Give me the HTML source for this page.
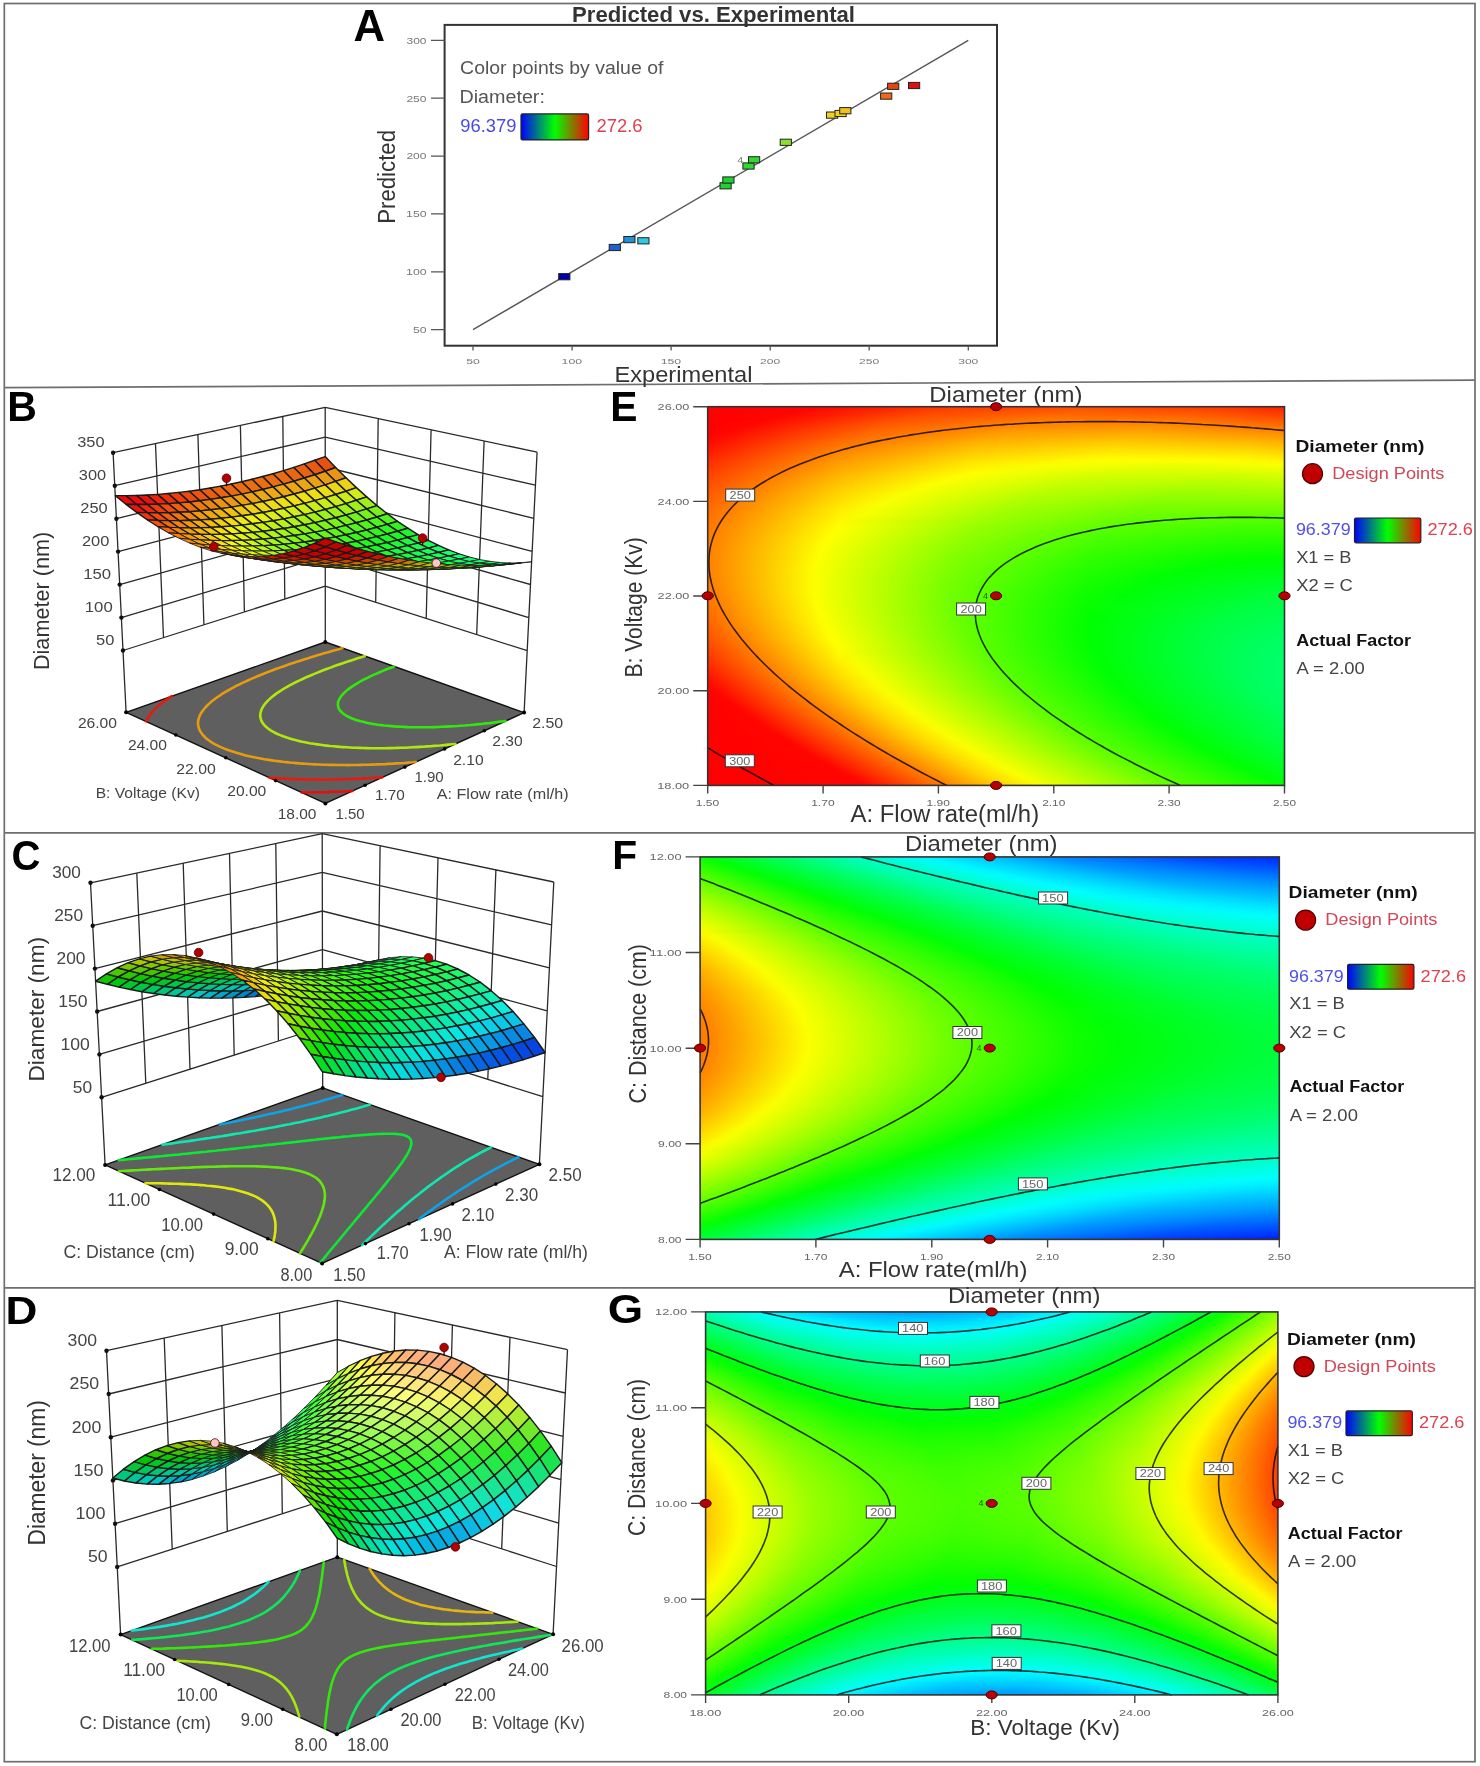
<!DOCTYPE html>
<html><head><meta charset="utf-8"><style>
html,body{margin:0;padding:0;background:#fff}
#c{position:relative;width:1480px;height:1766px;overflow:hidden;background:#fff;font-family:"Liberation Sans", sans-serif;filter:blur(0.45px)}
#c i{position:absolute;left:0;width:100%;height:4px;display:block}
svg{position:absolute;left:0;top:0}
text{font-family:"Liberation Sans", sans-serif}
</style></head><body><div id="c">
<div style="position:absolute;left:707.7px;top:406.7px;width:576.8px;height:378.7px;overflow:hidden">
<div style="position:absolute;left:-4px;top:-4px;width:584.8px;height:386.7px;filter:blur(1.6px)">
<i style="top:0px;background:linear-gradient(90deg,#f00 0.0%,#ff0500 22.1%,#ff3800 45.3%,#f40 68.6%,#ff2700 91.8%,#ff1400 99.9%)"></i>
<i style="top:4px;background:linear-gradient(90deg,#f00 0.0%,#ff0500 18.5%,#ff4000 41.7%,#ff5400 65.0%,#ff3f00 88.2%,#ff2600 99.9%)"></i>
<i style="top:8px;background:linear-gradient(90deg,#f00 0.0%,#ff0500 15.2%,#ff4700 38.5%,#ff6200 61.7%,#f50 85.0%,#ff3700 99.9%)"></i>
<i style="top:12px;background:linear-gradient(90deg,#f00 0.0%,#ff0500 12.5%,#ff4e00 35.7%,#ff6f00 59.0%,#ff6800 82.3%,#ff4800 99.9%)"></i>
<i style="top:16px;background:linear-gradient(90deg,#f00 0.0%,#ff0500 9.9%,#ff5400 33.2%,#ff7b00 56.4%,#ff7a00 79.7%,#ff5900 99.9%)"></i>
<i style="top:20px;background:linear-gradient(90deg,#f00 0.0%,#ff0500 7.7%,#ff5a00 31.0%,#ff8600 54.2%,#ff8b00 77.5%,#ff6a00 99.9%)"></i>
<i style="top:24px;background:linear-gradient(90deg,#f00 0.0%,#ff0600 5.8%,#ff6000 29.1%,#ff9100 52.3%,#ff9b00 75.6%,#ff7d00 98.8%,#ff7a00 99.9%)"></i>
<i style="top:28px;background:linear-gradient(90deg,#f00 0.0%,#ff0800 4.3%,#f60 27.5%,#ff9c00 50.8%,#fa0 74.0%,#ff9000 97.3%,#ff8b00 99.9%)"></i>
<i style="top:32px;background:linear-gradient(90deg,#f00 0.0%,#ff7200 28.2%,#ffa900 51.5%,#ffb700 74.7%,#ff9e00 98.0%,#ff9a00 99.9%)"></i>
<i style="top:36px;background:linear-gradient(90deg,#ff0300 0.0%,#ff6c00 23.3%,#ffac00 46.5%,#ffc500 69.8%,#ffb600 93.0%,#fa0 99.9%)"></i>
<i style="top:40px;background:linear-gradient(90deg,#ff0b00 0.0%,#ff7500 23.3%,#ffb800 46.5%,#ffd200 69.8%,#ffc500 93.0%,#ffb900 99.9%)"></i>
<i style="top:44px;background:linear-gradient(90deg,#ff1200 0.0%,#ff7f00 23.3%,#ffc300 46.5%,#ffdf00 69.8%,#ffd300 93.0%,#ffc800 99.9%)"></i>
<i style="top:48px;background:linear-gradient(90deg,#ff1a00 0.0%,#f80 23.3%,#ffce00 46.5%,#ffec00 69.8%,#ffe200 93.0%,#ffd700 99.9%)"></i>
<i style="top:52px;background:linear-gradient(90deg,#ff2100 0.0%,#ff9100 23.3%,#ffd800 46.5%,#fff800 69.8%,#fff000 93.0%,#ffe600 99.9%)"></i>
<i style="top:56px;background:linear-gradient(90deg,#ff2800 0.0%,#f90 23.3%,#ffe300 46.5%,#fdff00 66.2%,#fdff00 89.4%,#fff400 99.9%)"></i>
<i style="top:60px;background:linear-gradient(90deg,#ff2e00 0.0%,#ffa100 23.3%,#ffed00 46.5%,#faff00 58.8%,#ecff00 82.1%,#fcff00 99.9%)"></i>
<i style="top:64px;background:linear-gradient(90deg,#ff3500 0.0%,#ffa900 23.3%,#fff600 46.5%,#f5ff00 55.4%,#dfff00 78.7%,#ef0 99.9%)"></i>
<i style="top:68px;background:linear-gradient(90deg,#ff3b00 0.0%,#ffb100 23.3%,#ff0 46.2%,#d8ff00 69.4%,#d8ff00 92.7%,#e1ff00 99.9%)"></i>
<i style="top:72px;background:linear-gradient(90deg,#ff4000 0.0%,#ffb900 23.3%,#fdff00 43.4%,#d0ff00 66.7%,#caff00 89.9%,#d3ff00 99.9%)"></i>
<i style="top:76px;background:linear-gradient(90deg,#ff4600 0.0%,#ffc000 23.3%,#fcff00 41.0%,#c8ff00 64.3%,#bcff00 87.6%,#c6ff00 99.9%)"></i>
<i style="top:80px;background:linear-gradient(90deg,#ff4b00 0.0%,#ffc700 23.3%,#fbff00 38.6%,#c2ff00 61.9%,#b0ff00 85.2%,#baff00 99.9%)"></i>
<i style="top:84px;background:linear-gradient(90deg,#ff5000 0.0%,#ffce00 23.3%,#faff00 36.6%,#bcff00 59.8%,#a5ff00 83.1%,#adff00 99.9%)"></i>
<i style="top:88px;background:linear-gradient(90deg,#f50 0.0%,#ffd400 23.3%,#fbff00 34.5%,#b7ff00 57.8%,#9bff00 81.1%,#a1ff00 99.9%)"></i>
<i style="top:92px;background:linear-gradient(90deg,#ff5900 0.0%,#ffda00 23.3%,#faff00 32.8%,#b2ff00 56.1%,#91ff00 79.3%,#95ff00 99.9%)"></i>
<i style="top:96px;background:linear-gradient(90deg,#ff5e00 0.0%,#ffe000 23.3%,#faff00 31.3%,#adff00 54.5%,#8f0 77.8%,#8aff00 99.9%)"></i>
<i style="top:100px;background:linear-gradient(90deg,#ff6100 0.0%,#ffe600 23.3%,#faff00 29.9%,#a8ff00 53.2%,#7fff00 76.4%,#7eff00 99.7%,#7eff00 99.9%)"></i>
<i style="top:104px;background:linear-gradient(90deg,#ff6500 0.0%,#ffeb00 23.3%,#f9ff00 28.7%,#a4ff00 52.0%,#7f0 75.2%,#72ff00 98.5%,#73ff00 99.9%)"></i>
<i style="top:108px;background:linear-gradient(90deg,#ff6800 0.0%,#fff000 23.3%,#f7ff00 27.9%,#9fff00 51.1%,#6fff00 74.4%,#67ff00 97.6%,#68ff00 99.9%)"></i>
<i style="top:112px;background:linear-gradient(90deg,#ff6c00 0.0%,#fff500 23.3%,#f5ff00 27.4%,#9aff00 50.6%,#67ff00 73.9%,#5cff00 97.1%,#5eff00 99.9%)"></i>
<i style="top:116px;background:linear-gradient(90deg,#ff6e00 0.0%,#fffa00 23.3%,#a0ff00 46.7%,#65ff00 69.9%,#52ff00 93.2%,#54ff00 99.9%)"></i>
<i style="top:120px;background:linear-gradient(90deg,#ff7100 0.0%,#fffe00 23.3%,#97ff00 47.5%,#5cff00 70.8%,#48ff00 94.0%,#49ff00 99.9%)"></i>
<i style="top:124px;background:linear-gradient(90deg,#ff7300 0.0%,#ff0 22.7%,#97ff00 46.0%,#57ff00 69.3%,#3fff00 92.5%,#40ff00 99.9%)"></i>
<i style="top:128px;background:linear-gradient(90deg,#ff7500 0.0%,#ff0 22.1%,#94ff00 45.3%,#51ff00 68.6%,#36ff00 91.8%,#36ff00 99.9%)"></i>
<i style="top:132px;background:linear-gradient(90deg,#f70 0.0%,#feff00 21.5%,#91ff00 44.8%,#4bff00 68.1%,#2eff00 91.3%,#2dff00 99.9%)"></i>
<i style="top:136px;background:linear-gradient(90deg,#ff7900 0.0%,#feff00 21.0%,#8eff00 44.3%,#46ff00 67.5%,#26ff00 90.8%,#24ff00 99.9%)"></i>
<i style="top:140px;background:linear-gradient(90deg,#ff7a00 0.0%,#feff00 20.5%,#8bff00 43.8%,#41ff00 67.0%,#1eff00 90.3%,#1bff00 99.9%)"></i>
<i style="top:144px;background:linear-gradient(90deg,#ff7b00 0.0%,#fdff00 20.2%,#89ff00 43.4%,#3cff00 66.7%,#17ff00 89.9%,#13ff00 99.9%)"></i>
<i style="top:148px;background:linear-gradient(90deg,#ff7c00 0.0%,#fdff00 19.8%,#86ff00 43.1%,#37ff00 66.3%,#0fff00 89.6%,#0bff00 99.9%)"></i>
<i style="top:152px;background:linear-gradient(90deg,#ff7c00 0.0%,#fcff00 19.7%,#83ff00 42.9%,#32ff00 66.2%,#09ff00 89.4%,#03ff00 99.9%)"></i>
<i style="top:156px;background:linear-gradient(90deg,#ff7c00 0.0%,#fdff00 19.3%,#81ff00 42.6%,#2eff00 65.8%,#02ff00 89.1%,#00ff05 99.9%)"></i>
<i style="top:160px;background:linear-gradient(90deg,#ff7c00 0.0%,#fdff00 19.2%,#7fff00 42.4%,#29ff00 65.7%,#00ff02 86.7%,#00ff0c 99.9%)"></i>
<i style="top:164px;background:linear-gradient(90deg,#ff7c00 0.0%,#fdff00 19.0%,#7dff00 42.2%,#25ff00 65.5%,#00ff03 83.6%,#00ff13 99.9%)"></i>
<i style="top:168px;background:linear-gradient(90deg,#ff7b00 0.0%,#fdff00 18.8%,#7bff00 42.1%,#2f0 65.3%,#00ff04 80.9%,#00ff1a 99.9%)"></i>
<i style="top:172px;background:linear-gradient(90deg,#ff7a00 0.0%,#fcff00 18.8%,#79ff00 42.1%,#1eff00 65.3%,#00ff05 78.7%,#00ff20 99.9%)"></i>
<i style="top:176px;background:linear-gradient(90deg,#ff7900 0.0%,#fcff00 18.8%,#7f0 42.1%,#1aff00 65.3%,#00ff05 76.6%,#00ff27 99.9%)"></i>
<i style="top:180px;background:linear-gradient(90deg,#ff7800 0.0%,#fcff00 18.8%,#75ff00 42.1%,#17ff00 65.3%,#00ff05 75.1%,#00ff2c 98.3%,#00ff2d 99.9%)"></i>
<i style="top:184px;background:linear-gradient(90deg,#ff7600 0.0%,#fcff00 18.8%,#74ff00 42.1%,#13ff00 65.3%,#00ff06 73.7%,#00ff30 97.0%,#0f3 99.9%)"></i>
<i style="top:188px;background:linear-gradient(90deg,#ff7400 0.0%,#fdff00 18.8%,#73ff00 42.1%,#10ff00 65.3%,#00ff06 72.7%,#00ff34 95.9%,#00ff38 99.9%)"></i>
<i style="top:192px;background:linear-gradient(90deg,#ff7200 0.0%,#fdff00 19.0%,#71ff00 42.2%,#0dff00 65.5%,#00ff08 72.0%,#00ff38 95.2%,#00ff3d 99.9%)"></i>
<i style="top:196px;background:linear-gradient(90deg,#ff6f00 0.0%,#fdff00 19.2%,#6fff00 42.4%,#0aff00 65.7%,#00ff09 71.6%,#00ff3c 94.9%,#00ff42 99.9%)"></i>
<i style="top:200px;background:linear-gradient(90deg,#ff6c00 0.0%,#fdff00 19.3%,#6eff00 42.6%,#07ff00 65.8%,#00ff0f 72.5%,#00ff42 95.8%,#00ff47 99.9%)"></i>
<i style="top:204px;background:linear-gradient(90deg,#ff6900 0.0%,#fdff00 19.5%,#6dff00 42.7%,#05ff00 66.0%,#00ff43 94.0%,#00ff4b 99.9%)"></i>
<i style="top:208px;background:linear-gradient(90deg,#f60 0.0%,#fdff00 19.8%,#6bff00 43.1%,#02ff00 66.3%,#00ff43 91.8%,#00ff4f 99.9%)"></i>
<i style="top:212px;background:linear-gradient(90deg,#ff6300 0.0%,#fdff00 20.0%,#6bff00 43.3%,#0f0 66.5%,#00ff43 89.8%,#00ff53 99.9%)"></i>
<i style="top:216px;background:linear-gradient(90deg,#ff5f00 0.0%,#fdff00 20.3%,#6aff00 43.6%,#0f0 66.3%,#00ff45 89.6%,#00ff57 99.9%)"></i>
<i style="top:220px;background:linear-gradient(90deg,#ff5b00 0.0%,#fdff00 20.7%,#68ff00 43.9%,#00ff01 66.2%,#00ff47 89.4%,#00ff5a 99.9%)"></i>
<i style="top:224px;background:linear-gradient(90deg,#ff5600 0.0%,#feff00 21.0%,#68ff00 44.3%,#0f0 66.0%,#00ff49 89.3%,#00ff5d 99.9%)"></i>
<i style="top:228px;background:linear-gradient(90deg,#ff5200 0.0%,#feff00 21.4%,#67ff00 44.6%,#00ff01 66.0%,#00ff4b 89.3%,#00ff60 99.9%)"></i>
<i style="top:232px;background:linear-gradient(90deg,#ff4d00 0.0%,#ff0 21.7%,#67ff00 45.0%,#00ff01 66.2%,#00ff4e 89.4%,#00ff63 99.9%)"></i>
<i style="top:236px;background:linear-gradient(90deg,#ff4800 0.0%,#ff0 22.2%,#6f0 45.5%,#00ff01 66.2%,#00ff4f 89.4%,#00ff65 99.9%)"></i>
<i style="top:240px;background:linear-gradient(90deg,#ff4200 0.0%,#ff0 22.7%,#65ff00 46.0%,#00ff01 66.3%,#00ff51 89.6%,#00ff67 99.9%)"></i>
<i style="top:244px;background:linear-gradient(90deg,#ff3c00 0.0%,#fffe00 23.1%,#5eff00 47.5%,#00ff02 66.7%,#00ff53 89.9%,#00ff69 99.9%)"></i>
<i style="top:248px;background:linear-gradient(90deg,#ff3600 0.0%,#fffb00 23.3%,#50ff00 50.4%,#00ff03 67.2%,#0f5 90.5%,#00ff6a 99.9%)"></i>
<i style="top:252px;background:linear-gradient(90deg,#ff3000 0.0%,#fff600 23.3%,#f3ff00 26.0%,#59ff00 49.2%,#00ff03 67.4%,#00ff56 90.6%,#00ff6b 99.9%)"></i>
<i style="top:256px;background:linear-gradient(90deg,#ff2a00 0.0%,#fff200 23.3%,#f7ff00 26.0%,#5cff00 49.2%,#00ff03 67.7%,#00ff57 91.0%,#00ff6c 99.9%)"></i>
<i style="top:260px;background:linear-gradient(90deg,#ff2300 0.0%,#ffed00 23.3%,#f8ff00 26.5%,#5cff00 49.8%,#00ff03 68.1%,#00ff58 91.3%,#00ff6d 99.9%)"></i>
<i style="top:264px;background:linear-gradient(90deg,#ff1c00 0.0%,#ffe700 23.3%,#f9ff00 27.0%,#5cff00 50.3%,#00ff03 68.6%,#00ff59 91.8%,#00ff6d 99.9%)"></i>
<i style="top:268px;background:linear-gradient(90deg,#ff1500 0.0%,#ffe200 23.3%,#faff00 27.7%,#5cff00 51.0%,#00ff03 69.1%,#00ff5a 92.3%,#00ff6e 99.9%)"></i>
<i style="top:272px;background:linear-gradient(90deg,#ff0d00 0.0%,#ffdc00 23.3%,#faff00 28.4%,#5cff00 51.6%,#00ff03 69.6%,#00ff5b 92.9%,#00ff6d 99.9%)"></i>
<i style="top:276px;background:linear-gradient(90deg,#ff0500 0.0%,#ffd600 23.3%,#faff00 29.1%,#5bff00 52.3%,#00ff03 70.1%,#00ff5b 93.4%,#00ff6d 99.9%)"></i>
<i style="top:280px;background:linear-gradient(90deg,#f00 0.0%,#ffe800 26.3%,#faff00 29.9%,#5aff00 53.2%,#00ff03 70.8%,#00ff5c 94.0%,#00ff6c 99.9%)"></i>
<i style="top:284px;background:linear-gradient(90deg,#f00 0.0%,#ff0900 2.1%,#ffda00 25.3%,#faff00 30.6%,#5bff00 53.9%,#00ff04 71.5%,#00ff5d 94.7%,#00ff6b 99.9%)"></i>
<i style="top:288px;background:linear-gradient(90deg,#f00 0.0%,#ff0700 2.7%,#ffd800 26.0%,#faff00 31.5%,#5aff00 54.7%,#00ff04 72.2%,#00ff5e 95.4%,#00ff6a 99.9%)"></i>
<i style="top:292px;background:linear-gradient(90deg,#f00 0.0%,#ff0500 3.4%,#ffd700 26.7%,#faff00 32.3%,#5aff00 55.6%,#00ff03 72.8%,#00ff5e 96.1%,#00ff69 99.9%)"></i>
<i style="top:296px;background:linear-gradient(90deg,#f00 0.0%,#ff0500 4.3%,#ffd700 27.5%,#faff00 33.2%,#5aff00 56.4%,#00ff04 73.7%,#00ff5f 97.0%,#00ff67 99.9%)"></i>
<i style="top:300px;background:linear-gradient(90deg,#f00 0.0%,#ff0400 5.1%,#ffd700 28.4%,#faff00 34.0%,#5aff00 57.3%,#00ff04 74.6%,#00ff5f 97.8%,#00ff65 99.9%)"></i>
<i style="top:304px;background:linear-gradient(90deg,#f00 0.0%,#ff0500 6.2%,#ffd700 29.4%,#faff00 35.1%,#59ff00 58.3%,#00ff04 75.4%,#00ff5f 98.7%,#00ff63 99.9%)"></i>
<i style="top:308px;background:linear-gradient(90deg,#f00 0.0%,#ff0400 7.0%,#ffd700 30.3%,#faff00 35.9%,#59ff00 59.2%,#00ff04 76.3%,#00ff5f 99.5%,#00ff60 99.9%)"></i>
<i style="top:312px;background:linear-gradient(90deg,#f00 0.0%,#ff0500 8.0%,#ffd700 31.3%,#faff00 36.9%,#59ff00 60.2%,#00ff03 77.1%,#00ff5d 99.9%)"></i>
<i style="top:316px;background:linear-gradient(90deg,#f00 0.0%,#ff0500 9.1%,#ffd700 32.3%,#faff00 38.0%,#59ff00 61.2%,#00ff03 78.1%,#00ff5a 99.9%)"></i>
<i style="top:320px;background:linear-gradient(90deg,#f00 0.0%,#ff0500 10.1%,#ffd700 33.3%,#f9ff00 39.0%,#59ff00 62.2%,#00ff03 79.2%,#00ff57 99.9%)"></i>
<i style="top:324px;background:linear-gradient(90deg,#f00 0.0%,#ff0500 11.1%,#ffd700 34.4%,#faff00 40.0%,#59ff00 63.3%,#00ff03 80.2%,#00ff54 99.9%)"></i>
<i style="top:328px;background:linear-gradient(90deg,#f00 0.0%,#ff0500 12.1%,#ffd700 35.4%,#faff00 41.0%,#59ff00 64.3%,#00ff04 81.4%,#00ff50 99.9%)"></i>
<i style="top:332px;background:linear-gradient(90deg,#f00 0.0%,#ff0400 13.2%,#ffd700 36.4%,#faff00 42.1%,#5aff00 65.3%,#00ff03 82.4%,#00ff4c 99.9%)"></i>
<i style="top:336px;background:linear-gradient(90deg,#f00 0.0%,#ff0500 14.4%,#ffd700 37.6%,#faff00 43.3%,#59ff00 66.5%,#00ff03 83.6%,#00ff47 99.9%)"></i>
<i style="top:340px;background:linear-gradient(90deg,#f00 0.0%,#ff0400 15.4%,#ffd600 38.6%,#f9ff00 44.5%,#59ff00 67.7%,#00ff03 84.8%,#00ff42 99.9%)"></i>
<i style="top:344px;background:linear-gradient(90deg,#f00 0.0%,#ff0500 16.6%,#ffd700 39.8%,#faff00 45.5%,#5aff00 68.7%,#00ff04 86.2%,#00ff3e 99.9%)"></i>
<i style="top:348px;background:linear-gradient(90deg,#f00 0.0%,#ff0400 17.6%,#ffd500 40.9%,#faff00 46.7%,#5bff00 69.9%,#00ff03 87.4%,#00ff38 99.9%)"></i>
<i style="top:352px;background:linear-gradient(90deg,#f00 0.0%,#ff0400 18.8%,#ffd500 42.1%,#fbff00 47.9%,#5bff00 71.1%,#00ff03 88.7%,#0f3 99.9%)"></i>
<i style="top:356px;background:linear-gradient(90deg,#f00 0.0%,#ff0400 20.0%,#ffd500 43.3%,#faff00 49.2%,#5bff00 72.5%,#00ff03 90.1%,#00ff2d 99.9%)"></i>
<i style="top:360px;background:linear-gradient(90deg,#f00 0.0%,#ff0400 21.2%,#ffd500 44.5%,#faff00 50.4%,#5cff00 73.7%,#00ff03 91.5%,#00ff27 99.9%)"></i>
<i style="top:364px;background:linear-gradient(90deg,#f00 0.0%,#ff0400 22.4%,#ffd400 45.7%,#faff00 51.8%,#5cff00 75.1%,#00ff03 93.0%,#00ff21 99.9%)"></i>
<i style="top:368px;background:linear-gradient(90deg,#f00 0.0%,#ff0500 23.8%,#ffd500 47.0%,#faff00 53.0%,#5dff00 76.3%,#00ff03 94.6%,#00ff1a 99.9%)"></i>
<i style="top:372px;background:linear-gradient(90deg,#f00 0.0%,#ff0400 25.0%,#ffd400 48.2%,#faff00 54.4%,#5dff00 77.6%,#00ff03 96.1%,#00ff14 99.9%)"></i>
<i style="top:376px;background:linear-gradient(90deg,#f00 0.0%,#ff0500 26.3%,#ffd400 49.6%,#faff00 55.7%,#5eff00 79.0%,#00ff03 97.6%,#00ff0c 99.9%)"></i>
<i style="top:380px;background:linear-gradient(90deg,#f00 0.0%,#ff0400 27.5%,#ffd200 50.8%,#faff00 57.1%,#5fff00 80.4%,#00ff03 99.4%,#00ff05 99.9%)"></i>
<i style="top:384px;background:linear-gradient(90deg,#f00 0.0%,#ff0400 28.9%,#ffd200 52.2%,#faff00 58.7%,#5fff00 81.9%,#02ff00 99.9%)"></i>
</div></div>
<div style="position:absolute;left:700.1px;top:856.9px;width:579.2px;height:382.5px;overflow:hidden">
<div style="position:absolute;left:-4px;top:-4px;width:587.2px;height:390.5px;filter:blur(1.6px)">
<i style="top:0px;background:linear-gradient(90deg,#02ff00 0.0%,#00ffc1 25.7%,#00faff 36.4%,#0087ff 59.6%,#003bff 82.8%,#001cff 100.0%)"></i>
<i style="top:4px;background:linear-gradient(90deg,#13ff00 0.0%,#00ff07 3.1%,#00ffb3 26.2%,#00fbff 39.3%,#008cff 62.5%,#0045ff 85.7%,#002dff 100.0%)"></i>
<i style="top:8px;background:linear-gradient(90deg,#24ff00 0.0%,#00ff06 4.9%,#00ffaf 28.1%,#00faff 42.4%,#0091ff 65.6%,#0050ff 88.7%,#003eff 100.0%)"></i>
<i style="top:12px;background:linear-gradient(90deg,#34ff00 0.0%,#00ff05 6.8%,#00ffab 30.0%,#00fbff 45.5%,#0097ff 68.6%,#005bff 91.8%,#004fff 100.0%)"></i>
<i style="top:16px;background:linear-gradient(90deg,#43ff00 0.0%,#00ff05 8.9%,#00ffa7 32.0%,#00fbff 48.5%,#009dff 71.7%,#06f 94.9%,#005fff 100.0%)"></i>
<i style="top:20px;background:linear-gradient(90deg,#53ff00 0.0%,#00ff04 10.7%,#00ffa3 33.9%,#00fcff 51.6%,#00a3ff 74.8%,#0071ff 97.9%,#006fff 100.0%)"></i>
<i style="top:24px;background:linear-gradient(90deg,#62ff00 0.0%,#00ff04 12.6%,#00ff9f 35.8%,#00fcff 54.8%,#00a9ff 78.0%,#007eff 100.0%)"></i>
<i style="top:28px;background:linear-gradient(90deg,#70ff00 0.0%,#00ff04 14.6%,#00ff9c 37.8%,#00fdff 58.1%,#00b0ff 81.2%,#008eff 100.0%)"></i>
<i style="top:32px;background:linear-gradient(90deg,#7eff00 0.0%,#00ff04 16.5%,#00ff98 39.7%,#00feff 61.5%,#00b6ff 84.6%,#009cff 100.0%)"></i>
<i style="top:36px;background:linear-gradient(90deg,#8cff00 0.0%,#00ff03 18.4%,#00ff95 41.6%,#00fffe 64.7%,#00bcff 88.7%,#00abff 100.0%)"></i>
<i style="top:40px;background:linear-gradient(90deg,#9aff00 0.0%,#00ff02 20.1%,#00ff90 43.3%,#00fff7 66.4%,#00f3ff 72.4%,#00bfff 95.5%,#00b9ff 100.0%)"></i>
<i style="top:44px;background:linear-gradient(90deg,#a7ff00 0.0%,#0f0 21.8%,#00ff8b 45.0%,#00ffef 68.1%,#00f8ff 75.3%,#00c8ff 98.4%,#00c7ff 100.0%)"></i>
<i style="top:48px;background:linear-gradient(90deg,#b4ff00 0.0%,#03ff00 23.2%,#00ff96 49.7%,#00fff1 72.9%,#00f8ff 80.2%,#00d4ff 100.0%)"></i>
<i style="top:52px;background:linear-gradient(90deg,#c0ff00 0.0%,#10ff00 23.2%,#00ff07 26.6%,#00ff89 49.7%,#00ffe5 72.9%,#00faff 84.8%,#00e1ff 100.0%)"></i>
<i style="top:56px;background:linear-gradient(90deg,#cf0 0.0%,#1cff00 23.2%,#00ff05 28.3%,#00ff85 51.4%,#0fd 74.6%,#00fbff 90.6%,#0ef 100.0%)"></i>
<i style="top:60px;background:linear-gradient(90deg,#d8ff00 0.0%,#28ff00 23.2%,#00ff05 30.1%,#00ff82 53.3%,#00ffd7 76.5%,#00fdff 97.1%,#00faff 100.0%)"></i>
<i style="top:64px;background:linear-gradient(90deg,#e3ff00 0.0%,#3f0 23.2%,#00ff04 31.8%,#00ff7e 55.0%,#00ffcf 78.2%,#00fff8 100.0%)"></i>
<i style="top:68px;background:linear-gradient(90deg,#ef0 0.0%,#3eff00 23.2%,#00ff05 33.7%,#00ff7b 56.9%,#00ffc9 80.0%,#00ffed 100.0%)"></i>
<i style="top:72px;background:linear-gradient(90deg,#f9ff00 0.0%,#49ff00 23.2%,#00ff05 35.6%,#0f7 58.8%,#00ffc2 81.9%,#00ffe2 100.0%)"></i>
<i style="top:76px;background:linear-gradient(90deg,#fffb00 0.0%,#3bff00 26.9%,#00ff05 37.5%,#00ff74 60.6%,#00ffbc 83.8%,#00ffd7 100.0%)"></i>
<i style="top:80px;background:linear-gradient(90deg,#fff100 0.0%,#f7ff00 2.6%,#4cff00 25.7%,#00ff05 39.2%,#00ff71 62.3%,#00ffb6 85.5%,#0fc 100.0%)"></i>
<i style="top:84px;background:linear-gradient(90deg,#ffe800 0.0%,#faff00 3.4%,#51ff00 26.6%,#00ff04 40.9%,#00ff6d 64.0%,#00ffaf 87.2%,#00ffc2 100.0%)"></i>
<i style="top:88px;background:linear-gradient(90deg,#ffdf00 0.0%,#f9ff00 4.6%,#52ff00 27.8%,#00ff04 42.6%,#00ff6a 65.7%,#00ffa9 88.9%,#00ffb9 100.0%)"></i>
<i style="top:92px;background:linear-gradient(90deg,#ffd600 0.0%,#faff00 5.6%,#5f0 28.8%,#00ff04 44.3%,#00ff67 67.4%,#00ffa2 90.6%,#00ffaf 100.0%)"></i>
<i style="top:96px;background:linear-gradient(90deg,#ffce00 0.0%,#faff00 6.6%,#57ff00 29.8%,#00ff04 46.0%,#00ff64 69.1%,#00ff9c 92.3%,#00ffa6 100.0%)"></i>
<i style="top:100px;background:linear-gradient(90deg,#ffc600 0.0%,#faff00 7.7%,#59ff00 30.8%,#00ff04 47.7%,#00ff61 70.8%,#00ff96 94.0%,#00ff9e 100.0%)"></i>
<i style="top:104px;background:linear-gradient(90deg,#ffbe00 0.0%,#faff00 8.7%,#5aff00 31.8%,#00ff03 49.2%,#00ff5e 72.4%,#00ff90 95.5%,#00ff95 100.0%)"></i>
<i style="top:108px;background:linear-gradient(90deg,#ffb700 0.0%,#fbff00 9.5%,#5dff00 32.7%,#00ff03 50.7%,#00ff5a 73.9%,#00ff8a 97.1%,#00ff8e 100.0%)"></i>
<i style="top:112px;background:linear-gradient(90deg,#ffb000 0.0%,#fbff00 10.4%,#5fff00 33.5%,#00ff03 52.3%,#00ff57 75.4%,#00ff85 98.6%,#00ff86 100.0%)"></i>
<i style="top:116px;background:linear-gradient(90deg,#ffa900 0.0%,#faff00 11.4%,#60ff00 34.6%,#00ff03 53.8%,#0f5 77.0%,#00ff7f 100.0%)"></i>
<i style="top:120px;background:linear-gradient(90deg,#ffa300 0.0%,#fbff00 12.1%,#62ff00 35.3%,#00ff02 55.2%,#00ff52 78.3%,#00ff78 100.0%)"></i>
<i style="top:124px;background:linear-gradient(90deg,#ff9d00 0.0%,#fbff00 12.9%,#63ff00 36.1%,#00ff02 56.5%,#00ff4f 79.7%,#00ff72 100.0%)"></i>
<i style="top:128px;background:linear-gradient(90deg,#ff9800 0.0%,#fbff00 13.6%,#65ff00 36.8%,#00ff01 57.9%,#00ff4c 81.1%,#00ff6c 100.0%)"></i>
<i style="top:132px;background:linear-gradient(90deg,#ff9300 0.0%,#faff00 14.5%,#6f0 37.6%,#00ff01 59.1%,#00ff49 82.3%,#0f6 100.0%)"></i>
<i style="top:136px;background:linear-gradient(90deg,#ff8e00 0.0%,#fbff00 15.0%,#68ff00 38.1%,#0f0 60.3%,#00ff47 83.4%,#00ff61 100.0%)"></i>
<i style="top:140px;background:linear-gradient(90deg,#ff8a00 0.0%,#fbff00 15.7%,#69ff00 38.8%,#0f0 61.5%,#0f4 84.6%,#00ff5c 100.0%)"></i>
<i style="top:144px;background:linear-gradient(90deg,#ff8600 0.0%,#fbff00 16.2%,#6aff00 39.3%,#0f0 62.5%,#00ff43 86.0%,#00ff57 100.0%)"></i>
<i style="top:148px;background:linear-gradient(90deg,#ff8200 0.0%,#fcff00 16.7%,#6bff00 39.9%,#02ff00 63.0%,#0f4 88.7%,#00ff53 100.0%)"></i>
<i style="top:152px;background:linear-gradient(90deg,#ff7f00 0.0%,#fbff00 17.2%,#6cff00 40.4%,#04ff00 63.5%,#00ff43 90.8%,#00ff4f 100.0%)"></i>
<i style="top:156px;background:linear-gradient(90deg,#ff7c00 0.0%,#fcff00 17.5%,#6dff00 40.7%,#06ff00 63.9%,#00ff19 73.4%,#00ff48 96.6%,#00ff4c 100.0%)"></i>
<i style="top:160px;background:linear-gradient(90deg,#ff7900 0.0%,#fcff00 17.9%,#6eff00 41.0%,#08ff00 64.2%,#00ff0d 70.5%,#00ff41 93.7%,#00ff48 100.0%)"></i>
<i style="top:164px;background:linear-gradient(90deg,#f70 0.0%,#fcff00 18.2%,#6fff00 41.4%,#09ff00 64.5%,#00ff0a 70.3%,#00ff3e 93.5%,#00ff46 100.0%)"></i>
<i style="top:168px;background:linear-gradient(90deg,#ff7500 0.0%,#fdff00 18.4%,#70ff00 41.6%,#0bff00 64.7%,#00ff09 70.7%,#00ff3c 93.8%,#00ff43 100.0%)"></i>
<i style="top:172px;background:linear-gradient(90deg,#ff7400 0.0%,#fcff00 18.7%,#70ff00 41.9%,#0cff00 65.1%,#00ff08 71.0%,#00ff3b 94.2%,#00ff41 100.0%)"></i>
<i style="top:176px;background:linear-gradient(90deg,#ff7300 0.0%,#fcff00 18.9%,#70ff00 42.1%,#0cff00 65.2%,#00ff07 71.4%,#00ff39 94.5%,#00ff40 100.0%)"></i>
<i style="top:180px;background:linear-gradient(90deg,#ff7200 0.0%,#fdff00 18.9%,#71ff00 42.1%,#0dff00 65.2%,#00ff07 71.7%,#00ff39 94.9%,#00ff3e 100.0%)"></i>
<i style="top:184px;background:linear-gradient(90deg,#ff7200 0.0%,#fcff00 19.1%,#71ff00 42.2%,#0eff00 65.4%,#00ff07 71.9%,#00ff38 95.0%,#00ff3d 100.0%)"></i>
<i style="top:188px;background:linear-gradient(90deg,#ff7200 0.0%,#fcff00 19.1%,#71ff00 42.2%,#0eff00 65.4%,#00ff07 72.0%,#00ff38 95.2%,#00ff3d 100.0%)"></i>
<i style="top:192px;background:linear-gradient(90deg,#ff7200 0.0%,#fcff00 19.1%,#71ff00 42.2%,#0eff00 65.4%,#00ff07 72.0%,#00ff37 95.2%,#00ff3c 100.0%)"></i>
<i style="top:196px;background:linear-gradient(90deg,#ff7300 0.0%,#fdff00 18.9%,#72ff00 42.1%,#0eff00 65.2%,#00ff07 71.9%,#00ff37 95.0%,#00ff3d 100.0%)"></i>
<i style="top:200px;background:linear-gradient(90deg,#ff7400 0.0%,#fdff00 18.7%,#72ff00 41.9%,#0eff00 65.1%,#00ff07 71.7%,#00ff38 94.9%,#00ff3d 100.0%)"></i>
<i style="top:204px;background:linear-gradient(90deg,#ff7500 0.0%,#fdff00 18.6%,#71ff00 41.7%,#0eff00 64.9%,#00ff07 71.4%,#00ff38 94.5%,#00ff3e 100.0%)"></i>
<i style="top:208px;background:linear-gradient(90deg,#f70 0.0%,#fcff00 18.4%,#71ff00 41.6%,#0dff00 64.7%,#00ff08 71.0%,#00ff39 94.2%,#00ff3f 100.0%)"></i>
<i style="top:212px;background:linear-gradient(90deg,#ff7900 0.0%,#fcff00 18.1%,#70ff00 41.2%,#0cff00 64.4%,#00ff08 70.5%,#00ff3a 93.7%,#00ff41 100.0%)"></i>
<i style="top:216px;background:linear-gradient(90deg,#ff7c00 0.0%,#fcff00 17.7%,#70ff00 40.9%,#0bff00 64.0%,#00ff08 70.0%,#00ff3b 93.2%,#00ff43 100.0%)"></i>
<i style="top:220px;background:linear-gradient(90deg,#ff7f00 0.0%,#fcff00 17.4%,#6fff00 40.5%,#0aff00 63.7%,#00ff09 69.5%,#00ff3d 92.6%,#00ff45 100.0%)"></i>
<i style="top:224px;background:linear-gradient(90deg,#ff8200 0.0%,#fcff00 16.9%,#6fff00 40.0%,#09ff00 63.2%,#00ff0b 69.1%,#00ff3f 92.3%,#00ff48 100.0%)"></i>
<i style="top:228px;background:linear-gradient(90deg,#ff8600 0.0%,#fbff00 16.5%,#6dff00 39.7%,#07ff00 62.8%,#00ff13 70.7%,#00ff45 93.8%,#00ff4b 100.0%)"></i>
<i style="top:232px;background:linear-gradient(90deg,#ff8a00 0.0%,#fcff00 15.8%,#6dff00 39.0%,#05ff00 62.2%,#00ff38 84.3%,#00ff4e 100.0%)"></i>
<i style="top:236px;background:linear-gradient(90deg,#ff8e00 0.0%,#fbff00 15.3%,#6bff00 38.5%,#03ff00 61.6%,#00ff43 88.0%,#00ff52 100.0%)"></i>
<i style="top:240px;background:linear-gradient(90deg,#ff9300 0.0%,#fbff00 14.6%,#6aff00 37.8%,#01ff00 61.0%,#00ff43 85.7%,#00ff56 100.0%)"></i>
<i style="top:244px;background:linear-gradient(90deg,#ff9800 0.0%,#fbff00 14.0%,#69ff00 37.1%,#0f0 59.9%,#0f4 83.6%,#00ff5b 100.0%)"></i>
<i style="top:248px;background:linear-gradient(90deg,#ff9d00 0.0%,#fbff00 13.3%,#68ff00 36.4%,#0f0 58.8%,#00ff45 81.9%,#00ff60 100.0%)"></i>
<i style="top:252px;background:linear-gradient(90deg,#ffa300 0.0%,#fbff00 12.4%,#67ff00 35.6%,#0f0 57.4%,#00ff48 80.6%,#00ff65 100.0%)"></i>
<i style="top:256px;background:linear-gradient(90deg,#ffa900 0.0%,#fbff00 11.6%,#6f0 34.7%,#00ff01 56.0%,#00ff4a 79.2%,#00ff6b 100.0%)"></i>
<i style="top:260px;background:linear-gradient(90deg,#ffb000 0.0%,#fbff00 10.7%,#64ff00 33.9%,#00ff02 54.7%,#00ff4d 77.8%,#00ff71 100.0%)"></i>
<i style="top:264px;background:linear-gradient(90deg,#ffb700 0.0%,#faff00 9.9%,#62ff00 33.0%,#00ff02 53.1%,#00ff50 76.3%,#0f7 99.5%,#0f7 100.0%)"></i>
<i style="top:268px;background:linear-gradient(90deg,#ffbe00 0.0%,#fbff00 8.9%,#61ff00 32.0%,#00ff02 51.6%,#00ff53 74.8%,#00ff7c 97.9%,#00ff7e 100.0%)"></i>
<i style="top:272px;background:linear-gradient(90deg,#ffc600 0.0%,#fbff00 7.8%,#5fff00 31.0%,#00ff03 50.1%,#00ff56 73.2%,#00ff82 96.4%,#00ff85 100.0%)"></i>
<i style="top:276px;background:linear-gradient(90deg,#ffce00 0.0%,#faff00 6.8%,#5dff00 30.0%,#00ff03 48.4%,#00ff59 71.5%,#00ff87 94.7%,#00ff8c 100.0%)"></i>
<i style="top:280px;background:linear-gradient(90deg,#ffd600 0.0%,#faff00 5.8%,#5bff00 29.0%,#00ff03 46.7%,#00ff5c 69.8%,#00ff8d 93.0%,#00ff94 100.0%)"></i>
<i style="top:284px;background:linear-gradient(90deg,#ffdf00 0.0%,#faff00 4.6%,#5aff00 27.8%,#00ff04 45.0%,#00ff5f 68.1%,#00ff93 91.3%,#00ff9c 100.0%)"></i>
<i style="top:288px;background:linear-gradient(90deg,#ffe800 0.0%,#f9ff00 3.6%,#57ff00 26.7%,#00ff03 43.1%,#00ff62 66.2%,#0f9 89.4%,#00ffa5 100.0%)"></i>
<i style="top:292px;background:linear-gradient(90deg,#fff200 0.0%,#f6ff00 2.7%,#53ff00 25.9%,#00ff04 41.4%,#00ff65 64.5%,#00ff9f 87.7%,#00ffae 100.0%)"></i>
<i style="top:296px;background:linear-gradient(90deg,#fffc00 0.0%,#4f0 26.7%,#00ff04 39.5%,#00ff69 62.7%,#00ffa5 85.8%,#00ffb7 100.0%)"></i>
<i style="top:300px;background:linear-gradient(90deg,#f8ff00 0.0%,#50ff00 23.2%,#00ff04 37.6%,#00ff6c 60.8%,#00ffac 84.0%,#00ffc1 100.0%)"></i>
<i style="top:304px;background:linear-gradient(90deg,#ef0 0.0%,#46ff00 23.2%,#00ff05 35.8%,#00ff6f 58.9%,#00ffb2 82.1%,#00ffcb 100.0%)"></i>
<i style="top:308px;background:linear-gradient(90deg,#e3ff00 0.0%,#3bff00 23.2%,#00ff05 33.9%,#00ff73 57.1%,#00ffb9 80.2%,#00ffd5 100.0%)"></i>
<i style="top:312px;background:linear-gradient(90deg,#d7ff00 0.0%,#30ff00 23.2%,#00ff05 31.8%,#00ff75 55.0%,#00ffbf 78.2%,#00ffe0 100.0%)"></i>
<i style="top:316px;background:linear-gradient(90deg,#cf0 0.0%,#24ff00 23.2%,#00ff05 30.0%,#00ff79 53.1%,#00ffc6 76.3%,#00ffea 99.5%,#00ffeb 100.0%)"></i>
<i style="top:320px;background:linear-gradient(90deg,#c0ff00 0.0%,#19ff00 23.2%,#00ff06 28.1%,#00ff7d 51.3%,#0fc 74.4%,#00fff4 97.6%,#00fff6 100.0%)"></i>
<i style="top:324px;background:linear-gradient(90deg,#b3ff00 0.0%,#0cff00 23.2%,#00ff08 26.4%,#00ff82 49.6%,#00ffd4 72.7%,#0ff 95.9%,#00fcff 100.0%)"></i>
<i style="top:328px;background:linear-gradient(90deg,#a6ff00 0.0%,#01ff00 23.0%,#00ff83 47.0%,#00ffd9 70.2%,#00fcff 88.7%,#00f0ff 100.0%)"></i>
<i style="top:332px;background:linear-gradient(90deg,#9f0 0.0%,#00ff01 21.3%,#00ff84 44.4%,#00ffde 67.6%,#00fbff 82.3%,#00e3ff 100.0%)"></i>
<i style="top:336px;background:linear-gradient(90deg,#8cff00 0.0%,#00ff02 19.4%,#0f8 42.6%,#00ffe6 65.7%,#00faff 76.6%,#00d6ff 99.8%,#00d6ff 100.0%)"></i>
<i style="top:340px;background:linear-gradient(90deg,#7eff00 0.0%,#00ff04 17.5%,#00ff8c 40.7%,#00ffed 63.9%,#00f9ff 71.9%,#00cdff 95.0%,#00c9ff 100.0%)"></i>
<i style="top:344px;background:linear-gradient(90deg,#70ff00 0.0%,#00ff04 15.5%,#00ff90 38.7%,#00fff4 61.8%,#00f6ff 67.9%,#00c4ff 91.1%,#0bf 100.0%)"></i>
<i style="top:348px;background:linear-gradient(90deg,#61ff00 0.0%,#00ff04 13.5%,#00ff93 36.6%,#00fffb 59.8%,#00bcff 87.0%,#00adff 100.0%)"></i>
<i style="top:352px;background:linear-gradient(90deg,#52ff00 0.0%,#00ff05 11.4%,#00ff97 34.6%,#0ff 57.1%,#00baff 80.2%,#009fff 100.0%)"></i>
<i style="top:356px;background:linear-gradient(90deg,#43ff00 0.0%,#00ff05 9.4%,#00ff9b 32.5%,#00feff 53.5%,#00b3ff 76.6%,#0090ff 99.8%,#0090ff 100.0%)"></i>
<i style="top:360px;background:linear-gradient(90deg,#3f0 0.0%,#00ff04 7.2%,#00ff9e 30.3%,#00fdff 50.1%,#00acff 73.2%,#0084ff 96.4%,#0081ff 100.0%)"></i>
<i style="top:364px;background:linear-gradient(90deg,#23ff00 0.0%,#00ff05 5.1%,#00ffa2 28.3%,#00fcff 46.7%,#00a6ff 69.8%,#0078ff 93.0%,#0072ff 100.0%)"></i>
<i style="top:368px;background:linear-gradient(90deg,#13ff00 0.0%,#00ff07 3.2%,#00ffa7 26.4%,#00fcff 43.3%,#00a0ff 66.4%,#006cff 89.6%,#0062ff 100.0%)"></i>
<i style="top:372px;background:linear-gradient(90deg,#02ff00 0.0%,#00ffb0 25.2%,#00fbff 40.0%,#009aff 63.2%,#0061ff 86.3%,#0052ff 100.0%)"></i>
<i style="top:376px;background:linear-gradient(90deg,#00ff0f 0.0%,#00ffb4 23.2%,#00fbff 36.8%,#0095ff 59.9%,#0056ff 83.1%,#0041ff 100.0%)"></i>
<i style="top:380px;background:linear-gradient(90deg,#00ff21 0.0%,#00ffc6 23.2%,#00faff 33.7%,#008fff 56.9%,#004bff 80.0%,#0030ff 100.0%)"></i>
<i style="top:384px;background:linear-gradient(90deg,#0f3 0.0%,#00ffd8 23.2%,#00faff 30.7%,#0089ff 53.8%,#0040ff 77.0%,#001fff 100.0%)"></i>
<i style="top:388px;background:linear-gradient(90deg,#00ff45 0.0%,#00ffea 23.2%,#00f9ff 27.6%,#0084ff 50.7%,#0036ff 73.9%,#000fff 97.1%,#000dff 100.0%)"></i>
</div></div>
<div style="position:absolute;left:705.6px;top:1311.9px;width:572.3px;height:383px;overflow:hidden">
<div style="position:absolute;left:-4px;top:-4px;width:580.3px;height:391px;filter:blur(1.6px)">
<i style="top:0px;background:linear-gradient(90deg,#0fb 0.0%,#00fcff 9.0%,#00b9ff 21.5%,#009dff 34.1%,#00a9ff 46.7%,#00dbff 59.3%,#00fffa 65.8%,#00ff8d 78.4%,#05ff00 90.8%,#89ff00 99.9%)"></i>
<i style="top:4px;background:linear-gradient(90deg,#00ffa8 0.0%,#00feff 11.5%,#00c2ff 24.1%,#00aeff 36.7%,#00c1ff 49.3%,#00faff 61.9%,#00ffcd 69.6%,#00ff54 82.2%,#05ff00 89.6%,#98ff00 99.9%)"></i>
<i style="top:8px;background:linear-gradient(90deg,#00ff95 0.0%,#00fff5 12.6%,#00f6ff 16.0%,#00c8ff 28.6%,#00c1ff 41.2%,#00e1ff 53.8%,#00fffa 60.8%,#00ff9d 73.4%,#00ff19 86.0%,#05ff00 88.4%,#a7ff00 99.9%)"></i>
<i style="top:12px;background:linear-gradient(90deg,#00ff83 0.0%,#00ffe3 12.6%,#00faff 18.8%,#00d4ff 31.4%,#00d5ff 43.9%,#00feff 56.5%,#00ffb8 68.2%,#00ff45 80.8%,#04ff00 87.2%,#b2ff00 99.8%,#b5ff00 99.9%)"></i>
<i style="top:16px;background:linear-gradient(90deg,#00ff71 0.0%,#00ffd1 12.6%,#00fcff 22.6%,#00e1ff 35.2%,#0ef 47.7%,#00fff8 54.8%,#00ffaf 67.4%,#00ff3f 80.0%,#04ff00 86.0%,#aeff00 98.6%,#c3ff00 99.9%)"></i>
<i style="top:20px;background:linear-gradient(90deg,#00ff5f 0.0%,#00ffc0 12.6%,#00fffa 25.2%,#00f1ff 40.3%,#00fff9 50.5%,#00ffbe 63.1%,#00ff5b 75.7%,#04ff00 84.8%,#af0 97.4%,#d1ff00 99.9%)"></i>
<i style="top:24px;background:linear-gradient(90deg,#00ff4e 0.0%,#00ffb0 12.6%,#00ffea 25.2%,#00fffe 37.7%,#00ffea 50.3%,#00ffb0 62.9%,#00ff4f 75.5%,#04ff00 83.6%,#a6ff00 96.2%,#deff00 99.9%)"></i>
<i style="top:28px;background:linear-gradient(90deg,#00ff3d 0.0%,#00ff9f 12.6%,#00ffda 25.2%,#0fe 37.7%,#00ffdc 50.3%,#00ffa2 62.9%,#00ff41 75.5%,#05ff00 82.4%,#a2ff00 95.0%,#ebff00 99.9%)"></i>
<i style="top:32px;background:linear-gradient(90deg,#00ff2d 0.0%,#00ff8f 12.6%,#00ffcb 25.2%,#00ffdf 37.7%,#00ffcd 50.3%,#00ff94 62.9%,#0f3 75.5%,#05ff00 81.2%,#9eff00 93.7%,#f7ff00 99.9%)"></i>
<i style="top:36px;background:linear-gradient(90deg,#00ff1d 0.0%,#00ff80 12.6%,#00ffbc 25.2%,#00ffd1 37.7%,#00ffbf 50.3%,#00ff86 62.9%,#00ff26 75.5%,#05ff00 80.0%,#9aff00 92.5%,#fffa00 99.9%)"></i>
<i style="top:40px;background:linear-gradient(90deg,#00ff0d 0.0%,#00ff71 12.6%,#00ffad 25.2%,#00ffc3 37.7%,#00ffb1 50.3%,#00ff79 62.9%,#00ff1a 75.5%,#06ff00 78.8%,#96ff00 91.3%,#fffc00 99.1%,#ffef00 99.9%)"></i>
<i style="top:44px;background:linear-gradient(90deg,#02ff00 0.0%,#00ff6a 14.0%,#00ffa3 26.5%,#00ffb5 39.1%,#00ffa0 51.7%,#00ff63 64.3%,#05ff00 77.4%,#90ff00 90.0%,#fffa00 98.4%,#ffe300 99.9%)"></i>
<i style="top:48px;background:linear-gradient(90deg,#1f0 0.0%,#00ff07 2.6%,#00ff63 15.2%,#00ff98 27.7%,#00ffa7 40.3%,#00ff8f 52.9%,#00ff4f 65.5%,#05ff00 76.2%,#8dff00 88.7%,#fffc00 97.5%,#ffd800 99.9%)"></i>
<i style="top:52px;background:linear-gradient(90deg,#20ff00 0.0%,#00ff06 4.1%,#00ff5e 16.7%,#00ff8f 29.3%,#0f9 41.9%,#00ff7c 54.5%,#00ff39 67.0%,#04ff00 74.8%,#87ff00 87.4%,#fffb00 96.8%,#ffcd00 99.9%)"></i>
<i style="top:56px;background:linear-gradient(90deg,#2eff00 0.0%,#00ff04 5.7%,#00ff58 18.3%,#00ff85 30.8%,#00ff8b 43.4%,#00ff6a 56.0%,#0f2 68.6%,#05ff00 73.6%,#84ff00 86.2%,#fffa00 96.2%,#ffc300 99.9%)"></i>
<i style="top:60px;background:linear-gradient(90deg,#3cff00 0.0%,#00ff05 7.4%,#00ff54 20.0%,#00ff7c 32.6%,#00ff7d 45.1%,#00ff57 57.7%,#00ff0a 70.3%,#0bff00 72.9%,#86ff00 85.5%,#fffc00 95.3%,#ffb900 99.9%)"></i>
<i style="top:64px;background:linear-gradient(90deg,#4aff00 0.0%,#00ff03 9.0%,#00ff4e 21.5%,#00ff72 34.1%,#00ff6e 46.7%,#0f4 59.3%,#05ff00 70.8%,#7aff00 83.4%,#fffc00 94.6%,#ffaf00 99.9%)"></i>
<i style="top:68px;background:linear-gradient(90deg,#57ff00 0.0%,#00ff02 10.5%,#00ff48 23.1%,#00ff68 35.7%,#00ff60 48.3%,#00ff32 60.8%,#05ff00 69.4%,#75ff00 82.0%,#fffb00 93.9%,#ffa600 99.9%)"></i>
<i style="top:72px;background:linear-gradient(90deg,#64ff00 0.0%,#0f0 12.1%,#00ff42 24.6%,#00ff5d 37.2%,#00ff51 49.8%,#00ff1f 62.4%,#05ff00 68.1%,#70ff00 80.6%,#fffb00 93.2%,#ff9d00 99.9%)"></i>
<i style="top:76px;background:linear-gradient(90deg,#70ff00 0.0%,#08ff00 12.6%,#00ff0c 15.9%,#00ff43 28.4%,#00ff53 41.0%,#00ff3c 53.6%,#04ff00 66.5%,#6aff00 79.1%,#f7ff00 91.7%,#fe0 93.6%,#ff9500 99.9%)"></i>
<i style="top:80px;background:linear-gradient(90deg,#7cff00 0.0%,#14ff00 12.6%,#00ff06 16.7%,#00ff3b 29.3%,#00ff48 41.9%,#00ff2f 54.5%,#05ff00 65.1%,#6f0 77.7%,#efff00 90.3%,#fff800 92.2%,#ff8d00 99.9%)"></i>
<i style="top:84px;background:linear-gradient(90deg,#8f0 0.0%,#1fff00 12.6%,#00ff04 18.4%,#00ff34 31.0%,#00ff3d 43.6%,#00ff1f 56.2%,#05ff00 63.6%,#61ff00 76.2%,#e4ff00 88.7%,#fffa00 91.3%,#ff8500 99.9%)"></i>
<i style="top:88px;background:linear-gradient(90deg,#93ff00 0.0%,#2aff00 12.6%,#00ff04 20.5%,#00ff2e 33.1%,#00ff31 45.7%,#00ff0d 58.2%,#07ff00 62.4%,#5fff00 75.0%,#deff00 87.5%,#fffb00 90.6%,#ff7d00 99.9%)"></i>
<i style="top:92px;background:linear-gradient(90deg,#9eff00 0.0%,#34ff00 12.6%,#00ff03 22.4%,#00ff28 35.0%,#00ff25 47.6%,#05ff00 60.3%,#56ff00 72.9%,#ceff00 85.5%,#fffa00 90.1%,#ff7600 99.9%)"></i>
<i style="top:96px;background:linear-gradient(90deg,#a9ff00 0.0%,#3fff00 12.6%,#00ff01 24.3%,#00ff21 36.9%,#00ff19 49.5%,#05ff00 58.6%,#50ff00 71.2%,#c2ff00 83.7%,#fffb00 89.4%,#ff6f00 99.9%)"></i>
<i style="top:100px;background:linear-gradient(90deg,#b3ff00 0.0%,#48ff00 12.6%,#04ff00 25.2%,#00ff1a 40.2%,#00ff08 52.7%,#0aff00 57.9%,#53ff00 70.5%,#c2ff00 83.1%,#fffb00 88.9%,#ff6900 99.9%)"></i>
<i style="top:104px;background:linear-gradient(90deg,#bdff00 0.0%,#52ff00 12.6%,#0dff00 25.2%,#00ff06 31.4%,#00ff10 43.9%,#06ff00 54.6%,#4f0 67.2%,#a8ff00 79.8%,#fffa00 88.4%,#ff6300 99.9%)"></i>
<i style="top:108px;background:linear-gradient(90deg,#c7ff00 0.0%,#5bff00 12.6%,#16ff00 25.2%,#00ff04 34.5%,#00ff05 47.0%,#0eff00 55.0%,#4dff00 67.6%,#b2ff00 80.1%,#fffa00 87.9%,#ff5d00 99.9%)"></i>
<i style="top:112px;background:linear-gradient(90deg,#d0ff00 0.0%,#63ff00 12.6%,#1eff00 25.2%,#0f0 37.7%,#09ff00 50.5%,#39ff00 63.1%,#90ff00 75.7%,#fffa00 87.4%,#ff5800 99.9%)"></i>
<i style="top:116px;background:linear-gradient(90deg,#d9ff00 0.0%,#6cff00 12.6%,#26ff00 25.2%,#07ff00 37.7%,#0fff00 50.3%,#3eff00 62.9%,#94ff00 75.5%,#fffb00 86.9%,#ff5b00 99.4%,#ff5300 99.9%)"></i>
<i style="top:120px;background:linear-gradient(90deg,#e1ff00 0.0%,#74ff00 12.6%,#2dff00 25.2%,#0eff00 37.7%,#16ff00 50.3%,#4f0 62.9%,#9aff00 75.5%,#fffb00 86.3%,#ff5d00 98.9%,#ff4f00 99.9%)"></i>
<i style="top:124px;background:linear-gradient(90deg,#e9ff00 0.0%,#7bff00 12.6%,#35ff00 25.2%,#15ff00 37.7%,#1cff00 50.3%,#4aff00 62.9%,#9fff00 75.5%,#fffb00 86.0%,#ff5e00 98.6%,#ff4b00 99.9%)"></i>
<i style="top:128px;background:linear-gradient(90deg,#f1ff00 0.0%,#83ff00 12.6%,#3bff00 25.2%,#1bff00 37.7%,#21ff00 50.3%,#4fff00 62.9%,#a3ff00 75.5%,#fffa00 85.6%,#ff5f00 98.2%,#ff4700 99.9%)"></i>
<i style="top:132px;background:linear-gradient(90deg,#f8ff00 0.0%,#89ff00 12.6%,#42ff00 25.2%,#21ff00 37.7%,#27ff00 50.3%,#54ff00 62.9%,#a8ff00 75.5%,#fffb00 85.1%,#ff6300 97.7%,#ff4300 99.9%)"></i>
<i style="top:136px;background:linear-gradient(90deg,#ff0 0.0%,#8fff00 12.8%,#47ff00 25.3%,#26ff00 37.9%,#2cff00 50.5%,#59ff00 63.1%,#adff00 75.7%,#fffb00 84.8%,#ff6400 97.4%,#ff4000 99.9%)"></i>
<i style="top:140px;background:linear-gradient(90deg,#fff800 0.0%,#edff00 2.4%,#85ff00 15.0%,#4f0 27.6%,#29ff00 40.2%,#36ff00 52.7%,#69ff00 65.3%,#c4ff00 77.9%,#fffa00 84.6%,#ff6400 97.2%,#ff3e00 99.9%)"></i>
<i style="top:144px;background:linear-gradient(90deg,#fff200 0.0%,#f7ff00 2.1%,#8dff00 14.6%,#4aff00 27.2%,#2eff00 39.8%,#39ff00 52.4%,#6bff00 65.0%,#c4ff00 77.5%,#fffa00 84.3%,#f60 96.8%,#ff3b00 99.9%)"></i>
<i style="top:148px;background:linear-gradient(90deg,#ffec00 0.0%,#f9ff00 2.4%,#90ff00 15.0%,#4eff00 27.6%,#32ff00 40.2%,#3eff00 52.7%,#71ff00 65.3%,#caff00 77.9%,#fffa00 84.1%,#f60 96.7%,#ff3900 99.9%)"></i>
<i style="top:152px;background:linear-gradient(90deg,#ffe600 0.0%,#faff00 2.9%,#92ff00 15.5%,#50ff00 28.1%,#36ff00 40.7%,#43ff00 53.2%,#76ff00 65.8%,#d1ff00 78.4%,#fffb00 83.7%,#ff6900 96.3%,#ff3800 99.9%)"></i>
<i style="top:156px;background:linear-gradient(90deg,#ffe100 0.0%,#faff00 3.4%,#93ff00 16.0%,#53ff00 28.6%,#39ff00 41.2%,#47ff00 53.8%,#7cff00 66.3%,#d8ff00 78.9%,#fffb00 83.6%,#ff6a00 96.2%,#ff3600 99.9%)"></i>
<i style="top:160px;background:linear-gradient(90deg,#ffdc00 0.0%,#f9ff00 4.0%,#93ff00 16.5%,#54ff00 29.1%,#3cff00 41.7%,#4bff00 54.3%,#81ff00 66.9%,#deff00 79.4%,#fff900 83.6%,#ff6900 96.2%,#ff3500 99.9%)"></i>
<i style="top:164px;background:linear-gradient(90deg,#ffd800 0.0%,#faff00 4.3%,#95ff00 16.9%,#57ff00 29.5%,#3fff00 42.0%,#4fff00 54.6%,#85ff00 67.2%,#e2ff00 79.8%,#fffa00 83.4%,#ff6a00 96.0%,#ff3500 99.9%)"></i>
<i style="top:168px;background:linear-gradient(90deg,#ffd400 0.0%,#fbff00 4.7%,#96ff00 17.2%,#58ff00 29.8%,#41ff00 42.4%,#51ff00 55.0%,#8f0 67.6%,#e6ff00 80.1%,#fff900 83.4%,#ff6a00 96.0%,#ff3500 99.9%)"></i>
<i style="top:172px;background:linear-gradient(90deg,#ffd000 0.0%,#fbff00 5.0%,#97ff00 17.6%,#5aff00 30.2%,#43ff00 42.7%,#54ff00 55.3%,#8cff00 67.9%,#eaff00 80.5%,#fffa00 83.2%,#ff6c00 95.8%,#ff3500 99.9%)"></i>
<i style="top:176px;background:linear-gradient(90deg,#ffcd00 0.0%,#fbff00 5.3%,#97ff00 17.9%,#5bff00 30.5%,#45ff00 43.1%,#56ff00 55.7%,#8eff00 68.2%,#edff00 80.8%,#fff800 83.4%,#ff6a00 96.0%,#ff3500 99.9%)"></i>
<i style="top:180px;background:linear-gradient(90deg,#ffca00 0.0%,#fbff00 5.7%,#98ff00 18.3%,#5bff00 30.8%,#46ff00 43.4%,#58ff00 56.0%,#91ff00 68.6%,#f0ff00 81.2%,#fff900 83.4%,#ff6b00 96.0%,#ff3600 99.9%)"></i>
<i style="top:184px;background:linear-gradient(90deg,#ffc700 0.0%,#fbff00 5.9%,#98ff00 18.4%,#5cff00 31.0%,#47ff00 43.6%,#59ff00 56.2%,#92ff00 68.8%,#f1ff00 81.3%,#fff800 83.6%,#ff6a00 96.2%,#ff3800 99.9%)"></i>
<i style="top:188px;background:linear-gradient(90deg,#ffc500 0.0%,#faff00 6.2%,#98ff00 18.8%,#5cff00 31.4%,#48ff00 43.9%,#5aff00 56.5%,#93ff00 69.1%,#f4ff00 81.7%,#fff700 83.7%,#ff6900 96.3%,#ff3900 99.9%)"></i>
<i style="top:192px;background:linear-gradient(90deg,#ffc300 0.0%,#faff00 6.4%,#98ff00 19.0%,#5cff00 31.5%,#48ff00 44.1%,#5aff00 56.7%,#94ff00 69.3%,#f4ff00 81.9%,#fff700 83.9%,#ff6900 96.5%,#ff3b00 99.9%)"></i>
<i style="top:196px;background:linear-gradient(90deg,#ffc200 0.0%,#fbff00 6.4%,#9f0 19.0%,#5dff00 31.5%,#48ff00 44.1%,#5aff00 56.7%,#92ff00 69.3%,#f2ff00 81.9%,#fff800 83.9%,#ff6b00 96.5%,#ff3e00 99.9%)"></i>
<i style="top:200px;background:linear-gradient(90deg,#ffc000 0.0%,#fbff00 6.5%,#98ff00 19.1%,#5cff00 31.7%,#47ff00 44.3%,#59ff00 56.9%,#92ff00 69.4%,#f2ff00 82.0%,#fff700 84.3%,#ff6900 96.8%,#ff4000 99.9%)"></i>
<i style="top:204px;background:linear-gradient(90deg,#ffc000 0.0%,#fbff00 6.5%,#98ff00 19.1%,#5cff00 31.7%,#46ff00 44.3%,#58ff00 56.9%,#90ff00 69.4%,#efff00 82.0%,#fff800 84.4%,#ff6a00 97.0%,#f40 99.9%)"></i>
<i style="top:208px;background:linear-gradient(90deg,#ffbf00 0.0%,#fcff00 6.5%,#98ff00 19.1%,#5bff00 31.7%,#45ff00 44.3%,#56ff00 56.9%,#8eff00 69.4%,#edff00 82.0%,#fff900 84.6%,#ff6b00 97.2%,#ff4700 99.9%)"></i>
<i style="top:212px;background:linear-gradient(90deg,#ffbf00 0.0%,#fbff00 6.5%,#97ff00 19.1%,#5aff00 31.7%,#43ff00 44.3%,#54ff00 56.9%,#8bff00 69.4%,#e9ff00 82.0%,#fff900 85.0%,#ff6b00 97.5%,#ff4b00 99.9%)"></i>
<i style="top:216px;background:linear-gradient(90deg,#ffbf00 0.0%,#fbff00 6.5%,#96ff00 19.1%,#58ff00 31.7%,#41ff00 44.3%,#51ff00 56.9%,#8f0 69.4%,#e6ff00 82.0%,#fff900 85.3%,#ff6a00 97.9%,#ff4f00 99.9%)"></i>
<i style="top:220px;background:linear-gradient(90deg,#ffc000 0.0%,#fcff00 6.4%,#96ff00 19.0%,#57ff00 31.5%,#3fff00 44.1%,#4eff00 56.7%,#84ff00 69.3%,#e1ff00 81.9%,#fffa00 85.6%,#ff6a00 98.2%,#ff5400 99.9%)"></i>
<i style="top:224px;background:linear-gradient(90deg,#ffc100 0.0%,#faff00 6.4%,#94ff00 19.0%,#5f0 31.5%,#3cff00 44.1%,#4bff00 56.7%,#80ff00 69.3%,#dcff00 81.9%,#fff900 86.2%,#ff6800 98.7%,#ff5900 99.9%)"></i>
<i style="top:228px;background:linear-gradient(90deg,#ffc200 0.0%,#faff00 6.2%,#93ff00 18.8%,#53ff00 31.4%,#39ff00 43.9%,#47ff00 56.5%,#7bff00 69.1%,#d6ff00 81.7%,#fffa00 86.5%,#ff6900 99.1%,#ff5e00 99.9%)"></i>
<i style="top:232px;background:linear-gradient(90deg,#ffc400 0.0%,#faff00 6.0%,#92ff00 18.6%,#50ff00 31.2%,#36ff00 43.8%,#42ff00 56.4%,#76ff00 68.9%,#d0ff00 81.5%,#fffa00 87.0%,#ff6800 99.6%,#ff6300 99.9%)"></i>
<i style="top:236px;background:linear-gradient(90deg,#ffc600 0.0%,#fbff00 5.7%,#91ff00 18.3%,#4eff00 30.8%,#32ff00 43.4%,#3dff00 56.0%,#6fff00 68.6%,#c8ff00 81.2%,#fffb00 87.5%,#ff6900 99.9%)"></i>
<i style="top:240px;background:linear-gradient(90deg,#ffc900 0.0%,#faff00 5.5%,#8fff00 18.1%,#4bff00 30.7%,#2eff00 43.3%,#38ff00 55.8%,#69ff00 68.4%,#c0ff00 81.0%,#fffb00 88.1%,#ff7000 99.9%)"></i>
<i style="top:244px;background:linear-gradient(90deg,#ffcb00 0.0%,#fbff00 5.2%,#8eff00 17.7%,#49ff00 30.3%,#2aff00 42.9%,#32ff00 55.5%,#61ff00 68.1%,#b8ff00 80.6%,#fffa00 88.7%,#f70 99.9%)"></i>
<i style="top:248px;background:linear-gradient(90deg,#ffcf00 0.0%,#fbff00 4.8%,#8dff00 17.4%,#46ff00 30.0%,#25ff00 42.6%,#2cff00 55.1%,#5aff00 67.7%,#aeff00 80.3%,#fffa00 89.4%,#ff7e00 99.9%)"></i>
<i style="top:252px;background:linear-gradient(90deg,#ffd200 0.0%,#fbff00 4.5%,#8bff00 17.1%,#42ff00 29.6%,#20ff00 42.2%,#26ff00 54.8%,#52ff00 67.4%,#a5ff00 80.0%,#fffb00 90.0%,#ff8500 99.9%)"></i>
<i style="top:256px;background:linear-gradient(90deg,#ffd600 0.0%,#faff00 4.1%,#89ff00 16.7%,#3fff00 29.3%,#1bff00 41.9%,#1fff00 54.5%,#49ff00 67.0%,#9bff00 79.6%,#fffc00 90.6%,#ff8d00 99.9%)"></i>
<i style="top:260px;background:linear-gradient(90deg,#ffda00 0.0%,#f9ff00 3.8%,#87ff00 16.4%,#3bff00 29.0%,#16ff00 41.5%,#18ff00 54.1%,#41ff00 66.7%,#91ff00 79.3%,#fffa00 91.5%,#ff9500 99.9%)"></i>
<i style="top:264px;background:linear-gradient(90deg,#ffdf00 0.0%,#faff00 3.3%,#85ff00 15.9%,#37ff00 28.4%,#10ff00 41.0%,#10ff00 53.6%,#37ff00 66.2%,#85ff00 78.8%,#faff00 91.3%,#ffc700 96.7%,#ff9e00 99.9%)"></i>
<i style="top:268px;background:linear-gradient(90deg,#ffe400 0.0%,#f9ff00 2.9%,#82ff00 15.5%,#3f0 28.1%,#0aff00 40.7%,#09ff00 53.2%,#2eff00 65.8%,#7aff00 78.4%,#ef0 91.0%,#fff800 93.2%,#ffa700 99.9%)"></i>
<i style="top:272px;background:linear-gradient(90deg,#ffe900 0.0%,#f9ff00 2.4%,#80ff00 15.0%,#2fff00 27.6%,#04ff00 40.2%,#05ff00 55.5%,#31ff00 68.1%,#83ff00 80.6%,#fffb00 93.7%,#ffb000 99.9%)"></i>
<i style="top:276px;background:linear-gradient(90deg,#ffef00 0.0%,#f9ff00 1.9%,#7eff00 14.5%,#2bff00 27.1%,#00ff01 39.1%,#00ff08 51.7%,#07ff00 59.8%,#40ff00 72.4%,#a0ff00 85.0%,#fffb00 94.6%,#ffba00 99.9%)"></i>
<i style="top:280px;background:linear-gradient(90deg,#fff500 0.0%,#f5ff00 1.7%,#79ff00 14.3%,#24ff00 26.9%,#00ff03 36.9%,#00ff12 49.5%,#06ff00 61.9%,#4f0 74.4%,#af0 87.0%,#fffa00 95.5%,#ffc400 99.9%)"></i>
<i style="top:284px;background:linear-gradient(90deg,#fffc00 0.0%,#71ff00 14.5%,#1cff00 27.1%,#00ff04 34.6%,#00ff1a 47.2%,#00ff0a 59.8%,#09ff00 65.1%,#51ff00 77.7%,#c0ff00 90.3%,#fffb00 96.3%,#ffce00 99.9%)"></i>
<i style="top:288px;background:linear-gradient(90deg,#fbff00 0.0%,#79ff00 12.6%,#1eff00 25.2%,#00ff04 32.4%,#0f2 45.0%,#00ff19 57.6%,#06ff00 66.5%,#52ff00 79.1%,#c4ff00 91.7%,#fffb00 97.2%,#ffd900 99.9%)"></i>
<i style="top:292px;background:linear-gradient(90deg,#f4ff00 0.0%,#72ff00 12.6%,#16ff00 25.2%,#00ff06 30.7%,#00ff29 43.3%,#00ff26 55.8%,#05ff00 68.4%,#56ff00 81.0%,#ceff00 93.6%,#fffb00 98.1%,#ffe400 99.9%)"></i>
<i style="top:296px;background:linear-gradient(90deg,#edff00 0.0%,#6aff00 12.6%,#0eff00 25.2%,#00ff07 29.1%,#00ff30 41.7%,#00ff32 54.3%,#00ff0d 66.9%,#08ff00 71.0%,#61ff00 83.6%,#e1ff00 96.2%,#fffa00 99.1%,#ffef00 99.9%)"></i>
<i style="top:300px;background:linear-gradient(90deg,#e5ff00 0.0%,#61ff00 12.6%,#05ff00 25.2%,#00ff37 40.3%,#00ff3e 52.9%,#00ff1d 65.5%,#05ff00 72.4%,#62ff00 85.0%,#e5ff00 97.5%,#fffb00 99.9%)"></i>
<i style="top:304px;background:linear-gradient(90deg,#dcff00 0.0%,#59ff00 12.6%,#0f0 24.5%,#00ff39 37.0%,#00ff4a 49.6%,#00ff34 62.2%,#05ff00 74.3%,#67ff00 86.9%,#f0ff00 99.4%,#f7ff00 99.9%)"></i>
<i style="top:308px;background:linear-gradient(90deg,#d4ff00 0.0%,#4fff00 12.6%,#00ff02 23.3%,#00ff3f 35.8%,#00ff54 48.4%,#00ff43 61.0%,#00ff0a 73.6%,#09ff00 76.7%,#72ff00 89.3%,#eaff00 99.9%)"></i>
<i style="top:312px;background:linear-gradient(90deg,#cbff00 0.0%,#46ff00 12.6%,#00ff03 21.9%,#00ff45 34.5%,#00ff5f 47.0%,#00ff52 59.6%,#00ff1e 72.2%,#06ff00 77.9%,#72ff00 90.5%,#df0 99.9%)"></i>
<i style="top:316px;background:linear-gradient(90deg,#c1ff00 0.0%,#3cff00 12.6%,#00ff04 20.5%,#00ff4a 33.1%,#00ff69 45.7%,#00ff61 58.2%,#00ff32 70.8%,#04ff00 79.4%,#75ff00 92.0%,#d0ff00 99.9%)"></i>
<i style="top:320px;background:linear-gradient(90deg,#b8ff00 0.0%,#32ff00 12.6%,#00ff05 19.1%,#00ff4f 31.7%,#00ff73 44.3%,#00ff70 56.9%,#00ff46 69.4%,#05ff00 81.2%,#7aff00 93.7%,#c2ff00 99.9%)"></i>
<i style="top:324px;background:linear-gradient(90deg,#aeff00 0.0%,#27ff00 12.6%,#00ff05 17.7%,#00ff54 30.3%,#00ff7d 42.9%,#00ff7e 55.5%,#00ff59 68.1%,#00ff0d 80.6%,#08ff00 83.2%,#83ff00 95.8%,#b4ff00 99.9%)"></i>
<i style="top:328px;background:linear-gradient(90deg,#a3ff00 0.0%,#1cff00 12.6%,#00ff05 16.4%,#00ff59 29.0%,#00ff86 41.5%,#00ff8d 54.1%,#00ff6c 66.7%,#00ff24 79.3%,#06ff00 84.6%,#85ff00 97.2%,#a6ff00 99.9%)"></i>
<i style="top:332px;background:linear-gradient(90deg,#98ff00 0.0%,#1f0 12.6%,#00ff06 15.2%,#00ff5f 27.7%,#00ff90 40.3%,#00ff9b 52.9%,#00ff7e 65.5%,#00ff3b 78.1%,#05ff00 86.2%,#8f0 98.7%,#97ff00 99.9%)"></i>
<i style="top:336px;background:linear-gradient(90deg,#8dff00 0.0%,#05ff00 12.6%,#00ff6c 27.9%,#00ff9d 40.5%,#00ffa8 53.1%,#00ff8b 65.7%,#00ff48 78.2%,#05ff00 87.7%,#8f0 99.9%)"></i>
<i style="top:340px;background:linear-gradient(90deg,#82ff00 0.0%,#0f0 11.9%,#00ff64 24.5%,#00ffa1 37.0%,#00ffb6 49.6%,#00ffa5 62.2%,#00ff6d 74.8%,#00ff0e 87.4%,#07ff00 89.6%,#78ff00 99.9%)"></i>
<i style="top:344px;background:linear-gradient(90deg,#76ff00 0.0%,#00ff01 10.7%,#00ff69 23.3%,#0fa 35.8%,#00ffc4 48.4%,#00ffb7 61.0%,#00ff83 73.6%,#00ff28 86.2%,#05ff00 91.0%,#69ff00 99.9%)"></i>
<i style="top:348px;background:linear-gradient(90deg,#69ff00 0.0%,#00ff04 9.7%,#00ff6f 22.2%,#00ffb4 34.8%,#00ffd1 47.4%,#00ffc8 60.0%,#00ff97 72.5%,#00ff40 85.1%,#05ff00 92.5%,#58ff00 99.9%)"></i>
<i style="top:352px;background:linear-gradient(90deg,#5dff00 0.0%,#00ff04 8.4%,#00ff74 21.0%,#00ffbd 33.6%,#00ffde 46.2%,#00ffd9 58.8%,#00ffad 71.3%,#00ff5a 83.9%,#03ff00 93.9%,#48ff00 99.9%)"></i>
<i style="top:356px;background:linear-gradient(90deg,#50ff00 0.0%,#00ff05 7.2%,#00ff79 19.8%,#00ffc6 32.4%,#00ffec 45.0%,#00ffeb 57.6%,#00ffc3 70.1%,#00ff74 82.7%,#03ff00 95.5%,#37ff00 99.9%)"></i>
<i style="top:360px;background:linear-gradient(90deg,#42ff00 0.0%,#00ff03 5.9%,#00ff7c 18.4%,#00ffce 31.0%,#00fff8 43.6%,#00fffc 56.4%,#00ffd9 68.9%,#00ff8e 81.5%,#00ff1c 94.1%,#05ff00 97.2%,#26ff00 99.9%)"></i>
<i style="top:364px;background:linear-gradient(90deg,#35ff00 0.0%,#00ff04 4.7%,#00ff80 17.2%,#00ffd6 29.8%,#00fdff 40.7%,#00efff 53.2%,#00fff9 64.6%,#00ffbd 77.2%,#00ff59 89.8%,#04ff00 98.6%,#14ff00 99.9%)"></i>
<i style="top:368px;background:linear-gradient(90deg,#26ff00 0.0%,#00ff04 3.4%,#00ff85 16.0%,#00ffdf 28.6%,#00fbff 36.4%,#00dfff 48.9%,#00ebff 61.5%,#00fff9 69.1%,#00ffaf 81.7%,#00ff3e 94.3%,#02ff00 99.9%)"></i>
<i style="top:372px;background:linear-gradient(90deg,#18ff00 0.0%,#00ff06 2.4%,#00ff8b 15.0%,#00ffe9 27.6%,#00faff 32.7%,#00d3ff 45.3%,#00d3ff 57.9%,#00faff 70.5%,#00ffde 77.4%,#00ff7b 90.0%,#00ff10 99.9%)"></i>
<i style="top:376px;background:linear-gradient(90deg,#09ff00 0.0%,#00ff0a 1.6%,#00ff92 14.1%,#00fff3 26.7%,#00f7ff 30.2%,#00c7ff 42.7%,#00bfff 55.3%,#0df 67.9%,#00fffa 75.8%,#00ff9c 88.4%,#00ff23 99.9%)"></i>
<i style="top:380px;background:linear-gradient(90deg,#00ff06 0.0%,#00ff93 12.6%,#00fffa 25.2%,#00bcff 40.7%,#00acff 53.2%,#00c4ff 65.8%,#00fffb 78.6%,#00ff95 91.2%,#00ff36 99.9%)"></i>
<i style="top:384px;background:linear-gradient(90deg,#00ff16 0.0%,#00ffa3 12.6%,#00fdff 23.8%,#00b9ff 36.4%,#009cff 48.9%,#00a5ff 61.5%,#00d6ff 74.1%,#00fffa 81.3%,#00ff8c 93.9%,#00ff4a 99.9%)"></i>
<i style="top:388px;background:linear-gradient(90deg,#00ff26 0.0%,#00ffb4 12.6%,#00fbff 21.7%,#00b0ff 34.3%,#008cff 46.9%,#008fff 59.5%,#00b9ff 72.0%,#00fffa 83.9%,#00ff85 96.5%,#00ff5e 99.9%)"></i>
</div></div>
<svg width="1480" height="1766" viewBox="0 0 1480 1766">
<rect x="4.3" y="3.5" width="1470.7" height="1758.2" fill="none" stroke="#6e6e6e" stroke-width="1.7"/>
<line x1="4.3" y1="387.63" x2="1475" y2="380.17" stroke="#6e6e6e" stroke-width="1.7"/>
<line x1="4.3" y1="832.9" x2="1475" y2="832.9" stroke="#6e6e6e" stroke-width="1.7"/>
<line x1="4.3" y1="1287.9" x2="1475" y2="1287.9" stroke="#6e6e6e" stroke-width="1.7"/>
<rect x="444.6" y="24.9" width="552.4" height="320.8" fill="none" stroke="#333" stroke-width="2"/>
<path d="M431 329.6H444.6M473 345.7V350.5M431 271.8H444.6M572.1 345.7V350.5M431 213.9H444.6M671.1 345.7V350.5M431 156.1H444.6M770.2 345.7V350.5M431 98.2H444.6M869.2 345.7V350.5M431 40.4H444.6M968.3 345.7V350.5" stroke="#555" stroke-width="1.3"/>
<text x="412.9" y="332.9" font-size="9.43" fill="#777" textLength="13.6" lengthAdjust="spacingAndGlyphs">50</text>
<text x="466.2" y="363.5" font-size="7.14" fill="#777" textLength="13.6" lengthAdjust="spacingAndGlyphs">50</text>
<text x="406.1" y="275.1" font-size="9.43" fill="#777" textLength="20.5" lengthAdjust="spacingAndGlyphs">100</text>
<text x="561.6" y="363.5" font-size="7.14" fill="#777" textLength="20.5" lengthAdjust="spacingAndGlyphs">100</text>
<text x="406.1" y="217.2" font-size="9.43" fill="#777" textLength="20.5" lengthAdjust="spacingAndGlyphs">150</text>
<text x="660.7" y="363.5" font-size="7.14" fill="#777" textLength="20.5" lengthAdjust="spacingAndGlyphs">150</text>
<text x="406.4" y="159.4" font-size="9.43" fill="#777" textLength="20.1" lengthAdjust="spacingAndGlyphs">200</text>
<text x="760.1" y="363.5" font-size="7.14" fill="#777" textLength="20.1" lengthAdjust="spacingAndGlyphs">200</text>
<text x="406.4" y="101.5" font-size="9.43" fill="#777" textLength="20.1" lengthAdjust="spacingAndGlyphs">250</text>
<text x="859.1" y="363.5" font-size="7.14" fill="#777" textLength="20.1" lengthAdjust="spacingAndGlyphs">250</text>
<text x="406.5" y="43.7" font-size="9.43" fill="#777" textLength="20" lengthAdjust="spacingAndGlyphs">300</text>
<text x="958.3" y="363.5" font-size="7.14" fill="#777" textLength="20" lengthAdjust="spacingAndGlyphs">300</text>
<line x1="473" y1="329.6" x2="968.3" y2="40.4" stroke="#555" stroke-width="1.4"/>
<rect x="558.7" y="273.6" width="11.2" height="6.2" fill="#0000b0" stroke="#222" stroke-width="1"/>
<rect x="609.2" y="244.4" width="11.2" height="6.2" fill="#1f5fd0" stroke="#222" stroke-width="1"/>
<rect x="623.8" y="236.5" width="11.2" height="6.2" fill="#2090d8" stroke="#222" stroke-width="1"/>
<rect x="637.8" y="237.7" width="11.2" height="6.2" fill="#30c8e8" stroke="#222" stroke-width="1"/>
<rect x="720" y="182.7" width="11.2" height="6.2" fill="#20d030" stroke="#222" stroke-width="1"/>
<rect x="722.8" y="176.9" width="11.2" height="6.2" fill="#20d030" stroke="#222" stroke-width="1"/>
<rect x="742.9" y="162.9" width="11.2" height="6.2" fill="#30d830" stroke="#222" stroke-width="1"/>
<rect x="748.5" y="156.7" width="11.2" height="6.2" fill="#30d830" stroke="#222" stroke-width="1"/>
<rect x="780.2" y="139.2" width="11.2" height="6.2" fill="#88e030" stroke="#222" stroke-width="1"/>
<rect x="826.5" y="112" width="11.2" height="6.2" fill="#f0d020" stroke="#222" stroke-width="1"/>
<rect x="835" y="110.4" width="11.2" height="6.2" fill="#f0d020" stroke="#222" stroke-width="1"/>
<rect x="839.7" y="107.6" width="11.2" height="6.2" fill="#f0c020" stroke="#222" stroke-width="1"/>
<rect x="880.6" y="93" width="11.2" height="6.2" fill="#f06818" stroke="#222" stroke-width="1"/>
<rect x="887.6" y="83.2" width="11.2" height="6.2" fill="#e04810" stroke="#222" stroke-width="1"/>
<rect x="908.5" y="82.4" width="11.2" height="6.2" fill="#e01010" stroke="#222" stroke-width="1"/>
<text x="737.4" y="162.6" font-size="8.57" fill="#777" textLength="5.6" lengthAdjust="spacingAndGlyphs">4</text>
<text x="572.1" y="21.9" font-size="21.45" font-weight="bold" fill="#333" textLength="282.9" lengthAdjust="spacingAndGlyphs">Predicted vs. Experimental</text>
<text x="395.3" y="223.8" font-size="24.06" fill="#333" textLength="93.8" lengthAdjust="spacingAndGlyphs" transform="rotate(-90 395.3 223.8)">Predicted</text>
<text x="614.5" y="381.9" font-size="21.59" fill="#333" textLength="137.9" lengthAdjust="spacingAndGlyphs">Experimental</text>
<text x="460.1" y="74.2" font-size="17.68" fill="#555" textLength="203.3" lengthAdjust="spacingAndGlyphs">Color points by value of</text>
<text x="459.5" y="102.7" font-size="17.68" fill="#555" textLength="85.4" lengthAdjust="spacingAndGlyphs">Diameter:</text>
<text x="460.3" y="131.8" font-size="17.71" fill="#4a4ae0" textLength="56.1" lengthAdjust="spacingAndGlyphs">96.379</text>
<text x="596.5" y="131.8" font-size="17.71" fill="#e04050" textLength="46" lengthAdjust="spacingAndGlyphs">272.6</text>
<defs><linearGradient id="cb"><stop offset="0" stop-color="#0000ff"/><stop offset=".5" stop-color="#00ff00"/><stop offset="1" stop-color="#ff0000"/></linearGradient></defs>
<rect x="521" y="113.9" width="67.6" height="26" rx="1.5" fill="url(#cb)" stroke="#222" stroke-width="1.2"/>
<path d="M1284.5 518.1 1279.9 518 1275.3 517.8 1270.6 517.7 1266 517.6 1261.4 517.5 1256.8 517.5 1252.1 517.4 1247.5 517.4 1242.9 517.4 1238.3 517.4 1233.6 517.4 1229 517.4 1224.4 517.5 1219.8 517.6 1215.1 517.7 1210.5 517.8 1205.9 518 1201.3 518.1 1196.7 518.3 1192 518.5 1187.4 518.8 1182.8 519 1178.2 519.3 1173.5 519.6 1168.9 520 1164.3 520.3 1159.7 520.7 1155 521.1 1150.4 521.6 1145.8 522.1 1141.2 522.6 1136.5 523.1 1132.2 523.7 1127.3 524.3 1122.7 525 1118 525.7 1113.4 526.4 1108.9 527.1 1104.2 528 1099.6 528.8 1094.9 529.7 1090.6 530.6 1085.7 531.7 1081.1 532.8 1076.4 533.9 1071.8 535.1 1067.2 536.3 1062.7 537.6 1058.9 538.7 1054.5 540.1 1049.8 541.7 1045.2 543.3 1040.6 545 1036.1 546.8 1031.4 548.9 1026.7 551 1022.1 553.3 1017.5 555.7 1012.9 558.4 1009.4 560.6 1005.9 562.9 1002.5 565.4 999 568.2 995.6 571.2 992.1 574.6 988.8 578.1 986.3 581.3 984 584.6 981.7 588.5 979.4 593.2 977.6 597.8 976.4 602.4 975.6 607.1 975.3 611.7 975.4 616.3 975.8 620.9 976.7 625.6 977.9 630.2 979.3 634.6 981.3 639.5 983.5 644.1 986 648.7 988.1 652.2 990.4 655.7 992.8 659.2 995.4 662.6 998.1 666.1 1001 669.6 1004.1 673.1 1007.1 676.3 1010.5 679.9 1014 683.4 1017.5 686.7 1021 689.9 1024.2 692.8 1027.9 695.9 1031 698.5 1034.8 701.7 1038.2 704.3 1041.8 707.1 1045.2 709.7 1048.7 712.3 1052.1 714.8 1055.4 717.1 1058.7 719.4 1062.1 721.7 1065.6 724 1069.1 726.3 1072.7 728.7 1076.3 731 1079.9 733.2 1083.4 735.4 1086.8 737.5 1090.3 739.5 1093.8 741.6 1097.2 743.6 1101.5 746 1105.3 748.2 1109.8 750.7 1113.4 752.7 1118 755.2 1122.7 757.6 1127.1 759.9 1130.8 761.8 1135.4 764.2 1140 766.5 1144.6 768.8 1149.3 771 1153.9 773.3 1157.5 775 1162 777.1 1166.6 779.2 1171.2 781.3 1175.1 783.1 1179.3 785 1180.2 785.4M1284.5 430.5 1279.9 430.1 1275.3 429.7 1270.6 429.3 1266 428.9 1261.4 428.5 1256.8 428.1 1252.1 427.8 1247.5 427.4 1242.9 427.1 1238.3 426.7 1233.6 426.4 1229 426.1 1224.4 425.8 1219.8 425.5 1215.7 425.2 1211.7 425 1207.1 424.7 1202.4 424.5 1197.8 424.2 1193.2 424 1188.6 423.8 1183.9 423.5 1179.3 423.3 1174.7 423.1 1170.1 422.9 1165.4 422.8 1160.8 422.6 1156.2 422.5 1151.6 422.3 1146.9 422.2 1142.3 422.1 1137.7 422 1133.1 421.9 1128.5 421.8 1123.8 421.7 1119.2 421.7 1114.6 421.6 1110 421.6 1105.3 421.6 1100.7 421.6 1096.1 421.6 1091.5 421.6 1086.8 421.6 1082.2 421.7 1077.6 421.7 1073 421.8 1068.3 421.9 1063.7 422 1059.1 422.1 1054.5 422.2 1049.8 422.4 1045.2 422.5 1040.6 422.7 1036 422.9 1031.4 423.1 1026.7 423.3 1022.1 423.5 1017.5 423.8 1012.9 424.1 1008.2 424.3 1003.6 424.6 999 425 994.4 425.3 989.7 425.7 985.1 426 980.9 426.4 975.9 426.8 971.2 427.3 966.6 427.7 962 428.2 957.4 428.7 952.8 429.2 948.1 429.7 943.5 430.3 938.9 430.9 934.3 431.5 929.6 432.1 925 432.8 920.4 433.5 915.8 434.2 911.1 434.9 906.8 435.7 901.9 436.5 897.3 437.3 892.6 438.2 888 439.1 883.4 440 878.8 440.9 874.2 441.9 869.5 442.9 864.9 444 860.3 445.1 856.4 446.1 852.2 447.1 847.6 448.4 843.2 449.5 839.1 450.7 835.2 451.9 831.4 453 826.8 454.5 822.1 456 817.5 457.5 812.9 459.2 808.3 460.9 803.6 462.7 799 464.5 794.4 466.4 790.7 468.1 786.3 470.1 781.7 472.3 777.1 474.6 772.4 477 767.8 479.6 764.3 481.7 760.9 483.8 757.4 486 753.9 488.4 750.5 490.9 747 493.5 743.5 496.3 740.1 499.3 736.6 502.5 733.1 506 729.7 509.8 726.8 513.2 724.1 516.7 721.7 520.2 719.5 523.7 717 528.3 714.8 532.9 713 537.6 711.6 542.2 710.4 546.8 709.6 551.5 709.1 556.1 708.9 560.3 708.9 565.4 709.2 570 709.8 574.6 710.6 579.3 711.7 583.9 713 588.5 714.6 593.2 716.4 597.8 718.1 601.8 720 605.9 722.4 610.5 725 615.2 727.1 618.6 729.3 622.1 731.6 625.6 734 629.1 736.6 632.5 739.2 636 741.9 639.5 744.7 642.8 747.8 646.4 750.5 649.5 753.9 653.3 757.3 656.9 760.6 660.3 764.1 663.8 767.7 667.3 771.3 670.7 774.7 673.9 778.2 677 781.6 680 785.1 683 788.4 685.8 792.1 688.8 795.5 691.6 799 694.4 802.5 697.2 805.8 699.7 809.4 702.5 812.9 705.1 816.4 707.6 819.8 710.1 823.3 712.6 826.8 715.1 830.2 717.5 833.7 719.9 837.2 722.2 840.6 724.5 844.1 726.8 847.6 729.1 851 731.4 854.5 733.6 858 735.8 861.4 737.9 864.9 740.1 868.4 742.2 871.8 744.3 875.3 746.4 878.8 748.5 882.2 750.5 885.7 752.5 889.2 754.6 893.8 757.2 898.4 759.8 902.8 762.2 906.5 764.3 911.1 766.8 915.5 769.2 919.2 771.2 923.9 773.7 928.5 776.1 933 778.5 936.6 780.3 941.2 782.7 945.8 785 946.6 785.4M707.7 747.8 711.2 749.9 714.6 752 718.1 754.1 721.6 756.1 725 758.1 728.5 760.2 732 762.2 736.1 764.6 740.1 766.8 744.3 769.2 748.2 771.3 752.6 773.8 756.2 775.8 760.9 778.3 765.4 780.8 769 782.7 773.6 785.2 774 785.4" fill="none" stroke="#000" stroke-opacity="0.78" stroke-width="1.6"/>
<rect x="707.7" y="406.7" width="576.8" height="378.7" fill="none" stroke="#333" stroke-width="1.6"/>
<text x="695.8" y="806.3" font-size="8.57" fill="#666" textLength="23.4" lengthAdjust="spacingAndGlyphs">1.50</text>
<text x="811.2" y="806.3" font-size="8.57" fill="#666" textLength="23.4" lengthAdjust="spacingAndGlyphs">1.70</text>
<text x="926.5" y="806.3" font-size="8.57" fill="#666" textLength="23.4" lengthAdjust="spacingAndGlyphs">1.90</text>
<text x="1042.2" y="806.3" font-size="8.57" fill="#666" textLength="23.1" lengthAdjust="spacingAndGlyphs">2.10</text>
<text x="1157.5" y="806.3" font-size="8.57" fill="#666" textLength="23.1" lengthAdjust="spacingAndGlyphs">2.30</text>
<text x="1272.9" y="806.3" font-size="8.57" fill="#666" textLength="23.1" lengthAdjust="spacingAndGlyphs">2.50</text>
<text x="657.2" y="788.7" font-size="9.43" fill="#666" textLength="32" lengthAdjust="spacingAndGlyphs">18.00</text>
<text x="657.6" y="694" font-size="9.43" fill="#666" textLength="31.7" lengthAdjust="spacingAndGlyphs">20.00</text>
<text x="657.6" y="599.3" font-size="9.43" fill="#666" textLength="31.7" lengthAdjust="spacingAndGlyphs">22.00</text>
<text x="657.6" y="504.7" font-size="9.43" fill="#666" textLength="31.7" lengthAdjust="spacingAndGlyphs">24.00</text>
<text x="657.6" y="410" font-size="9.43" fill="#666" textLength="31.7" lengthAdjust="spacingAndGlyphs">26.00</text>
<path d="M707.7 785.4V793.4M823.1 785.4V793.4M938.4 785.4V793.4M1053.8 785.4V793.4M1169.1 785.4V793.4M1284.5 785.4V793.4M693.2 785.4H707.7M693.2 690.7H707.7M693.2 596H707.7M693.2 501.4H707.7M693.2 406.7H707.7" stroke="#444" stroke-width="1.4"/>
<rect x="725.7" y="489.1" width="29" height="12" fill="#fff" stroke="#333" stroke-width="1"/>
<text x="729.6" y="498.8" font-size="10.57" fill="#666" textLength="21.2" lengthAdjust="spacingAndGlyphs">250</text>
<rect x="956.6" y="603" width="29" height="12" fill="#fff" stroke="#333" stroke-width="1"/>
<text x="960.5" y="612.7" font-size="10.57" fill="#666" textLength="21.2" lengthAdjust="spacingAndGlyphs">200</text>
<rect x="725.3" y="754.8" width="29" height="12" fill="#fff" stroke="#333" stroke-width="1"/>
<text x="729.3" y="764.5" font-size="10.57" fill="#666" textLength="21.1" lengthAdjust="spacingAndGlyphs">300</text>
<ellipse cx="707.7" cy="595.8" rx="5.6" ry="4" fill="#b80000" stroke="#400" stroke-width="1"/>
<ellipse cx="996.1" cy="406.7" rx="5.6" ry="4" fill="#b80000" stroke="#400" stroke-width="1"/>
<ellipse cx="996.1" cy="595.8" rx="5.6" ry="4" fill="#b80000" stroke="#400" stroke-width="1"/>
<ellipse cx="1284.5" cy="595.8" rx="5.6" ry="4" fill="#b80000" stroke="#400" stroke-width="1"/>
<ellipse cx="996.1" cy="785.4" rx="5.6" ry="4" fill="#b80000" stroke="#400" stroke-width="1"/>
<text x="982.9" y="598.8" font-size="9.29" fill="#2a5a2a" textLength="5" lengthAdjust="spacingAndGlyphs">4</text>
<text x="929.3" y="402.3" font-size="21.45" fill="#333" textLength="153.1" lengthAdjust="spacingAndGlyphs">Diameter (nm)</text>
<text x="850.5" y="821.7" font-size="23.33" fill="#333" textLength="188.6" lengthAdjust="spacingAndGlyphs">A: Flow rate(ml/h)</text>
<text x="641.7" y="677.4" font-size="24.06" fill="#333" textLength="140.1" lengthAdjust="spacingAndGlyphs" transform="rotate(-90 641.7 677.4)">B: Voltage (Kv)</text>
<text x="1295.5" y="451.7" font-size="17.25" font-weight="bold" fill="#111" textLength="129" lengthAdjust="spacingAndGlyphs">Diameter (nm)</text>
<circle cx="1312.5" cy="473.7" r="10" fill="#c00000" stroke="#500" stroke-width="1.3"/>
<text x="1332.2" y="479" font-size="16.81" fill="#d04858" textLength="112.1" lengthAdjust="spacingAndGlyphs">Design Points</text>
<text x="1295.9" y="535.1" font-size="17.00" fill="#5050e8" textLength="54.7" lengthAdjust="spacingAndGlyphs">96.379</text>
<rect x="1354.5" y="518" width="66.3" height="24.8" rx="1.5" fill="url(#cb)" stroke="#222" stroke-width="1.2"/>
<text x="1427.5" y="535.1" font-size="17.00" fill="#e04050" textLength="45.4" lengthAdjust="spacingAndGlyphs">272.6</text>
<text x="1296.2" y="562.8" font-size="16.09" fill="#444" textLength="55.3" lengthAdjust="spacingAndGlyphs">X1 = B</text>
<text x="1296.2" y="591.4" font-size="16.09" fill="#444" textLength="56.7" lengthAdjust="spacingAndGlyphs">X2 = C</text>
<text x="1296.3" y="645.6" font-size="16.09" font-weight="bold" fill="#111" textLength="114.8" lengthAdjust="spacingAndGlyphs">Actual Factor</text>
<text x="1296.6" y="674.4" font-size="16.09" fill="#444" textLength="68.2" lengthAdjust="spacingAndGlyphs">A = 2.00</text>
<path d="M861 856.9 864.9 857.9 869.6 859.1 874.2 860.3 878.9 861.5 883.5 862.7 888.1 863.9 892.6 865 897.2 866.2 901.8 867.4 906.4 868.5 911.1 869.7 915.7 870.9 920.4 872 925.1 873.2 929.8 874.3 934.5 875.5 939.2 876.6 943.9 877.8 948.5 878.9 953.1 880 957.8 881.1 962.4 882.2 967.1 883.3 971.7 884.4 976.4 885.5 981 886.6 985.6 887.7 990.3 888.8 994.9 889.8 999.6 890.9 1004.2 892 1008.6 892.9 1013.5 894 1018.1 895.1 1022.8 896.1 1027.4 897.1 1032.1 898.1 1036.7 899.1 1041.4 900.1 1045.8 901.1 1050.6 902.1 1055.3 903.1 1059.9 904 1064.6 905 1069.2 905.9 1073.9 906.9 1078.5 907.8 1083.1 908.7 1087.8 909.6 1092.4 910.5 1097.1 911.4 1101.7 912.3 1106.4 913.2 1111 914 1115.6 914.9 1120.3 915.7 1124.9 916.5 1129.6 917.4 1134.2 918.2 1138.9 919 1143.2 919.7 1148.1 920.5 1152.8 921.3 1157.4 922 1162.1 922.7 1166.7 923.5 1171.4 924.2 1176 924.9 1180.3 925.5 1185.3 926.2 1189.9 926.9 1194.6 927.5 1199.2 928.1 1203.9 928.7 1208.5 929.3 1213.1 929.9 1217.8 930.5 1222.4 931 1227.1 931.6 1231.7 932.1 1236.4 932.6 1241 933.1 1245.6 933.6 1250.3 934 1254.9 934.5 1259.6 934.9 1264.2 935.3 1268.9 935.7 1273.5 936 1278.1 936.4 1279.3 936.5M1279.3 1157.9 1274.7 1158.2 1270 1158.4 1265.4 1158.7 1260.7 1159 1256.1 1159.3 1251.4 1159.7 1246.8 1160 1242.6 1160.3 1237.5 1160.8 1232.9 1161.2 1228.2 1161.6 1223.6 1162 1218.9 1162.5 1214.3 1162.9 1209.7 1163.4 1205.5 1163.8 1201.5 1164.3 1196.9 1164.8 1192.2 1165.3 1187.6 1165.9 1183 1166.4 1178.3 1167 1173.7 1167.6 1169 1168.2 1164.4 1168.8 1159.7 1169.4 1155.1 1170.1 1150.5 1170.7 1145.8 1171.4 1141.7 1172 1137.7 1172.6 1133 1173.2 1128.4 1174 1123.8 1174.7 1119.1 1175.4 1114.5 1176.1 1109.8 1176.9 1105.2 1177.7 1100.5 1178.4 1095.9 1179.2 1091.3 1180 1086.6 1180.8 1082 1181.6 1077.3 1182.4 1072.7 1183.3 1068 1184.1 1063.4 1184.9 1058.8 1185.8 1054.1 1186.7 1049.5 1187.5 1044.8 1188.4 1040.2 1189.3 1035.5 1190.2 1030.9 1191.1 1026.3 1192 1021.8 1192.9 1017 1193.9 1012.3 1194.8 1007.7 1195.7 1003 1196.7 998.8 1197.5 993.8 1198.6 989.1 1199.6 984.5 1200.5 979.8 1201.5 975.2 1202.5 971.2 1203.4 967.1 1204.2 962.4 1205.2 957.8 1206.2 953.1 1207.3 948.5 1208.3 944.4 1209.2 940.4 1210.1 935.7 1211.1 931.1 1212.1 926.4 1213.2 921.8 1214.2 917.2 1215.3 912.5 1216.3 908.3 1217.3 903.2 1218.5 898.6 1219.5 893.9 1220.6 889.3 1221.7 884.7 1222.8 880 1223.9 875.4 1225 870.7 1226.1 866.1 1227.2 861.4 1228.3 856.8 1229.4 852.2 1230.5 847.5 1231.6 842.9 1232.7 838.2 1233.8 833.6 1234.9 829.6 1235.9 825.5 1236.9 820.8 1238.1 816.2 1239.2 815.3 1239.4M700.1 878.4 704.7 880.2 709.4 882 713.6 883.6 717.5 885.2 722.2 887 726.8 888.8 731.3 890.6 736.1 892.5 740 894.1 744.2 895.8 748.6 897.6 752.3 899.1 757 901 761.6 902.9 765.6 904.6 769.7 906.3 774 908.1 777.9 909.7 782.3 911.5 787.2 913.6 791.8 915.6 796 917.4 799.9 919.1 804 920.8 808 922.6 811.9 924.3 816.2 926.2 820.8 928.3 824.9 930.1 828.9 932 833.6 934.1 837.5 936 841.7 937.9 846.4 940.1 851 942.3 854.7 944.1 859.1 946.3 863.8 948.6 868.4 950.9 873 953.3 877.7 955.7 882.1 958 885.8 960 890.5 962.6 894.9 965 898.6 967.1 902.1 969.1 905.5 971.2 909 973.3 912.5 975.4 916 977.6 919.5 979.9 923 982.2 926.4 984.6 929.9 987 933.3 989.4 936.9 992.2 940.4 994.9 943.6 997.6 947.3 1000.9 950.8 1004.1 954.3 1007.6 957.8 1011.5 960.7 1015 963.2 1018.5 965.4 1022 967.9 1026.6 969.8 1031.3 971.1 1035.9 971.9 1040.6 972 1045.2 971.5 1049.9 970.5 1054 969.2 1058 967.1 1062.7 965.1 1066.2 962.7 1069.7 960.1 1073.1 957.1 1076.6 954.3 1079.7 950.8 1083.1 947.7 1085.9 943.9 1089.3 940.4 1092.1 936.9 1094.7 933.4 1097.3 929.9 1099.8 926.4 1102.1 923 1104.4 919.5 1106.7 916 1108.8 912.5 1111 909 1113 905.5 1115 902.1 1117 897.4 1119.6 893 1122 889.3 1124 884.7 1126.4 880 1128.8 875.4 1131.1 870.7 1133.4 866.1 1135.6 861.4 1137.8 856.8 1140 853.1 1141.7 848.7 1143.8 844 1145.9 840.4 1147.6 835.9 1149.5 831.3 1151.6 827.2 1153.4 823.1 1155.1 819 1156.9 815 1158.6 810.8 1160.3 806.9 1162 802.4 1163.8 797.6 1165.8 793 1167.7 788.3 1169.6 783.7 1171.5 779.5 1173.1 775.5 1174.7 770.9 1176.6 766.3 1178.4 761.9 1180.1 757 1182 752.9 1183.6 748.9 1185.1 744.2 1186.9 739.6 1188.7 734.9 1190.4 730.3 1192.2 725.6 1193.9 721 1195.7 716.4 1197.4 711.7 1199.1 707.1 1200.8 702.4 1202.6 700.1 1203.4M700.1 1008.8 702 1012.7 703.6 1016.4 705.2 1020.8 706.6 1025.5 707.6 1030.1 708.2 1034.8 708.5 1039.4 708.5 1044.1 708 1048.7 707.3 1053.4 706.1 1058 704.7 1062.4 703.3 1066.2 701.3 1070.7 700.1 1072.9" fill="none" stroke="#000" stroke-opacity="0.78" stroke-width="1.6"/>
<rect x="700.1" y="856.9" width="579.2" height="382.5" fill="none" stroke="#333" stroke-width="1.6"/>
<text x="688.2" y="1260.3" font-size="8.57" fill="#666" textLength="23.4" lengthAdjust="spacingAndGlyphs">1.50</text>
<text x="804" y="1260.3" font-size="8.57" fill="#666" textLength="23.4" lengthAdjust="spacingAndGlyphs">1.70</text>
<text x="919.9" y="1260.3" font-size="8.57" fill="#666" textLength="23.4" lengthAdjust="spacingAndGlyphs">1.90</text>
<text x="1036" y="1260.3" font-size="8.57" fill="#666" textLength="23.1" lengthAdjust="spacingAndGlyphs">2.10</text>
<text x="1151.9" y="1260.3" font-size="8.57" fill="#666" textLength="23.1" lengthAdjust="spacingAndGlyphs">2.30</text>
<text x="1267.7" y="1260.3" font-size="8.57" fill="#666" textLength="23.1" lengthAdjust="spacingAndGlyphs">2.50</text>
<text x="658.1" y="1242.7" font-size="9.43" fill="#666" textLength="23.5" lengthAdjust="spacingAndGlyphs">8.00</text>
<text x="658.1" y="1147.1" font-size="9.43" fill="#666" textLength="23.5" lengthAdjust="spacingAndGlyphs">9.00</text>
<text x="649.6" y="1051.5" font-size="9.43" fill="#666" textLength="32" lengthAdjust="spacingAndGlyphs">10.00</text>
<text x="649.6" y="955.8" font-size="9.43" fill="#666" textLength="32.1" lengthAdjust="spacingAndGlyphs">11.00</text>
<text x="649.6" y="860.2" font-size="9.43" fill="#666" textLength="32" lengthAdjust="spacingAndGlyphs">12.00</text>
<path d="M700.1 1239.4V1247.4M815.9 1239.4V1247.4M931.8 1239.4V1247.4M1047.6 1239.4V1247.4M1163.5 1239.4V1247.4M1279.3 1239.4V1247.4M685.6 1239.4H700.1M685.6 1143.8H700.1M685.6 1048.2H700.1M685.6 952.5H700.1M685.6 856.9H700.1" stroke="#444" stroke-width="1.4"/>
<rect x="1038.6" y="892" width="29" height="12" fill="#fff" stroke="#333" stroke-width="1"/>
<text x="1042.1" y="901.7" font-size="10.57" fill="#666" textLength="21.5" lengthAdjust="spacingAndGlyphs">150</text>
<rect x="952.9" y="1026.5" width="29" height="12" fill="#fff" stroke="#333" stroke-width="1"/>
<text x="956.8" y="1036.2" font-size="10.57" fill="#666" textLength="21.2" lengthAdjust="spacingAndGlyphs">200</text>
<rect x="1018.4" y="1177.9" width="29" height="12" fill="#fff" stroke="#333" stroke-width="1"/>
<text x="1021.9" y="1187.6" font-size="10.57" fill="#666" textLength="21.5" lengthAdjust="spacingAndGlyphs">150</text>
<ellipse cx="700.1" cy="1048.1" rx="5.6" ry="4" fill="#b80000" stroke="#400" stroke-width="1"/>
<ellipse cx="989.7" cy="856.9" rx="5.6" ry="4" fill="#b80000" stroke="#400" stroke-width="1"/>
<ellipse cx="989.7" cy="1048.1" rx="5.6" ry="4" fill="#b80000" stroke="#400" stroke-width="1"/>
<ellipse cx="1279.3" cy="1048.1" rx="5.6" ry="4" fill="#b80000" stroke="#400" stroke-width="1"/>
<ellipse cx="989.7" cy="1239.4" rx="5.6" ry="4" fill="#b80000" stroke="#400" stroke-width="1"/>
<text x="976.5" y="1051.1" font-size="9.29" fill="#2a5a2a" textLength="5" lengthAdjust="spacingAndGlyphs">4</text>
<text x="904.9" y="851.3" font-size="21.45" fill="#333" textLength="152.7" lengthAdjust="spacingAndGlyphs">Diameter (nm)</text>
<text x="838.7" y="1276.9" font-size="22.61" fill="#333" textLength="188.7" lengthAdjust="spacingAndGlyphs">A: Flow rate(ml/h)</text>
<text x="646.2" y="1103.4" font-size="23.77" fill="#333" textLength="159.3" lengthAdjust="spacingAndGlyphs" transform="rotate(-90 646.2 1103.4)">C: Distance (cm)</text>
<text x="1288.6" y="898.1" font-size="17.25" font-weight="bold" fill="#111" textLength="129" lengthAdjust="spacingAndGlyphs">Diameter (nm)</text>
<circle cx="1305.6" cy="920.1" r="10" fill="#c00000" stroke="#500" stroke-width="1.3"/>
<text x="1325.3" y="925.4" font-size="16.81" fill="#d04858" textLength="112.1" lengthAdjust="spacingAndGlyphs">Design Points</text>
<text x="1289" y="981.5" font-size="17.00" fill="#5050e8" textLength="54.7" lengthAdjust="spacingAndGlyphs">96.379</text>
<rect x="1347.6" y="964.4" width="66.3" height="24.8" rx="1.5" fill="url(#cb)" stroke="#222" stroke-width="1.2"/>
<text x="1420.6" y="981.5" font-size="17.00" fill="#e04050" textLength="45.4" lengthAdjust="spacingAndGlyphs">272.6</text>
<text x="1289.3" y="1009.2" font-size="16.09" fill="#444" textLength="55.3" lengthAdjust="spacingAndGlyphs">X1 = B</text>
<text x="1289.3" y="1037.8" font-size="16.09" fill="#444" textLength="56.7" lengthAdjust="spacingAndGlyphs">X2 = C</text>
<text x="1289.4" y="1092" font-size="16.09" font-weight="bold" fill="#111" textLength="114.8" lengthAdjust="spacingAndGlyphs">Actual Factor</text>
<text x="1289.7" y="1120.8" font-size="16.09" fill="#444" textLength="68.2" lengthAdjust="spacingAndGlyphs">A = 2.00</text>
<path d="M761.2 1311.9 765.2 1312.9 769.8 1313.9 774.4 1315 779 1316 783.6 1317 788.2 1318 792.8 1319 797.4 1319.9 801.9 1320.8 806.5 1321.7 811.1 1322.5 815.7 1323.3 820.3 1324.1 824.9 1324.9 829.5 1325.6 834.1 1326.3 838.6 1327 843.2 1327.6 847.8 1328.2 852.4 1328.7 857 1329.3 861.6 1329.8 866.2 1330.2 870.8 1330.7 875.3 1331.1 879.9 1331.4 884.5 1331.7 889.1 1332 893.7 1332.3 898.3 1332.5 902.9 1332.6 907.5 1332.8 912 1332.9 916.6 1332.9 921.2 1332.9 925.8 1332.9 930.4 1332.8 935 1332.7 939 1332.6 944.2 1332.4 948.7 1332.2 953.3 1331.9 957.9 1331.6 962.5 1331.3 967.1 1330.9 971.7 1330.4 976.3 1330 980.9 1329.5 985.4 1328.9 990 1328.3 994.6 1327.7 999.2 1327 1003.8 1326.3 1008.4 1325.6 1013 1324.8 1017.6 1324 1022.1 1323.1 1026.6 1322.3 1031.3 1321.3 1035.9 1320.3 1040.5 1319.3 1045.1 1318.3 1049.7 1317.2 1054.3 1316.1 1058.8 1314.9 1063.4 1313.7 1068 1312.5 1070.2 1311.9M1171.6 1694.9 1167.1 1693.7 1162.5 1692.6 1157.8 1691.4 1153 1690.3 1148.3 1689.2 1143.7 1688.1 1139.1 1687.1 1134.5 1686.1 1130 1685.1 1125.4 1684.2 1121.4 1683.4 1117.3 1682.6 1112.7 1681.7 1108.2 1680.9 1103.6 1680.1 1099 1679.3 1094.4 1678.5 1089.8 1677.8 1085.2 1677.1 1081.1 1676.5 1076 1675.8 1071.5 1675.2 1066.9 1674.6 1062.3 1674.1 1057.7 1673.6 1053.1 1673.1 1048.5 1672.7 1043.9 1672.3 1039.3 1672 1034.8 1671.6 1030.2 1671.3 1025.6 1671.1 1021 1670.9 1016.4 1670.7 1011.8 1670.6 1007.2 1670.5 1002.6 1670.4 998.1 1670.4 993.5 1670.4 988.9 1670.5 984.3 1670.6 980 1670.7 975.1 1670.9 970.5 1671.2 965.9 1671.4 961.4 1671.7 956.8 1672.1 952.2 1672.5 947.6 1672.9 943 1673.3 938.4 1673.9 933.8 1674.4 929.2 1675 924.7 1675.6 920.1 1676.3 915.5 1677 911.4 1677.6 906.3 1678.5 901.7 1679.3 897.1 1680.2 892.5 1681.1 888 1682 883.4 1683 878.8 1684 874.2 1685 869.6 1686.1 865 1687.2 860.4 1688.4 855.8 1689.6 851.3 1690.8 846.7 1692 842.1 1693.3 837.5 1694.7 836.7 1694.9M705.6 1320.9 709.7 1322.3 713.6 1323.6 718.2 1325.1 722.8 1326.6 727 1328 730.8 1329.2 735.4 1330.7 740 1332.1 744.6 1333.6 749 1334.9 753.8 1336.3 758.4 1337.7 762.9 1339 767.5 1340.3 772.1 1341.6 776.7 1342.9 781.2 1344.1 785.6 1345.3 790 1346.4 794.6 1347.6 798.5 1348.5 803.1 1349.6 807.7 1350.7 812.3 1351.8 816.8 1352.8 821.4 1353.8 826 1354.7 830.5 1355.6 835.2 1356.5 839.8 1357.4 844.4 1358.2 849 1359 853.5 1359.7 858.1 1360.4 862.7 1361.1 867.3 1361.7 871.9 1362.3 876.5 1362.8 881.1 1363.3 885.7 1363.7 890.2 1364.2 894.8 1364.5 898.9 1364.8 904 1365.1 908.6 1365.3 913.2 1365.5 917.8 1365.7 922.4 1365.7 927 1365.8 931.5 1365.8 936.1 1365.7 940.7 1365.6 945.3 1365.4 949.9 1365.2 954.5 1365 959.1 1364.7 963.7 1364.3 968.2 1363.9 972.8 1363.4 977.4 1362.9 982 1362.4 986.6 1361.7 991.2 1361.1 995.8 1360.4 1000.4 1359.6 1004.9 1358.8 1009.5 1358 1014.1 1357.1 1018.7 1356.1 1023.3 1355.1 1027.9 1354.1 1032.5 1353 1037.1 1351.9 1041.6 1350.7 1046.2 1349.5 1050.8 1348.3 1055.4 1347 1060 1345.6 1064.6 1344.3 1068.8 1343 1072.6 1341.8 1077.2 1340.3 1081.8 1338.8 1086.4 1337.2 1091 1335.6 1095.5 1334 1099.5 1332.6 1103.6 1331.1 1108.2 1329.4 1112.7 1327.7 1117.3 1325.9 1121.9 1324.1 1126.5 1322.3 1131.1 1320.4 1135 1318.8 1139.1 1317.1 1143.3 1315.4 1147.2 1313.7 1151.4 1311.9M1248.5 1694.9 1244.6 1693.5 1240.1 1691.8 1235.8 1690.3 1232 1689 1227.4 1687.3 1222.8 1685.7 1218.3 1684.1 1213.7 1682.6 1209.4 1681.1 1204.5 1679.5 1199.9 1677.9 1195.6 1676.5 1190.7 1674.9 1186.1 1673.5 1181.6 1672 1177.5 1670.7 1173.5 1669.5 1168.9 1668.1 1164.4 1666.7 1159.8 1665.4 1155.2 1664.1 1150.6 1662.8 1146.3 1661.5 1142.1 1660.4 1138 1659.3 1133.4 1658.1 1129 1656.9 1124.5 1655.8 1119.8 1654.6 1115 1653.5 1110.5 1652.4 1105.9 1651.4 1101.3 1650.4 1096.7 1649.4 1092.1 1648.5 1087.5 1647.5 1082.9 1646.7 1078.3 1645.8 1073.8 1645 1069.4 1644.3 1064.6 1643.5 1060 1642.8 1055.4 1642.2 1050.8 1641.6 1046.2 1641 1041.6 1640.5 1037.1 1640 1032.5 1639.5 1027.9 1639.1 1023.3 1638.8 1018.7 1638.4 1014.1 1638.2 1009.5 1638 1004.9 1637.8 1000.4 1637.7 995.8 1637.6 991.2 1637.6 986.6 1637.6 982 1637.7 977.4 1637.8 972.8 1637.9 968.2 1638.2 963.7 1638.4 959.1 1638.8 954.5 1639.1 949.9 1639.5 945.3 1640 940.7 1640.5 936.1 1641.1 931.5 1641.7 927 1642.4 922.4 1643.1 917.8 1643.9 913.2 1644.7 909.2 1645.4 905.2 1646.2 900.6 1647.2 896 1648.2 891.4 1649.2 886.8 1650.3 882.2 1651.4 877.6 1652.6 873 1653.8 868.5 1655 863.9 1656.3 859.3 1657.7 854.7 1659 850.2 1660.4 845.5 1661.9 840.9 1663.4 836.3 1664.9 831.8 1666.4 827.2 1668 822.8 1669.6 818 1671.3 813.4 1673 808.8 1674.7 804.2 1676.5 799.6 1678.3 795.4 1679.9 791.6 1681.4 787 1683.3 782.4 1685.2 778.5 1686.8 774.4 1688.6 770.3 1690.3 766.4 1692 762.3 1693.7 759.7 1694.9M705.6 1348.2 709.6 1349.9 713.6 1351.5 718.1 1353.3 722.8 1355.2 726.8 1356.8 730.8 1358.3 735.4 1360.1 740 1361.9 744.5 1363.7 749.2 1365.4 753.7 1367.1 758.4 1368.9 762.9 1370.5 767.5 1372.2 772.1 1373.9 776.7 1375.5 781.3 1377.1 785.6 1378.6 790.5 1380.3 795.1 1381.8 799.3 1383.2 804.2 1384.8 808.8 1386.3 813.4 1387.7 817.5 1389 821.4 1390.1 825.3 1391.3 829.3 1392.4 833.4 1393.6 837.5 1394.7 842 1395.9 846.4 1397 851.1 1398.2 855.8 1399.3 860.4 1400.4 865 1401.4 869.6 1402.3 874.2 1403.2 878.8 1404.1 883.4 1404.9 888 1405.6 892.5 1406.3 897.1 1406.9 901.7 1407.5 906.3 1408 910.9 1408.5 915.5 1408.8 920.1 1409.2 924.7 1409.4 929.2 1409.6 933.8 1409.7 938.4 1409.7 943 1409.7 947.6 1409.6 952.2 1409.4 956.8 1409.1 961.4 1408.8 965.9 1408.4 970.5 1407.9 975 1407.4 979.7 1406.7 984.3 1406 988.9 1405.2 993.5 1404.4 998.1 1403.5 1002.6 1402.5 1006.6 1401.6 1010.7 1400.6 1015.3 1399.5 1019.8 1398.3 1024.3 1397 1028.2 1395.9 1032.5 1394.6 1037.1 1393.1 1041.6 1391.6 1046.2 1390.1 1050.8 1388.5 1055.4 1386.8 1060 1385.1 1064.6 1383.4 1069.2 1381.6 1073.8 1379.8 1078.3 1377.9 1082.2 1376.3 1086.4 1374.5 1090.3 1372.9 1094.4 1371.1 1098.1 1369.4 1102.4 1367.5 1107 1365.4 1110.8 1363.7 1115 1361.7 1119.6 1359.5 1124.2 1357.3 1128.8 1355.1 1132.4 1353.3 1136.8 1351.1 1141.4 1348.8 1146 1346.5 1150.6 1344.2 1155.2 1341.9 1159.7 1339.5 1164.2 1337.2 1167.8 1335.3 1172.4 1332.9 1177 1330.4 1181.6 1328 1185.8 1325.7 1189.6 1323.7 1194.2 1321.2 1198.5 1318.8 1202.2 1316.8 1206.8 1314.3 1211.1 1311.9M1277.9 1682.3 1273.3 1680.3 1268.7 1678.4 1264.4 1676.5 1260.7 1674.9 1256.4 1673 1252.7 1671.5 1248.3 1669.6 1243.5 1667.6 1238.9 1665.6 1234.6 1663.8 1230.9 1662.3 1226.3 1660.4 1221.7 1658.5 1217.9 1656.9 1213.7 1655.2 1209.5 1653.5 1205.6 1651.9 1201.1 1650.1 1196.5 1648.3 1192.2 1646.6 1188.4 1645.1 1183.9 1643.3 1179.3 1641.5 1174.7 1639.8 1170.1 1638 1165.5 1636.3 1160.9 1634.6 1156.3 1632.9 1151.7 1631.2 1147.2 1629.6 1143.3 1628.2 1139.1 1626.7 1134.5 1625.1 1130.1 1623.6 1125.4 1622 1120.8 1620.5 1116.2 1619 1111.6 1617.5 1107 1616.1 1102.4 1614.7 1097.8 1613.3 1093.7 1612.1 1089.8 1611 1085.6 1609.8 1081.4 1608.6 1077.2 1607.5 1072.6 1606.3 1068 1605.2 1063.4 1604.1 1058.8 1603.1 1054.3 1602 1049.7 1601.1 1045.1 1600.2 1041.1 1599.4 1037.1 1598.7 1032.5 1597.9 1027.9 1597.2 1023.3 1596.6 1018.7 1596 1014.1 1595.5 1009.5 1595 1004.9 1594.6 1000.4 1594.3 995.8 1594 991.2 1593.8 986.6 1593.7 982 1593.6 977.4 1593.7 972.8 1593.7 968.2 1593.9 963.7 1594.1 959.1 1594.4 954.5 1594.8 949.9 1595.3 945.3 1595.8 940.7 1596.4 936.1 1597.1 931.5 1597.9 927 1598.7 922.4 1599.6 917.8 1600.5 913.2 1601.6 908.6 1602.7 904 1603.8 899.4 1605 894.8 1606.3 890.8 1607.5 886.8 1608.7 882.2 1610.1 877.6 1611.6 873 1613.2 868.5 1614.8 863.9 1616.4 860 1617.8 855.8 1619.4 851.3 1621.2 846.7 1623 842.4 1624.7 838.6 1626.3 834.1 1628.2 829.5 1630.2 824.9 1632.2 820.9 1633.9 816.8 1635.8 812.3 1637.8 808.3 1639.7 804.2 1641.6 799.6 1643.7 795.1 1645.9 791.3 1647.7 787 1649.8 782.4 1652.1 777.9 1654.4 773.3 1656.7 768.7 1659 764.1 1661.4 759.5 1663.7 754.9 1666.1 750.5 1668.4 746.9 1670.3 742.3 1672.8 737.7 1675.2 733.2 1677.6 728.9 1679.9 725.1 1682 720.5 1684.5 716.3 1686.8 712.5 1689 708 1691.4 705.6 1692.8M1277.9 1655.7 1273.6 1653.5 1269.9 1651.6 1265.3 1649.2 1260.7 1646.9 1256.1 1644.5 1251.5 1642.1 1246.9 1639.8 1242.3 1637.4 1237.8 1635.1 1233.4 1632.8 1229.7 1630.9 1225.1 1628.5 1220.6 1626.2 1216 1623.8 1211.4 1621.4 1206.8 1619 1202.4 1616.7 1198.8 1614.8 1194.2 1612.4 1189.6 1610 1185 1607.6 1180.5 1605.2 1176.1 1602.9 1172.4 1600.9 1167.8 1598.5 1163.2 1596 1158.9 1593.7 1155.2 1591.7 1150.6 1589.2 1146 1586.8 1141.8 1584.5 1138 1582.4 1133.4 1579.9 1129.2 1577.6 1125.4 1575.4 1120.9 1573 1117.3 1571 1112.8 1568.4 1108.7 1566.1 1104.7 1563.8 1100.8 1561.5 1096.8 1559.2 1093.3 1557.1 1089.8 1555 1086.4 1552.9 1082.9 1550.8 1079.5 1548.7 1076 1546.5 1072.6 1544.3 1069.2 1542 1065.7 1539.7 1062.3 1537.3 1058.8 1534.9 1055.4 1532.3 1052 1529.6 1048.7 1527 1045.1 1523.8 1041.6 1520.6 1038.2 1516.9 1035.2 1513.2 1033 1509.7 1030.7 1505.1 1029.4 1500.5 1029.1 1495.9 1029.6 1491.3 1031.1 1486.7 1033.3 1482.1 1035.4 1478.7 1037.9 1475.2 1040.5 1472 1043.7 1468.3 1047 1464.9 1050.5 1461.4 1054.1 1458 1057.7 1454.8 1061.1 1451.8 1064.6 1448.9 1068 1446 1071.5 1443.2 1074.6 1440.7 1078.3 1437.8 1081.8 1435.1 1085 1432.7 1088.7 1429.9 1092.1 1427.3 1095.5 1424.8 1098.9 1422.3 1102.4 1419.7 1105.9 1417.2 1109.3 1414.7 1112.7 1412.3 1116.2 1409.8 1119.6 1407.4 1123.1 1404.9 1126.5 1402.5 1130 1400.1 1133.4 1397.7 1136.8 1395.3 1140.3 1392.9 1143.7 1390.5 1147.2 1388.1 1150.6 1385.8 1154 1383.4 1157.5 1381 1160.9 1378.7 1164.4 1376.3 1167.8 1374 1171.2 1371.7 1174.5 1369.4 1177.9 1367.1 1181.3 1364.8 1184.7 1362.5 1188.1 1360.2 1191.6 1357.9 1195 1355.6 1198.4 1353.3 1201.8 1351 1205.3 1348.7 1208.7 1346.4 1212.1 1344.1 1215.6 1341.8 1219 1339.5 1222.5 1337.2 1225.9 1334.9 1229.4 1332.6 1232.8 1330.3 1236.3 1328 1239.7 1325.7 1243.2 1323.4 1246.7 1321.1 1250.1 1318.8 1253.6 1316.5 1257.1 1314.2 1260.6 1311.9M705.6 1380.9 710 1383.2 713.6 1385.1 718.2 1387.5 722.8 1389.9 727.4 1392.3 732 1394.7 736.4 1397 740 1398.9 744.6 1401.4 749.2 1403.8 753.7 1406.2 758 1408.5 761.8 1410.5 766.4 1413 770.9 1415.4 774.4 1417.3 779 1419.8 783.5 1422.3 787.7 1424.6 791.6 1426.8 796 1429.2 799.6 1431.2 804.2 1433.8 808.3 1436.1 812.3 1438.4 816.3 1440.7 820.2 1443 823.7 1445.1 827.2 1447.1 830.6 1449.2 834.1 1451.3 837.5 1453.4 840.9 1455.6 844.4 1457.8 847.8 1460 851.3 1462.3 854.7 1464.6 858.1 1467 861.5 1469.5 865 1472.1 868.5 1474.8 871.7 1477.5 875.3 1480.8 878.8 1484.2 882 1487.9 884.5 1491.2 886.7 1494.8 888.7 1499.4 889.8 1504 889.9 1508.6 889.1 1513.2 887.5 1517.8 885.7 1521.4 883.4 1525.1 880.3 1529.3 877.6 1532.5 874.3 1536.2 870.9 1539.6 867.4 1543.1 863.9 1546.3 860.4 1549.4 857.1 1552.3 853.5 1555.2 850.2 1558 846.7 1560.9 843.2 1563.6 840 1566.1 836.3 1568.9 832.9 1571.6 829.5 1574.1 826 1576.7 822.6 1579.3 819.1 1581.8 815.7 1584.3 812.3 1586.8 808.8 1589.3 805.4 1591.7 801.9 1594.2 798.5 1596.6 795.1 1599.1 791.6 1601.5 788.2 1603.9 784.7 1606.3 781.4 1608.6 778.1 1610.9 774.8 1613.2 771.4 1615.5 768.1 1617.8 764.7 1620.1 761.4 1622.4 758 1624.7 754.6 1627 751.3 1629.3 747.9 1631.6 744.5 1633.9 741.2 1636.2 737.7 1638.5 734.3 1640.8 730.9 1643.1 727.5 1645.4 724.1 1647.7 720.6 1650 717.2 1652.3 713.8 1654.6 710.3 1656.9 706.9 1659.2 705.6 1660.1M1277.9 1624.2 1274.5 1622 1271 1619.8 1267.6 1617.6 1264.1 1615.3 1260.7 1613.1 1257.3 1610.8 1253.8 1608.5 1250.4 1606.1 1246.9 1603.8 1243.5 1601.4 1240.1 1599 1236.6 1596.6 1233.2 1594.1 1229.7 1591.6 1226.3 1589.1 1222.8 1586.6 1219.4 1583.9 1216 1581.3 1212.7 1578.7 1209.1 1575.9 1205.6 1573.1 1202.2 1570.2 1198.8 1567.3 1195.3 1564.3 1192.2 1561.5 1188.5 1558 1185 1554.6 1181.6 1551.2 1178.2 1547.7 1175.1 1544.2 1172.4 1541.1 1169.3 1537.3 1166.7 1533.9 1164.2 1530.4 1161.9 1527 1159.8 1523.5 1157.5 1519.3 1155.6 1515.5 1153.7 1510.9 1152.1 1506.3 1150.8 1501.7 1150 1497.1 1149.4 1492.8 1149.2 1487.9 1149.4 1483.3 1149.9 1478.7 1150.6 1474.5 1151.7 1469.7 1153.2 1464.9 1155 1460.3 1157 1455.7 1159.3 1451.1 1161.8 1446.5 1163.9 1443 1166.1 1439.6 1168.5 1436.1 1170.9 1432.7 1173.5 1429.2 1176.2 1425.8 1179 1422.3 1181.6 1419.2 1184.9 1415.4 1188 1412 1190.7 1409 1194.2 1405.3 1197.6 1401.8 1201.1 1398.3 1204.5 1394.9 1207.9 1391.6 1211.4 1388.3 1214.3 1385.5 1218.1 1382.1 1221.7 1378.8 1225.1 1375.7 1228.3 1372.9 1232 1369.6 1235.5 1366.6 1238.9 1363.7 1242.3 1360.8 1245.8 1357.9 1249.2 1355 1252.7 1352.2 1256.1 1349.3 1259.5 1346.5 1263 1343.8 1266.4 1341 1269.7 1338.4 1273.3 1335.5 1276.8 1332.8 1277.9 1331.9M705.6 1424 709 1426.8 712.5 1429.5 715.9 1432.4 719.4 1435.3 722.8 1438.3 726.2 1441.4 729.3 1444.2 732.9 1447.6 736.4 1451.1 739.7 1454.5 742.9 1458 745.7 1461.2 748.8 1464.9 751.5 1468.3 754 1471.8 756.4 1475.2 758.6 1478.7 760.7 1482.3 762.9 1486.7 764.9 1491.3 766.4 1495.3 767.6 1499.4 768.7 1504 769.4 1508.6 769.8 1513.2 769.8 1517.8 769.5 1522.4 768.8 1527 767.8 1531.6 766.6 1536.2 765.2 1540 763.6 1544.2 761.8 1548.2 759.7 1552.3 757.2 1556.9 755.1 1560.3 752.9 1563.8 750.6 1567.2 748.1 1570.7 745.5 1574.1 742.9 1577.6 740.1 1581 737.2 1584.5 734.3 1587.8 731.1 1591.4 727.9 1594.8 725.1 1597.8 721.7 1601.3 718.2 1604.8 714.8 1608.2 711.3 1611.6 708.4 1614.4 705.6 1617M1277.9 1583.8 1274.9 1581 1271.2 1577.6 1267.6 1574.1 1264.2 1570.7 1260.8 1567.2 1257.6 1563.8 1254.4 1560.3 1251.5 1557 1248.5 1553.4 1245.8 1550 1243.1 1546.5 1240.6 1543.1 1238.2 1539.6 1235.9 1536.2 1233.8 1532.7 1231.2 1528.1 1228.8 1523.5 1226.6 1518.9 1224.7 1514.3 1223.1 1509.7 1221.7 1505.1 1220.6 1500.5 1219.7 1495.9 1219.1 1491.3 1218.7 1486.7 1218.6 1482.1 1218.8 1477.5 1219.2 1472.9 1219.8 1468.3 1220.6 1464.3 1221.5 1460.3 1222.7 1455.7 1224 1451.8 1225.5 1447.6 1227.4 1443 1229.4 1438.4 1231.7 1433.8 1234.2 1429.2 1236.6 1425 1238.9 1421.2 1241.1 1417.7 1243.4 1414.3 1245.8 1410.9 1248.3 1407.4 1250.9 1403.9 1253.5 1400.5 1256.1 1397.2 1259 1393.6 1261.8 1390.2 1264.9 1386.7 1267.6 1383.6 1271 1379.8 1274.2 1376.3 1277.4 1372.9 1277.9 1372.3M1277.9 1509.8 1276.8 1505.8 1275.7 1501.7 1274.8 1497.1 1274 1492.5 1273.5 1487.9 1273.2 1483.3 1273 1478.7 1273.1 1474.1 1273.4 1469.5 1273.9 1464.9 1274.6 1460.3 1275.5 1455.7 1276.6 1451.1 1277.9 1446.5 1277.9 1446.4" fill="none" stroke="#000" stroke-opacity="0.78" stroke-width="1.6"/>
<rect x="705.6" y="1311.9" width="572.3" height="383" fill="none" stroke="#333" stroke-width="1.6"/>
<text x="689.4" y="1715.8" font-size="8.57" fill="#666" textLength="31.9" lengthAdjust="spacingAndGlyphs">18.00</text>
<text x="832.8" y="1715.8" font-size="8.57" fill="#666" textLength="31.6" lengthAdjust="spacingAndGlyphs">20.00</text>
<text x="975.9" y="1715.8" font-size="8.57" fill="#666" textLength="31.6" lengthAdjust="spacingAndGlyphs">22.00</text>
<text x="1119" y="1715.8" font-size="8.57" fill="#666" textLength="31.6" lengthAdjust="spacingAndGlyphs">24.00</text>
<text x="1262.1" y="1715.8" font-size="8.57" fill="#666" textLength="31.6" lengthAdjust="spacingAndGlyphs">26.00</text>
<text x="663.6" y="1698.2" font-size="9.43" fill="#666" textLength="23.5" lengthAdjust="spacingAndGlyphs">8.00</text>
<text x="663.6" y="1602.5" font-size="9.43" fill="#666" textLength="23.5" lengthAdjust="spacingAndGlyphs">9.00</text>
<text x="655.1" y="1506.7" font-size="9.43" fill="#666" textLength="32" lengthAdjust="spacingAndGlyphs">10.00</text>
<text x="655.1" y="1411" font-size="9.43" fill="#666" textLength="32.1" lengthAdjust="spacingAndGlyphs">11.00</text>
<text x="655.1" y="1315.2" font-size="9.43" fill="#666" textLength="32" lengthAdjust="spacingAndGlyphs">12.00</text>
<path d="M705.6 1694.9V1702.9M848.7 1694.9V1702.9M991.8 1694.9V1702.9M1134.8 1694.9V1702.9M1277.9 1694.9V1702.9M691.1 1694.9H705.6M691.1 1599.2H705.6M691.1 1503.4H705.6M691.1 1407.7H705.6M691.1 1311.9H705.6" stroke="#444" stroke-width="1.4"/>
<rect x="898.5" y="1322.4" width="29" height="12" fill="#fff" stroke="#333" stroke-width="1"/>
<text x="902" y="1332.1" font-size="10.57" fill="#666" textLength="21.5" lengthAdjust="spacingAndGlyphs">140</text>
<rect x="920.3" y="1355" width="29" height="12" fill="#fff" stroke="#333" stroke-width="1"/>
<text x="923.8" y="1364.7" font-size="10.57" fill="#666" textLength="21.5" lengthAdjust="spacingAndGlyphs">160</text>
<rect x="969.9" y="1396.4" width="29" height="12" fill="#fff" stroke="#333" stroke-width="1"/>
<text x="973.4" y="1406.1" font-size="10.57" fill="#666" textLength="21.5" lengthAdjust="spacingAndGlyphs">180</text>
<rect x="753.1" y="1506" width="29" height="12" fill="#fff" stroke="#333" stroke-width="1"/>
<text x="757" y="1515.7" font-size="10.57" fill="#666" textLength="21.2" lengthAdjust="spacingAndGlyphs">220</text>
<rect x="866.3" y="1506" width="29" height="12" fill="#fff" stroke="#333" stroke-width="1"/>
<text x="870.2" y="1515.7" font-size="10.57" fill="#666" textLength="21.2" lengthAdjust="spacingAndGlyphs">200</text>
<rect x="1021.9" y="1477.3" width="29" height="12" fill="#fff" stroke="#333" stroke-width="1"/>
<text x="1025.8" y="1487" font-size="10.57" fill="#666" textLength="21.2" lengthAdjust="spacingAndGlyphs">200</text>
<rect x="1135.9" y="1467.5" width="29" height="12" fill="#fff" stroke="#333" stroke-width="1"/>
<text x="1139.8" y="1477.2" font-size="10.57" fill="#666" textLength="21.2" lengthAdjust="spacingAndGlyphs">220</text>
<rect x="1204.1" y="1462.6" width="29" height="12" fill="#fff" stroke="#333" stroke-width="1"/>
<text x="1208" y="1472.3" font-size="10.57" fill="#666" textLength="21.2" lengthAdjust="spacingAndGlyphs">240</text>
<rect x="977.4" y="1580" width="29" height="12" fill="#fff" stroke="#333" stroke-width="1"/>
<text x="980.9" y="1589.7" font-size="10.57" fill="#666" textLength="21.5" lengthAdjust="spacingAndGlyphs">180</text>
<rect x="991.9" y="1624.8" width="29" height="12" fill="#fff" stroke="#333" stroke-width="1"/>
<text x="995.4" y="1634.5" font-size="10.57" fill="#666" textLength="21.5" lengthAdjust="spacingAndGlyphs">160</text>
<rect x="992.2" y="1657.4" width="29" height="12" fill="#fff" stroke="#333" stroke-width="1"/>
<text x="995.7" y="1667.1" font-size="10.57" fill="#666" textLength="21.5" lengthAdjust="spacingAndGlyphs">140</text>
<ellipse cx="705.6" cy="1503.4" rx="5.6" ry="4" fill="#b80000" stroke="#400" stroke-width="1"/>
<ellipse cx="991.7" cy="1311.9" rx="5.6" ry="4" fill="#b80000" stroke="#400" stroke-width="1"/>
<ellipse cx="991.7" cy="1503.4" rx="5.6" ry="4" fill="#b80000" stroke="#400" stroke-width="1"/>
<ellipse cx="1277.9" cy="1503.4" rx="5.6" ry="4" fill="#b80000" stroke="#400" stroke-width="1"/>
<ellipse cx="991.7" cy="1694.9" rx="5.6" ry="4" fill="#b80000" stroke="#400" stroke-width="1"/>
<text x="978.5" y="1506.4" font-size="9.29" fill="#2a5a2a" textLength="5" lengthAdjust="spacingAndGlyphs">4</text>
<text x="947.9" y="1302.5" font-size="21.45" fill="#333" textLength="152.5" lengthAdjust="spacingAndGlyphs">Diameter (nm)</text>
<text x="970.3" y="1734.5" font-size="21.74" fill="#333" textLength="149.7" lengthAdjust="spacingAndGlyphs">B: Voltage (Kv)</text>
<text x="645.1" y="1536" font-size="24.35" fill="#333" textLength="157" lengthAdjust="spacingAndGlyphs" transform="rotate(-90 645.1 1536)">C: Distance (cm)</text>
<text x="1287" y="1344.6" font-size="17.25" font-weight="bold" fill="#111" textLength="129" lengthAdjust="spacingAndGlyphs">Diameter (nm)</text>
<circle cx="1304" cy="1366.6" r="10" fill="#c00000" stroke="#500" stroke-width="1.3"/>
<text x="1323.7" y="1371.9" font-size="16.81" fill="#d04858" textLength="112.1" lengthAdjust="spacingAndGlyphs">Design Points</text>
<text x="1287.4" y="1428" font-size="17.00" fill="#5050e8" textLength="54.7" lengthAdjust="spacingAndGlyphs">96.379</text>
<rect x="1346" y="1410.9" width="66.3" height="24.8" rx="1.5" fill="url(#cb)" stroke="#222" stroke-width="1.2"/>
<text x="1419" y="1428" font-size="17.00" fill="#e04050" textLength="45.4" lengthAdjust="spacingAndGlyphs">272.6</text>
<text x="1287.7" y="1455.7" font-size="16.09" fill="#444" textLength="55.3" lengthAdjust="spacingAndGlyphs">X1 = B</text>
<text x="1287.7" y="1484.3" font-size="16.09" fill="#444" textLength="56.7" lengthAdjust="spacingAndGlyphs">X2 = C</text>
<text x="1287.8" y="1538.5" font-size="16.09" font-weight="bold" fill="#111" textLength="114.8" lengthAdjust="spacingAndGlyphs">Actual Factor</text>
<text x="1288.1" y="1567.3" font-size="16.09" fill="#444" textLength="68.2" lengthAdjust="spacingAndGlyphs">A = 2.00</text>
<path d="M123 650.5L325.2 586.2M325.2 586.2L527.2 650.7M121.4 617.6L325.2 556.4M325.2 556.4L528.8 617.6M119.7 584.6L325.2 526.6M325.2 526.6L530.5 584.5M118.1 551.6L325.2 496.8M325.2 496.8L532.1 551.4M116.4 518.7L325.2 467M325.2 467L533.8 518.3M114.8 485.7L325.2 437.1M325.2 437.1L535.4 485.2M113.1 452.7L325.2 407.3M325.2 407.3L537.1 452.1M163.5 637.7L155.5 443.7M203.9 624.8L197.9 434.6M244.4 611.9L240.4 425.5M284.8 599.1L282.8 416.4M476.7 634.5L484.1 440.9M426.2 618.4L431.1 429.7M375.7 602.3L378.2 418.5M126.1 712.3L113.1 452.7M325.3 642L325.2 407.3M524.1 712.6L537.1 452.1" stroke="#2a2a2a" stroke-width="1.3" fill="none"/>
<circle cx="123" cy="650.5" r="2.2" fill="#111"/>
<circle cx="121.4" cy="617.6" r="2.2" fill="#111"/>
<circle cx="119.7" cy="584.6" r="2.2" fill="#111"/>
<circle cx="118.1" cy="551.6" r="2.2" fill="#111"/>
<circle cx="116.4" cy="518.7" r="2.2" fill="#111"/>
<circle cx="114.8" cy="485.7" r="2.2" fill="#111"/>
<circle cx="113.1" cy="452.7" r="2.2" fill="#111"/>
<polygon points="325.4,803.4 126.1,712.3 325.3,642 524.1,712.6" fill="#5f5f5f" stroke="#111" stroke-width="1.4" stroke-linejoin="round"/>
<g fill="none" stroke-width="2.6" stroke-linecap="round" opacity="0.85"><path d="M505.6 721.1 502.3 721.5 498.9 721.9 495.7 722.3 492.4 722.7 489.2 723.1 486 723.4 482.8 723.8 479.7 724.1 476.6 724.4 473.6 724.7 470.5 725 467.5 725.2 464.4 725.5 460.8 725.7 457.2 726 453.4 726.2 450.1 726.4 445.9 726.6 442.1 726.8 438.2 727 435 727.1 431.6 727.2 428.5 727.2 424.8 727.3 420.8 727.3 417.7 727.3 414.7 727.2 411 727.2 407.5 727.1 404.3 726.9 401.2 726.8 398 726.6 394.6 726.4 391.2 726.1 387.6 725.8 384.4 725.5 381.4 725.1 377.8 724.7 374.7 724.2 371 723.6 367.5 722.9 364.1 722.1 360.8 721.3 357.7 720.4 354.8 719.5 351.4 718.2 348.3 716.8 345.5 715.2 342.7 713.2 340.4 710.9 338.7 708.4 337.9 705.1 338.1 702 339.4 698.9 341.3 696 343.4 693.6 345.5 691.6 347.8 689.6 350.5 687.6 353.4 685.7 356.4 683.8 359.1 682.2 361.8 680.7 364.6 679.2 367.5 677.8 370.4 676.3 373.4 674.9 376.5 673.6 379.7 672.2 382.8 670.9 386.1 669.5 389.4 668.2 392.7 667 394.1 666.5" stroke="#2bff00" /><path d="M455.4 744 452.2 744.3 449.1 744.6 446 744.9 442.9 745.2 439.8 745.5 436.8 745.7 433.8 745.9 430.8 746.2 427 746.4 423.4 746.7 419.8 746.9 416.1 747.1 412.4 747.3 409 747.5 404.9 747.7 401 747.8 397.9 747.9 394.6 748 391.1 748.1 388.1 748.1 384.5 748.2 381.4 748.2 378 748.2 374.5 748.2 370.4 748.2 366.6 748.1 363.2 748 359.3 747.9 355.9 747.8 352.9 747.7 349.8 747.5 346.7 747.3 343.5 747.1 340.3 746.9 337 746.6 333.6 746.3 330.1 746 326.6 745.6 323.5 745.2 320.4 744.8 317.4 744.4 313.5 743.8 309.7 743.2 306.2 742.5 302.3 741.7 298.8 740.9 295.4 740.1 292.2 739.2 289 738.3 286 737.3 283 736.3 279.6 734.9 276.3 733.5 273.3 731.9 270.6 730.3 268.1 728.5 265.4 726.3 263.3 723.9 261.6 721.3 260.6 718.4 260.2 715.4 260.6 712.3 261.7 709 263.3 706.2 265.2 703.6 267.2 701.3 269.5 699.1 271.9 697 274.6 694.9 277 693.1 279.7 691.3 282.6 689.5 285.3 687.9 287.9 686.4 290.6 684.9 293.4 683.4 296.2 682 299.1 680.6 302.1 679.2 305.1 677.8 308.1 676.5 311.2 675.2 314.3 673.9 317.5 672.6 320.7 671.3 323.9 670 327.2 668.8 330.5 667.6 333.9 666.3 337.3 665.1 340.7 663.9 344.2 662.7 347.7 661.6 351.2 660.4 354.7 659.3 357.6 658.3 360.5 657.4 363.4 656.5 364.8 656.1" stroke="#c1ff00" /><path d="M415.9 762 412.8 762.3 409.8 762.5 406.8 762.7 403.8 763 399.8 763.2 396.3 763.4 392.6 763.7 389 763.9 385.2 764.1 381.8 764.2 377.8 764.4 374.7 764.5 371.6 764.6 367.8 764.7 363.9 764.8 360.9 764.9 357.5 765 354.1 765 350.9 765 347.5 765.1 344.2 765 340.9 765 337.4 765 333.3 764.9 329.4 764.9 326.2 764.8 323.2 764.7 319.6 764.5 316.1 764.4 312.3 764.2 308.8 764 305.6 763.8 302.5 763.6 299.5 763.4 296.2 763.1 292.9 762.8 289.6 762.5 286.2 762.1 282.9 761.8 279.7 761.4 276.5 761 273.4 760.6 270.4 760.1 267.3 759.6 264.4 759.2 260.5 758.5 256.7 757.8 253 757 249.3 756.2 245.8 755.4 242.4 754.5 239.1 753.6 235.7 752.6 232.6 751.6 229.5 750.6 226.6 749.5 223.7 748.4 220.3 746.9 217.2 745.4 214.1 743.8 211.3 742.1 208.7 740.3 206.3 738.4 203.8 736 201.7 733.5 200 730.9 198.8 728 198.1 725 198 721.9 198.6 718.9 199.7 715.7 201.1 713 203.1 710.2 205 707.8 207.2 705.5 209.5 703.4 211.9 701.3 214.5 699.2 217.2 697.2 220.1 695.3 222.9 693.4 225.5 691.9 228.6 690.1 231.3 688.6 234 687.1 236.8 685.7 239.6 684.3 242.4 682.9 245.3 681.6 248.3 680.2 251.3 678.9 254.3 677.6 257.4 676.3 260.5 675 263.6 673.7 266.8 672.5 270 671.3 273.2 670 276.5 668.8 279.8 667.6 283.2 666.4 286.5 665.3 289.9 664.1 293.3 663 296.8 661.8 300.3 660.7 303.8 659.5 307.3 658.4 310.9 657.3 314.4 656.2 317.3 655.3 320.2 654.5 323.1 653.6 326 652.8 329 651.9 331.9 651 334.9 650.2 337.9 649.4 340.9 648.5 342.4 648.1" stroke="#ffa600" /><path d="M382.3 777.4 379.3 777.6 375.3 777.8 371.8 778 368.1 778.2 364.5 778.4 360.8 778.6 357.2 778.8 353.4 778.9 350.1 779 345.9 779.2 342.2 779.3 338.9 779.4 335.8 779.4 332 779.5 328.1 779.5 324.2 779.6 321.2 779.6 317.6 779.6 314.5 779.5 310.9 779.5 306.8 779.4 302.8 779.4 299 779.3 295.8 779.2 292.7 779.1 289 778.9 285.8 778.8 281.6 778.6 278.5 778.4 274.4 778.1 271 777.9 269.5 777.8" stroke="#ff0f00" /><path d="M146.2 721.4 147.5 718.7 149.2 715.9 151.1 713.4 153.1 711.1 155.2 708.8 157.5 706.6 160 704.5 162.4 702.6 165.1 700.6 168 698.6 170.9 696.7 171.7 696.2" stroke="#ff0f00" /><path d="M352.5 791 349.1 791.2 345.4 791.4 342.1 791.5 338.2 791.7 334.9 791.8 330.8 792 327.7 792.1 324.6 792.2 320.8 792.3 317.8 792.3 314.5 792.4 310.9 792.5 306.9 792.5 303 792.5 301.7 792.5" stroke="#f00" /></g>
<circle cx="365.1" cy="785.2" r="1.8" fill="#000"/>
<circle cx="404.9" cy="767.1" r="1.8" fill="#000"/>
<circle cx="444.6" cy="748.9" r="1.8" fill="#000"/>
<circle cx="484.3" cy="730.8" r="1.8" fill="#000"/>
<circle cx="275.6" cy="780.6" r="1.8" fill="#000"/>
<circle cx="225.8" cy="757.8" r="1.8" fill="#000"/>
<circle cx="175.9" cy="735" r="1.8" fill="#000"/>
<circle cx="325.4" cy="803.4" r="2" fill="#000"/>
<circle cx="126.1" cy="712.3" r="2" fill="#000"/>
<circle cx="325.3" cy="642" r="2" fill="#000"/>
<circle cx="524.1" cy="712.6" r="2" fill="#000"/>
<g stroke="#1a1a1a" stroke-width="1.45" stroke-linejoin="round"><path d="M325.2 471.2L335.6 467.5 325.2 456.6 314.7 460.3Z" fill="#e75213"/><path d="M335.6 481.4L346 477.8 335.6 467.5 325.2 471.2Z" fill="#e99415"/><path d="M314.8 474.7L325.2 471.2 314.7 460.3 304.3 463.9Z" fill="#e85b13"/><path d="M346 491.2L356.4 487.6 346 477.8 335.6 481.4Z" fill="#ebd117"/><path d="M325.2 484.9L335.6 481.4 325.2 471.2 314.8 474.7Z" fill="#ea9c15"/><path d="M304.3 478L314.8 474.7 304.3 463.9 293.8 467.4Z" fill="#e86213"/><path d="M356.3 500.3L366.7 496.9 356.4 487.6 346 491.2Z" fill="#d0ed19"/><path d="M335.6 494.5L346 491.2 335.6 481.4 325.2 484.9Z" fill="#ebd717"/><path d="M314.8 488.1L325.2 484.9 314.8 474.7 304.3 478Z" fill="#eaa114"/><path d="M293.9 481.2L304.3 478 293.8 467.4 283.4 470.6Z" fill="#e96712"/><path d="M345.9 503.6L356.3 500.3 346 491.2 335.6 494.5Z" fill="#cded18"/><path d="M325.2 497.6L335.6 494.5 325.2 484.9 314.8 488.1Z" fill="#ecdc16"/><path d="M304.4 491.2L314.8 488.1 304.3 478 293.9 481.2Z" fill="#eaa614"/><path d="M366.6 508.9L377 505.6 366.7 496.9 356.3 500.3Z" fill="#a1ef1b"/><path d="M283.5 484.1L293.9 481.2 283.4 470.6 272.9 473.7Z" fill="#e96b12"/><path d="M335.6 506.6L345.9 503.6 335.6 494.5 325.2 497.6Z" fill="#caee18"/><path d="M314.8 500.6L325.2 497.6 314.8 488.1 304.4 491.2Z" fill="#ecdf16"/><path d="M376.9 517L387.3 513.7 377 505.6 366.6 508.9Z" fill="#77f11d"/><path d="M356.3 512.1L366.6 508.9 356.3 500.3 345.9 503.6Z" fill="#9eef1a"/><path d="M294 494L304.4 491.2 293.9 481.2 283.5 484.1Z" fill="#eba814"/><path d="M273 486.9L283.5 484.1 272.9 473.7 262.5 476.5Z" fill="#e96e12"/><path d="M387.2 524.4L397.5 521.3 387.3 513.7 376.9 517Z" fill="#51f21e"/><path d="M366.6 520L376.9 517 366.6 508.9 356.3 512.1Z" fill="#75f11c"/><path d="M345.9 515L356.3 512.1 345.9 503.6 335.6 506.6Z" fill="#9df01a"/><path d="M325.2 509.5L335.6 506.6 325.2 497.6 314.8 500.6Z" fill="#c9ee17"/><path d="M304.4 503.4L314.8 500.6 304.4 491.2 294 494Z" fill="#ede015"/><path d="M283.5 496.7L294 494 283.5 484.1 273 486.9Z" fill="#ebaa13"/><path d="M262.6 489.5L273 486.9 262.5 476.5 252 479.2Z" fill="#ea6f11"/><path d="M397.5 531.2L407.8 528.2 397.5 521.3 387.2 524.4Z" fill="#30f41f"/><path d="M376.9 527.3L387.2 524.4 376.9 517 366.6 520Z" fill="#51f31d"/><path d="M356.2 522.8L366.6 520 356.3 512.1 345.9 515Z" fill="#75f11b"/><path d="M335.6 517.7L345.9 515 335.6 506.6 325.2 509.5Z" fill="#9ef019"/><path d="M314.8 512.1L325.2 509.5 314.8 500.6 304.4 503.4Z" fill="#caef17"/><path d="M294 505.9L304.4 503.4 294 494 283.5 496.7Z" fill="#ede015"/><path d="M273.1 499.2L283.5 496.7 273 486.9 262.6 489.5Z" fill="#eca913"/><path d="M252.2 491.9L262.6 489.5 252 479.2 241.6 481.7Z" fill="#ea6f11"/><path d="M407.7 537.5L418 534.6 407.8 528.2 397.5 531.2Z" fill="#20f62d"/><path d="M387.1 534L397.5 531.2 387.2 524.4 376.9 527.3Z" fill="#31f51e"/><path d="M366.5 530L376.9 527.3 366.6 520 356.2 522.8Z" fill="#52f31c"/><path d="M345.9 525.4L356.2 522.8 345.9 515 335.6 517.7Z" fill="#77f21a"/><path d="M325.2 520.3L335.6 517.7 325.2 509.5 314.8 512.1Z" fill="#9ff018"/><path d="M304.4 514.6L314.8 512.1 304.4 503.4 294 505.9Z" fill="#ccef16"/><path d="M283.6 508.3L294 505.9 283.5 496.7 273.1 499.2Z" fill="#eedf14"/><path d="M262.7 501.5L273.1 499.2 262.6 489.5 252.2 491.9Z" fill="#eca712"/><path d="M241.7 494.1L252.2 491.9 241.6 481.7 231.1 484Z" fill="#eb6c11"/><path d="M397.4 540.1L407.7 537.5 397.5 531.2 387.1 534Z" fill="#1ff628"/><path d="M376.8 536.6L387.1 534 376.9 527.3 366.5 530Z" fill="#33f51d"/><path d="M356.2 532.5L366.5 530 356.2 522.8 345.9 525.4Z" fill="#55f41b"/><path d="M294 516.8L304.4 514.6 294 505.9 283.6 508.3Z" fill="#d0ef16"/><path d="M273.2 510.5L283.6 508.3 273.1 499.2 262.7 501.5Z" fill="#eedb14"/><path d="M252.3 503.6L262.7 501.5 252.2 491.9 241.7 494.1Z" fill="#eca412"/><path d="M418 543.1L428.3 540.3 418 534.6 407.7 537.5Z" fill="#21f846"/><path d="M335.5 527.9L345.9 525.4 335.6 517.7 325.2 520.3Z" fill="#7af219"/><path d="M314.8 522.6L325.2 520.3 314.8 512.1 304.4 514.6Z" fill="#a3f117"/><path d="M231.3 496.1L241.7 494.1 231.1 484 220.6 486.1Z" fill="#eb6910"/><path d="M387.1 542.6L397.4 540.1 387.1 534 376.8 536.6Z" fill="#1ef722"/><path d="M366.5 539L376.8 536.6 366.5 530 356.2 532.5Z" fill="#37f51c"/><path d="M283.7 518.9L294 516.8 283.6 508.3 273.2 510.5Z" fill="#d5f015"/><path d="M262.8 512.5L273.2 510.5 262.7 501.5 252.3 503.6Z" fill="#eed713"/><path d="M428.2 548.1L438.5 545.4 428.3 540.3 418 543.1Z" fill="#21f95a"/><path d="M407.7 545.6L418 543.1 407.7 537.5 397.4 540.1Z" fill="#1ff840"/><path d="M345.9 534.8L356.2 532.5 345.9 525.4 335.5 527.9Z" fill="#59f41a"/><path d="M325.2 530.1L335.5 527.9 325.2 520.3 314.8 522.6Z" fill="#7ef318"/><path d="M304.5 524.8L314.8 522.6 304.4 514.6 294 516.8Z" fill="#a8f117"/><path d="M241.8 505.4L252.3 503.6 241.7 494.1 231.3 496.1Z" fill="#ed9f11"/><path d="M220.8 497.8L231.3 496.1 220.6 486.1 210.2 488Z" fill="#ec6410"/><path d="M376.8 544.8L387.1 542.6 376.8 536.6 366.5 539Z" fill="#1ef71c"/><path d="M273.3 520.8L283.7 518.9 273.2 510.5 262.8 512.5Z" fill="#dcf014"/><path d="M397.4 547.9L407.7 545.6 397.4 540.1 387.1 542.6Z" fill="#1ef839"/><path d="M356.2 541.2L366.5 539 356.2 532.5 345.9 534.8Z" fill="#3cf61b"/><path d="M335.5 536.9L345.9 534.8 335.5 527.9 325.2 530.1Z" fill="#5ff419"/><path d="M314.8 532.1L325.2 530.1 314.8 522.6 304.5 524.8Z" fill="#84f317"/><path d="M294.1 526.7L304.5 524.8 294 516.8 283.7 518.9Z" fill="#aef216"/><path d="M252.4 514.2L262.8 512.5 252.3 503.6 241.8 505.4Z" fill="#efd012"/><path d="M438.5 552.4L448.7 549.9 438.5 545.4 428.2 548.1Z" fill="#20fb69" stroke-width="1.36"/><path d="M417.9 550.5L428.2 548.1 418 543.1 407.7 545.6Z" fill="#1ffa53" stroke-width="1.43"/><path d="M231.4 507.1L241.8 505.4 231.3 496.1 220.8 497.8Z" fill="#ed9811"/><path d="M210.3 499.4L220.8 497.8 210.2 488 199.7 489.7Z" fill="#ec5d0f"/><path d="M448.7 556.1L459 553.8 448.7 549.9 438.5 552.4Z" fill="#1ffc72" stroke-width="1.22"/><path d="M428.2 554.7L438.5 552.4 428.2 548.1 417.9 550.5Z" fill="#1efb60" stroke-width="1.30"/><path d="M407.7 552.7L417.9 550.5 407.7 545.6 397.4 547.9Z" fill="#1dfa49" stroke-width="1.37"/><path d="M387.1 550.1L397.4 547.9 387.1 542.6 376.8 544.8Z" fill="#1cf92f" stroke-width="1.44"/><path d="M366.5 546.9L376.8 544.8 366.5 539 356.2 541.2Z" fill="#24f71b"/><path d="M345.9 543.2L356.2 541.2 345.9 534.8 335.5 536.9Z" fill="#43f61a"/><path d="M325.2 538.8L335.5 536.9 325.2 530.1 314.8 532.1Z" fill="#66f518"/><path d="M304.5 533.9L314.8 532.1 304.5 524.8 294.1 526.7Z" fill="#8cf317"/><path d="M283.7 528.5L294.1 526.7 283.7 518.9 273.3 520.8Z" fill="#b6f215"/><path d="M262.8 522.4L273.3 520.8 262.8 512.5 252.4 514.2Z" fill="#e4f113"/><path d="M241.9 515.8L252.4 514.2 241.8 505.4 231.4 507.1Z" fill="#efc812"/><path d="M220.9 508.6L231.4 507.1 220.8 497.8 210.3 499.4Z" fill="#ee9010"/><path d="M199.8 500.8L210.3 499.4 199.7 489.7 189.2 491.2Z" fill="#ec540f"/><path d="M356.2 548.7L366.5 546.9 356.2 541.2 345.9 543.2Z" fill="#2cf819"/><path d="M335.5 544.9L345.9 543.2 335.5 536.9 325.2 538.8Z" fill="#4cf718"/><path d="M314.8 540.5L325.2 538.8 314.8 532.1 304.5 533.9Z" fill="#6ff517"/><path d="M294.1 535.5L304.5 533.9 294.1 526.7 283.7 528.5Z" fill="#96f415"/><path d="M459 559.1L469.3 557 459 553.8 448.7 556.1Z" fill="#1dfe76" stroke-width="1.08"/><path d="M438.5 558.2L448.7 556.1 438.5 552.4 428.2 554.7Z" fill="#1dfd68" stroke-width="1.16"/><path d="M417.9 556.7L428.2 554.7 417.9 550.5 407.7 552.7Z" fill="#1cfc55" stroke-width="1.24"/><path d="M397.4 554.6L407.7 552.7 397.4 547.9 387.1 550.1Z" fill="#1cfa3f" stroke-width="1.31"/><path d="M376.8 552L387.1 550.1 376.8 544.8 366.5 546.9Z" fill="#1bf925" stroke-width="1.38"/><path d="M273.3 530L283.7 528.5 273.3 520.8 262.8 522.4Z" fill="#c0f214"/><path d="M252.4 523.8L262.8 522.4 252.4 514.2 241.9 515.8Z" fill="#eef113"/><path d="M231.5 517.1L241.9 515.8 231.4 507.1 220.9 508.6Z" fill="#f0bf11"/><path d="M210.5 509.8L220.9 508.6 210.3 499.4 199.8 500.8Z" fill="#ee8610"/><path d="M189.4 502L199.8 500.8 189.2 491.2 178.7 492.4Z" fill="#ed4a0e"/><path d="M448.8 561.1L459 559.1 448.7 556.1 438.5 558.2Z" fill="#1bfe6a" stroke-width="1.01"/><path d="M428.2 560.1L438.5 558.2 428.2 554.7 417.9 556.7Z" fill="#1bfd5b" stroke-width="1.09"/><path d="M407.7 558.6L417.9 556.7 407.7 552.7 397.4 554.6Z" fill="#1afc49" stroke-width="1.17"/><path d="M345.9 550.4L356.2 548.7 345.9 543.2 335.5 544.9Z" fill="#36f818" stroke-width="1.39"/><path d="M325.2 546.5L335.5 544.9 325.2 538.8 314.8 540.5Z" fill="#56f717"/><path d="M304.5 542L314.8 540.5 304.5 533.9 294.1 535.5Z" fill="#7af616"/><path d="M242 525.1L252.4 523.8 241.9 515.8 231.5 517.1Z" fill="#f1e912"/><path d="M221 518.3L231.5 517.1 220.9 508.6 210.5 509.8Z" fill="#f0b410"/><path d="M200 510.9L210.5 509.8 199.8 500.8 189.4 502Z" fill="#ef7b0f"/><path d="M469.3 561.5L479.6 559.5 469.3 557 459 559.1Z" fill="#1bff75" stroke-width="0.92"/><path d="M366.5 553.7L376.8 552 366.5 546.9 356.2 548.7Z" fill="#1afa19" stroke-width="1.32"/><path d="M283.7 536.9L294.1 535.5 283.7 528.5 273.3 530Z" fill="#a1f414"/><path d="M178.8 502.9L189.4 502 178.7 492.4 168.1 493.5Z" fill="#ed3e0e"/><path d="M387.1 556.4L397.4 554.6 387.1 550.1 376.8 552Z" fill="#1afb32" stroke-width="1.25"/><path d="M262.9 531.3L273.3 530 262.8 522.4 252.4 523.8Z" fill="#ccf313"/><path d="M335.5 551.8L345.9 550.4 335.5 544.9 325.2 546.5Z" fill="#42f917" stroke-width="1.33"/><path d="M314.9 547.8L325.2 546.5 314.8 540.5 304.5 542Z" fill="#62f716" stroke-width="1.40"/><path d="M438.6 562.9L448.8 561.1 438.5 558.2 428.2 560.1Z" fill="#19ff5c" stroke-width="0.94"/><path d="M418 561.8L428.2 560.1 417.9 556.7 407.7 558.6Z" fill="#19fd4d" stroke-width="1.02"/><path d="M231.6 526.1L242 525.1 231.5 517.1 221 518.3Z" fill="#f2dc11"/><path d="M210.6 519.2L221 518.3 210.5 509.8 200 510.9Z" fill="#f0a710"/><path d="M459.1 563.3L469.3 561.5 459 559.1 448.8 561.1Z" fill="#19ff67" stroke-width="0.85"/><path d="M356.2 555.2L366.5 553.7 356.2 548.7 345.9 550.4Z" fill="#25fa17" stroke-width="1.26"/><path d="M294.1 543.2L304.5 542 294.1 535.5 283.7 536.9Z" fill="#86f615"/><path d="M189.5 511.7L200 510.9 189.4 502 178.8 502.9Z" fill="#ef6e0e"/><path d="M397.4 560.2L407.7 558.6 397.4 554.6 387.1 556.4Z" fill="#19fc3a" stroke-width="1.10"/><path d="M376.8 558L387.1 556.4 376.8 552 366.5 553.7Z" fill="#18fb24" stroke-width="1.18"/><path d="M273.3 538.1L283.7 536.9 273.3 530 262.9 531.3Z" fill="#aef513"/><path d="M252.5 532.4L262.9 531.3 252.4 523.8 242 525.1Z" fill="#d9f312"/><path d="M479.7 563.2L489.9 561.3 479.6 559.5 469.3 561.5Z" fill="#19ff6e" stroke-width="0.80"/><path d="M168.3 503.6L178.8 502.9 168.1 493.5 157.6 494.4Z" fill="#ee310d"/><path d="M325.2 552.9L335.5 551.8 325.2 546.5 314.9 547.8Z" fill="#50f915" stroke-width="1.26"/><path d="M428.3 564.4L438.6 562.9 428.2 560.1 418 561.8Z" fill="#17ff4c" stroke-width="0.86"/><path d="M221.1 526.8L231.6 526.1 221 518.3 210.6 519.2Z" fill="#f2ce10"/><path d="M490.1 564.2L500.3 562.5 489.9 561.3 479.7 563.2Z" fill="#16ff61" stroke-width="0.80"/><path d="M448.9 564.9L459.1 563.3 448.8 561.1 438.6 562.9Z" fill="#17ff57" stroke-width="0.80"/><path d="M345.9 556.4L356.2 555.2 345.9 550.4 335.5 551.8Z" fill="#33fa16" stroke-width="1.19"/><path d="M304.5 548.9L314.9 547.8 304.5 542 294.1 543.2Z" fill="#70f814" stroke-width="1.33"/><path d="M200.1 519.9L210.6 519.2 200 510.9 189.5 511.7Z" fill="#f1980f"/><path d="M157.8 504.1L168.3 503.6 157.6 494.4 147 495Z" fill="#ee220d"/><path d="M407.7 563.3L418 561.8 407.7 558.6 397.4 560.2Z" fill="#17fe3d" stroke-width="0.95"/><path d="M387.1 561.6L397.4 560.2 387.1 556.4 376.8 558Z" fill="#17fd2a" stroke-width="1.03"/><path d="M366.5 559.3L376.8 558 366.5 553.7 356.2 555.2Z" fill="#19fb17" stroke-width="1.11"/><path d="M283.7 544.3L294.1 543.2 283.7 536.9 273.3 538.1Z" fill="#94f613" stroke-width="1.40"/><path d="M262.9 539L273.3 538.1 262.9 531.3 252.5 532.4Z" fill="#bcf512"/><path d="M242.1 533.2L252.5 532.4 242 525.1 231.6 526.1Z" fill="#e8f411"/><path d="M469.5 564.9L479.7 563.2 469.3 561.5 459.1 563.3Z" fill="#17ff5e" stroke-width="0.80"/><path d="M179 512.3L189.5 511.7 178.8 502.9 168.3 503.6Z" fill="#ef5f0e"/><path d="M479.9 565.7L490.1 564.2 479.7 563.2 469.5 564.9Z" fill="#14ff4f" stroke-width="0.80"/><path d="M438.7 566.3L448.9 564.9 438.6 562.9 428.3 564.4Z" fill="#15ff45" stroke-width="0.80"/><path d="M335.6 557.4L345.9 556.4 335.5 551.8 325.2 552.9Z" fill="#42fb14" stroke-width="1.12"/><path d="M314.9 553.9L325.2 552.9 314.9 547.8 304.5 548.9Z" fill="#5ff914" stroke-width="1.20"/><path d="M210.6 527.4L221.1 526.8 210.6 519.2 200.1 519.9Z" fill="#f3bd0f"/><path d="M168.4 512.7L179 512.3 168.3 503.6 157.8 504.1Z" fill="#f04e0d"/><path d="M418.1 565.7L428.3 564.4 418 561.8 407.7 563.3Z" fill="#15ff3a" stroke-width="0.80"/><path d="M397.5 564.5L407.7 563.3 397.4 560.2 387.1 561.6Z" fill="#15fe2b" stroke-width="0.88"/><path d="M376.9 562.8L387.1 561.6 376.8 558 366.5 559.3Z" fill="#15fd19" stroke-width="0.96"/><path d="M356.2 560.4L366.5 559.3 356.2 555.2 345.9 556.4Z" fill="#28fc15" stroke-width="1.04"/><path d="M294.1 549.8L304.5 548.9 294.1 543.2 283.7 544.3Z" fill="#80f813" stroke-width="1.27"/><path d="M273.4 545.1L283.7 544.3 273.3 538.1 262.9 539Z" fill="#a4f712" stroke-width="1.34"/><path d="M252.5 539.8L262.9 539 252.5 532.4 242.1 533.2Z" fill="#ccf511" stroke-width="1.40"/><path d="M231.6 533.9L242.1 533.2 231.6 526.1 221.1 526.8Z" fill="#f4f010"/><path d="M500.5 564.5L510.7 563 500.3 562.5 490.1 564.2Z" fill="#14ff4e" stroke-width="0.80"/><path d="M459.2 566.3L469.5 564.9 459.1 563.3 448.9 564.9Z" fill="#15ff4c" stroke-width="0.80"/><path d="M189.6 520.3L200.1 519.9 189.5 511.7 179 512.3Z" fill="#f1870e"/><path d="M147.2 504.4L157.8 504.1 147 495 136.5 495.4Z" fill="#ee110c"/><path d="M469.6 567L479.9 565.7 469.5 564.9 459.2 566.3Z" fill="#12ff3b" stroke-width="0.80"/><path d="M179.1 520.6L189.6 520.3 179 512.3 168.4 512.7Z" fill="#f1750d"/><path d="M407.8 566.8L418.1 565.7 407.7 563.3 397.5 564.5Z" fill="#13ff27" stroke-width="0.80"/><path d="M387.2 565.5L397.5 564.5 387.1 561.6 376.9 562.8Z" fill="#14fe18" stroke-width="0.80"/><path d="M366.6 563.7L376.9 562.8 366.5 559.3 356.2 560.4Z" fill="#22fd14" stroke-width="0.89"/><path d="M345.9 561.3L356.2 560.4 345.9 556.4 335.6 557.4Z" fill="#39fc13" stroke-width="0.97"/><path d="M304.5 554.6L314.9 553.9 304.5 548.9 294.1 549.8Z" fill="#70fa12" stroke-width="1.13"/><path d="M283.8 550.4L294.1 549.8 283.7 544.3 273.4 545.1Z" fill="#91f812" stroke-width="1.20"/><path d="M262.9 545.6L273.4 545.1 262.9 539 252.5 539.8Z" fill="#b6f711" stroke-width="1.27"/><path d="M242.1 540.3L252.5 539.8 242.1 533.2 231.6 533.9Z" fill="#dff610" stroke-width="1.34"/><path d="M490.3 565.8L500.5 564.5 490.1 564.2 479.9 565.7Z" fill="#12ff3a" stroke-width="0.80"/><path d="M449 567.5L459.2 566.3 448.9 564.9 438.7 566.3Z" fill="#13ff39" stroke-width="0.80"/><path d="M428.4 567.4L438.7 566.3 428.3 564.4 418.1 565.7Z" fill="#13ff32" stroke-width="0.80"/><path d="M325.2 558.3L335.6 557.4 325.2 552.9 314.9 553.9Z" fill="#53fb13" stroke-width="1.05"/><path d="M221.2 534.3L231.6 533.9 221.1 526.8 210.6 527.4Z" fill="#f4de0f" stroke-width="1.40"/><path d="M200.1 527.7L210.6 527.4 200.1 519.9 189.6 520.3Z" fill="#f3ab0e"/><path d="M157.9 512.8L168.4 512.7 157.8 504.1 147.2 504.4Z" fill="#f03b0d"/><path d="M510.9 564.1L521.1 562.7 510.7 563 500.5 564.5Z" fill="#11ff35" stroke-width="0.80"/><path d="M136.6 504.5L147.2 504.4 136.5 495.4 125.9 495.6Z" fill="#ef0c0c"/><path d="M459.4 568L469.6 567 459.2 566.3 449 567.5Z" fill="#11ff26" stroke-width="0.80"/><path d="M189.6 527.8L200.1 527.7 189.6 520.3 179.1 520.6Z" fill="#f3980e" stroke-width="1.40"/><path d="M397.5 567.6L407.8 566.8 397.5 564.5 387.2 565.5Z" fill="#12ff12" stroke-width="0.80"/><path d="M376.9 566.3L387.2 565.5 376.9 562.8 366.6 563.7Z" fill="#22ff12" stroke-width="0.80"/><path d="M356.3 564.4L366.6 563.7 356.2 560.4 345.9 561.3Z" fill="#35fe12" stroke-width="0.81"/><path d="M294.1 555.1L304.5 554.6 294.1 549.8 283.8 550.4Z" fill="#83fa11" stroke-width="1.06"/><path d="M273.4 550.9L283.8 550.4 273.4 545.1 262.9 545.6Z" fill="#a5f911" stroke-width="1.13"/><path d="M252.5 546L262.9 545.6 252.5 539.8 242.1 540.3Z" fill="#caf710" stroke-width="1.20"/><path d="M521.4 563L531.6 561.8 521.1 562.7 510.9 564.1Z" fill="#0eff15" stroke-width="0.80"/><path d="M480.1 566.9L490.3 565.8 479.9 565.7 469.6 567Z" fill="#10ff24" stroke-width="0.80"/><path d="M418.2 568.3L428.4 567.4 418.1 565.7 407.8 566.8Z" fill="#11ff1c" stroke-width="0.80"/><path d="M231.6 540.5L242.1 540.3 231.6 533.9 221.2 534.3Z" fill="#f3f60f" stroke-width="1.27"/><path d="M168.5 520.6L179.1 520.6 168.4 512.7 157.9 512.8Z" fill="#f2610d"/><path d="M126 504.3L136.6 504.5 125.9 495.6 115.3 495.6Z" fill="#ef0b0b"/><path d="M335.6 561.9L345.9 561.3 335.6 557.4 325.2 558.3Z" fill="#4bfc12" stroke-width="0.90"/><path d="M314.9 558.8L325.2 558.3 314.9 553.9 304.5 554.6Z" fill="#65fb12" stroke-width="0.98"/><path d="M500.7 565.2L510.9 564.1 500.5 564.5 490.3 565.8Z" fill="#0fff1f" stroke-width="0.80"/><path d="M438.8 568.5L449 567.5 438.7 566.3 428.4 567.4Z" fill="#11ff23" stroke-width="0.80"/><path d="M210.7 534.5L221.2 534.3 210.6 527.4 200.1 527.7Z" fill="#f5ca0e" stroke-width="1.34"/><path d="M147.3 512.7L157.9 512.8 147.2 504.4 136.6 504.5Z" fill="#f0270c"/><path d="M387.3 568.3L397.5 567.6 387.2 565.5 376.9 566.3Z" fill="#27ff10" stroke-width="0.80"/><path d="M366.6 566.9L376.9 566.3 366.6 563.7 356.3 564.4Z" fill="#36ff10" stroke-width="0.80"/><path d="M283.8 555.4L294.1 555.1 283.8 550.4 273.4 550.9Z" fill="#98fa10" stroke-width="0.98"/><path d="M262.9 551.1L273.4 550.9 262.9 545.6 252.5 546Z" fill="#baf90f" stroke-width="1.06"/><path d="M511.2 563.9L521.4 563 510.9 564.1 500.7 565.2Z" fill="#1dff0d" stroke-width="0.80"/><path d="M469.9 567.8L480.1 566.9 469.6 567 459.4 568Z" fill="#10ff0e" stroke-width="0.80"/><path d="M449.2 568.8L459.4 568 449 567.5 438.8 568.5Z" fill="#10ff0f" stroke-width="0.80"/><path d="M407.9 569L418.2 568.3 407.8 566.8 397.5 567.6Z" fill="#1bff10" stroke-width="0.80"/><path d="M242.1 546.1L252.5 546 242.1 540.3 231.6 540.5Z" fill="#dff80f" stroke-width="1.13"/><path d="M200.2 534.4L210.7 534.5 200.1 527.7 189.6 527.8Z" fill="#f5b50e" stroke-width="1.27"/><path d="M179.1 527.7L189.6 527.8 179.1 520.6 168.5 520.6Z" fill="#f4820d" stroke-width="1.33"/><path d="M136.7 512.4L147.3 512.7 136.6 504.5 126 504.3Z" fill="#f1110b" stroke-width="1.45"/><path d="M345.9 564.9L356.3 564.4 345.9 561.3 335.6 561.9Z" fill="#49fe10" stroke-width="0.80"/><path d="M304.5 559.2L314.9 558.8 304.5 554.6 294.1 555.1Z" fill="#7afb10" stroke-width="0.91"/><path d="M490.5 566.2L500.7 565.2 490.3 565.8 480.1 566.9Z" fill="#14ff0e" stroke-width="0.80"/><path d="M428.5 569.2L438.8 568.5 428.4 567.4 418.2 568.3Z" fill="#13ff0f" stroke-width="0.80"/><path d="M325.2 562.3L335.6 561.9 325.2 558.3 314.9 558.8Z" fill="#60fd10" stroke-width="0.82"/><path d="M221.2 540.6L231.6 540.5 221.2 534.3 210.7 534.5Z" fill="#f6e40e" stroke-width="1.20"/><path d="M158 520.4L168.5 520.6 157.9 512.8 147.3 512.7Z" fill="#f24b0c" stroke-width="1.39"/><path d="M377 568.6L387.3 568.3 376.9 566.3 366.6 566.9Z" fill="#3dff0f" stroke-width="0.80"/><path d="M273.4 555.5L283.8 555.4 273.4 550.9 262.9 551.1Z" fill="#affb0f" stroke-width="0.91"/><path d="M501.1 564.7L511.2 563.9 500.7 565.2 490.5 566.2Z" fill="#34ff0c" stroke-width="0.80"/><path d="M439 569.4L449.2 568.8 438.8 568.5 428.5 569.2Z" fill="#26ff0d" stroke-width="0.80"/><path d="M397.6 569.5L407.9 569 397.5 567.6 387.3 568.3Z" fill="#31ff0e" stroke-width="0.80"/><path d="M252.5 551L262.9 551.1 252.5 546 242.1 546.1Z" fill="#d1f90e" stroke-width="0.99"/><path d="M210.7 540.4L221.2 540.6 210.7 534.5 200.2 534.4Z" fill="#f7cd0d" stroke-width="1.13"/><path d="M147.4 519.9L158 520.4 147.3 512.7 136.7 512.4Z" fill="#f3340b" stroke-width="1.33"/><path d="M356.3 567.2L366.6 566.9 356.3 564.4 345.9 564.9Z" fill="#4cff0f" stroke-width="0.80"/><path d="M294.1 559.3L304.5 559.2 294.1 555.1 283.8 555.4Z" fill="#91fc0f" stroke-width="0.83"/><path d="M480.3 566.8L490.5 566.2 480.1 566.9 469.9 567.8Z" fill="#2bff0c" stroke-width="0.80"/><path d="M459.6 568.4L469.9 567.8 459.4 568 449.2 568.8Z" fill="#26ff0d" stroke-width="0.80"/><path d="M418.3 569.7L428.5 569.2 418.2 568.3 407.9 569Z" fill="#2aff0e" stroke-width="0.80"/><path d="M335.6 565.2L345.9 564.9 335.6 561.9 325.2 562.3Z" fill="#60fe0f" stroke-width="0.80"/><path d="M314.9 562.5L325.2 562.3 314.9 558.8 304.5 559.2Z" fill="#76fd0f" stroke-width="0.80"/><path d="M231.6 546L242.1 546.1 231.6 540.5 221.2 540.6Z" fill="#f7f80e" stroke-width="1.06"/><path d="M189.7 534.1L200.2 534.4 189.6 527.8 179.1 527.7Z" fill="#f59e0d" stroke-width="1.20"/><path d="M168.6 527.3L179.1 527.7 168.5 520.6 158 520.4Z" fill="#f46a0c" stroke-width="1.27"/><path d="M490.9 565.1L501.1 564.7 490.5 566.2 480.3 566.8Z" fill="#4dff0a" stroke-width="0.80"/><path d="M428.7 569.7L439 569.4 428.5 569.2 418.3 569.7Z" fill="#3fff0c" stroke-width="0.80"/><path d="M387.4 569.7L397.6 569.5 387.3 568.3 377 568.6Z" fill="#4aff0d" stroke-width="0.80"/><path d="M262.9 555.3L273.4 555.5 262.9 551.1 252.5 551Z" fill="#c8fb0d" stroke-width="0.83"/><path d="M221.2 545.6L231.6 546 221.2 540.6 210.7 540.4Z" fill="#f8e00d" stroke-width="0.99"/><path d="M158 526.7L168.6 527.3 158 520.4 147.4 519.9Z" fill="#f4510b" stroke-width="1.20"/><path d="M366.7 568.8L377 568.6 366.6 566.9 356.3 567.2Z" fill="#55ff0d" stroke-width="0.80"/><path d="M283.7 559.2L294.1 559.3 283.8 555.4 273.4 555.5Z" fill="#aafc0e" stroke-width="0.80"/><path d="M449.4 568.8L459.6 568.4 449.2 568.8 439 569.4Z" fill="#3fff0b" stroke-width="0.80"/><path d="M408 570L418.3 569.7 407.9 569 397.6 569.5Z" fill="#42ff0d" stroke-width="0.80"/><path d="M346 567.3L356.3 567.2 345.9 564.9 335.6 565.2Z" fill="#65ff0d" stroke-width="0.80"/><path d="M325.3 565.2L335.6 565.2 325.2 562.3 314.9 562.5Z" fill="#78fe0e" stroke-width="0.80"/><path d="M304.5 562.5L314.9 562.5 304.5 559.2 294.1 559.3Z" fill="#8ffd0e" stroke-width="0.80"/><path d="M242.1 550.8L252.5 551 242.1 546.1 231.6 546Z" fill="#ebfa0d" stroke-width="0.91"/><path d="M200.2 539.9L210.7 540.4 200.2 534.4 189.7 534.1Z" fill="#f7b40c" stroke-width="1.06"/><path d="M470.1 567.3L480.3 566.8 469.9 567.8 459.6 568.4Z" fill="#44ff0b" stroke-width="0.80"/><path d="M179.1 533.6L189.7 534.1 179.1 527.7 168.6 527.3Z" fill="#f6850c" stroke-width="1.13"/><path d="M418.5 569.8L428.7 569.7 418.3 569.7 408 570Z" fill="#59ff0b" stroke-width="0.80"/><path d="M231.6 550.2L242.1 550.8 231.6 546 221.2 545.6Z" fill="#faee0c" stroke-width="0.84"/><path d="M480.7 565.4L490.9 565.1 480.3 566.8 470.1 567.3Z" fill="#68ff09" stroke-width="0.80"/><path d="M439.2 568.9L449.4 568.8 439 569.4 428.7 569.7Z" fill="#5aff0a" stroke-width="0.80"/><path d="M397.8 570L408 570 397.6 569.5 387.4 569.7Z" fill="#5dff0b" stroke-width="0.80"/><path d="M377.1 569.7L387.4 569.7 377 568.6 366.7 568.8Z" fill="#64ff0c" stroke-width="0.80"/><path d="M356.4 568.7L366.7 568.8 356.3 567.2 346 567.3Z" fill="#70ff0c" stroke-width="0.80"/><path d="M335.6 567.1L346 567.3 335.6 565.2 325.3 565.2Z" fill="#7fff0c" stroke-width="0.80"/><path d="M314.9 565L325.3 565.2 314.9 562.5 304.5 562.5Z" fill="#93ff0c" stroke-width="0.80"/><path d="M294.1 562.2L304.5 562.5 294.1 559.3 283.7 559.2Z" fill="#aafd0c" stroke-width="0.80"/><path d="M273.3 558.8L283.7 559.2 273.4 555.5 262.9 555.3Z" fill="#c5fc0c" stroke-width="0.80"/><path d="M252.5 554.8L262.9 555.3 252.5 551 242.1 550.8Z" fill="#e3fb0c" stroke-width="0.80"/><path d="M210.6 545L221.2 545.6 210.7 540.4 200.2 539.9Z" fill="#f9c60c" stroke-width="0.92"/><path d="M168.6 532.9L179.1 533.6 168.6 527.3 158 526.7Z" fill="#f6690b" stroke-width="1.06"/><path d="M459.9 567.5L470.1 567.3 459.6 568.4 449.4 568.8Z" fill="#5fff0a" stroke-width="0.80"/><path d="M189.6 539.3L200.2 539.9 189.7 534.1 179.1 533.6Z" fill="#f7990b" stroke-width="0.99"/><path d="M408.2 569.6L418.5 569.8 408 570 397.8 570Z" fill="#76ff0a" stroke-width="0.80"/><path d="M242 554.1L252.5 554.8 242.1 550.8 231.6 550.2Z" fill="#fbf60b" stroke-width="0.80"/><path d="M470.4 565.4L480.7 565.4 470.1 567.3 459.9 567.5Z" fill="#62c700" stroke-width="0.80"/><path d="M428.9 568.8L439.2 568.9 428.7 569.7 418.5 569.8Z" fill="#77ff09" stroke-width="0.80"/><path d="M346 568.4L356.4 568.7 346 567.3 335.6 567.1Z" fill="#8dff0b" stroke-width="0.80"/><path d="M325.3 566.7L335.6 567.1 325.3 565.2 314.9 565Z" fill="#9cff0b" stroke-width="0.80"/><path d="M304.5 564.5L314.9 565 304.5 562.5 294.1 562.2Z" fill="#b0ff0b" stroke-width="0.80"/><path d="M221.1 549.5L231.6 550.2 221.2 545.6 210.6 545Z" fill="#fad10b" stroke-width="0.80"/><path d="M179.1 538.3L189.6 539.3 179.1 533.6 168.6 532.9Z" fill="#f87c0a" stroke-width="0.92"/><path d="M366.8 569.4L377.1 569.7 366.7 568.8 356.4 568.7Z" fill="#81ff0a" stroke-width="0.80"/><path d="M283.7 561.6L294.1 562.2 283.7 559.2 273.3 558.8Z" fill="#c7fe0b" stroke-width="0.80"/><path d="M449.7 567.4L459.9 567.5 449.4 568.8 439.2 568.9Z" fill="#7cff09" stroke-width="0.80"/><path d="M387.5 569.8L397.8 570 387.4 569.7 377.1 569.7Z" fill="#7aff0a" stroke-width="0.80"/><path d="M262.9 558.2L273.3 558.8 262.9 555.3 252.5 554.8Z" fill="#e2fd0b" stroke-width="0.80"/><path d="M200.1 544.2L210.6 545 200.2 539.9 189.6 539.3Z" fill="#f9a90b" stroke-width="0.84"/><path d="M460.2 565.1L470.4 565.4 459.9 567.5 449.7 567.4Z" fill="#7bc700" stroke-width="0.80"/><path d="M418.7 568.5L428.9 568.8 418.5 569.8 408.2 569.6Z" fill="#96ff08" stroke-width="0.80"/><path d="M397.9 569.2L408.2 569.6 397.8 570 387.5 569.8Z" fill="#95ff09" stroke-width="0.80"/><path d="M356.4 568.9L366.8 569.4 356.4 568.7 346 568.4Z" fill="#a0ff09" stroke-width="0.80"/><path d="M335.7 567.8L346 568.4 335.6 567.1 325.3 566.7Z" fill="#abff0a" stroke-width="0.80"/><path d="M314.9 566.1L325.3 566.7 314.9 565 304.5 564.5Z" fill="#bbff0a" stroke-width="0.80"/><path d="M294.1 563.8L304.5 564.5 294.1 562.2 283.7 561.6Z" fill="#ceff0a" stroke-width="0.80"/><path d="M252.4 557.3L262.9 558.2 252.5 554.8 242 554.1Z" fill="#fdf90a" stroke-width="0.80"/><path d="M231.5 553.2L242 554.1 231.6 550.2 221.1 549.5Z" fill="#fcd80a" stroke-width="0.80"/><path d="M189.6 543.1L200.1 544.2 189.6 539.3 179.1 538.3Z" fill="#f98a0a" stroke-width="0.80"/><path d="M439.4 567.1L449.7 567.4 439.2 568.9 428.9 568.8Z" fill="#74c700" stroke-width="0.80"/><path d="M210.6 548.5L221.1 549.5 210.6 545 200.1 544.2Z" fill="#fab30a" stroke-width="0.80"/><path d="M377.2 569.3L387.5 569.8 377.1 569.7 366.8 569.4Z" fill="#98ff09" stroke-width="0.80"/><path d="M273.3 560.9L283.7 561.6 273.3 558.8 262.9 558.2Z" fill="#e6fe0a" stroke-width="0.80"/><path d="M450 564.7L460.2 565.1 449.7 567.4 439.4 567.1Z" fill="#95c700" stroke-width="0.80"/><path d="M325.3 566.9L335.7 567.8 325.3 566.7 314.9 566.1Z" fill="#ccff09" stroke-width="0.80"/><path d="M200 547.2L210.6 548.5 200.1 544.2 189.6 543.1Z" fill="#fb9209" stroke-width="0.80"/><path d="M429.2 566.6L439.4 567.1 428.9 568.8 418.7 568.5Z" fill="#8ec700" stroke-width="0.80"/><path d="M408.4 567.9L418.7 568.5 408.2 569.6 397.9 569.2Z" fill="#8ac700" stroke-width="0.80"/><path d="M387.6 568.5L397.9 569.2 387.5 569.8 377.2 569.3Z" fill="#b6ff08" stroke-width="0.80"/><path d="M366.8 568.6L377.2 569.3 366.8 569.4 356.4 568.9Z" fill="#b9ff08" stroke-width="0.80"/><path d="M346.1 568.1L356.4 568.9 346 568.4 335.7 567.8Z" fill="#c1ff08" stroke-width="0.80"/><path d="M304.5 565.2L314.9 566.1 304.5 564.5 294.1 563.8Z" fill="#dcff09" stroke-width="0.80"/><path d="M283.7 562.8L294.1 563.8 283.7 561.6 273.3 560.9Z" fill="#efff09" stroke-width="0.80"/><path d="M262.9 559.8L273.3 560.9 262.9 558.2 252.4 557.3Z" fill="#fef609" stroke-width="0.80"/><path d="M242 556.2L252.4 557.3 242 554.1 231.5 553.2Z" fill="#fdd809" stroke-width="0.80"/><path d="M221 552L231.5 553.2 221.1 549.5 210.6 548.5Z" fill="#fcb709" stroke-width="0.80"/><path d="M439.7 563.9L450 564.7 439.4 567.1 429.2 566.6Z" fill="#b1c700" stroke-width="0.80"/><path d="M377.3 567.6L387.6 568.5 377.2 569.3 366.8 568.6Z" fill="#d9ff07" stroke-width="0.80"/><path d="M335.7 567.1L346.1 568.1 335.7 567.8 325.3 566.9Z" fill="#e4ff07" stroke-width="0.80"/><path d="M314.9 565.8L325.3 566.9 314.9 566.1 304.5 565.2Z" fill="#efff08" stroke-width="0.80"/><path d="M273.3 561.6L283.7 562.8 273.3 560.9 262.9 559.8Z" fill="#ffec08" stroke-width="0.80"/><path d="M210.5 550.6L221 552 210.6 548.5 200 547.2Z" fill="#fc9508" stroke-width="0.80"/><path d="M418.9 565.8L429.2 566.6 418.7 568.5 408.4 567.9Z" fill="#aac700" stroke-width="0.80"/><path d="M398.1 567L408.4 567.9 397.9 569.2 387.6 568.5Z" fill="#a6c700" stroke-width="0.80"/><path d="M356.5 567.7L366.8 568.6 356.4 568.9 346.1 568.1Z" fill="#dcff07" stroke-width="0.80"/><path d="M294.1 564L304.5 565.2 294.1 563.8 283.7 562.8Z" fill="#ffff08" stroke-width="0.80"/><path d="M252.4 558.5L262.9 559.8 252.4 557.3 242 556.2Z" fill="#fed308" stroke-width="0.80"/><path d="M231.5 554.9L242 556.2 231.5 553.2 221 552Z" fill="#fdb608" stroke-width="0.80"/><path d="M429.4 562.9L439.7 563.9 429.2 566.6 418.9 565.8Z" fill="#c7c000" stroke-width="0.80"/><path d="M387.8 565.9L398.1 567 387.6 568.5 377.3 567.6Z" fill="#c3c700" stroke-width="0.80"/><path d="M367 566.5L377.3 567.6 366.8 568.6 356.5 567.7Z" fill="#c3c700" stroke-width="0.80"/><path d="M346.2 566.4L356.5 567.7 346.1 568.1 335.7 567.1Z" fill="#ffff06" stroke-width="0.80"/><path d="M325.3 565.8L335.7 567.1 325.3 566.9 314.9 565.8Z" fill="#fffb06" stroke-width="0.80"/><path d="M304.5 564.5L314.9 565.8 304.5 565.2 294.1 564Z" fill="#ffee07" stroke-width="0.80"/><path d="M283.7 562.6L294.1 564 283.7 562.8 273.3 561.6Z" fill="#ffdd07" stroke-width="0.80"/><path d="M262.8 560.1L273.3 561.6 262.9 559.8 252.4 558.5Z" fill="#ffc807" stroke-width="0.80"/><path d="M220.9 553.2L231.5 554.9 221 552 210.5 550.6Z" fill="#fd9107" stroke-width="0.80"/><path d="M408.6 564.7L418.9 565.8 408.4 567.9 398.1 567Z" fill="#c7c700" stroke-width="0.80"/><path d="M241.9 557L252.4 558.5 242 556.2 231.5 554.9Z" fill="#feaf07" stroke-width="0.80"/><path d="M356.6 565.1L367 566.5 356.5 567.7 346.2 566.4Z" fill="#c7ac00" stroke-width="0.80"/><path d="M294.1 562.9L304.5 564.5 294.1 564 283.7 562.6Z" fill="#ffc806" stroke-width="0.80"/><path d="M419.2 561.6L429.4 562.9 418.9 565.8 408.6 564.7Z" fill="#c7a100" stroke-width="0.83"/><path d="M398.3 563.4L408.6 564.7 398.1 567 387.8 565.9Z" fill="#c7a800" stroke-width="0.80"/><path d="M377.4 564.5L387.8 565.9 377.3 567.6 367 566.5Z" fill="#c7ac00" stroke-width="0.80"/><path d="M335.8 565L346.2 566.4 335.7 567.1 325.3 565.8Z" fill="#c7a900" stroke-width="0.80"/><path d="M314.9 564.2L325.3 565.8 314.9 565.8 304.5 564.5Z" fill="#ffd506" stroke-width="0.80"/><path d="M273.2 560.9L283.7 562.6 273.3 561.6 262.8 560.1Z" fill="#ffb606" stroke-width="0.80"/><path d="M252.3 558.4L262.8 560.1 252.4 558.5 241.9 557Z" fill="#ffa106" stroke-width="0.80"/><path d="M231.4 555.2L241.9 557 231.5 554.9 220.9 553.2Z" fill="#ff8807" stroke-width="0.80"/><path d="M408.9 560.1L419.2 561.6 408.6 564.7 398.3 563.4Z" fill="#c78200" stroke-width="0.92"/><path d="M367.1 562.9L377.4 564.5 367 566.5 356.6 565.1Z" fill="#c78c00" stroke-width="0.80"/><path d="M346.2 563.4L356.6 565.1 346.2 566.4 335.8 565Z" fill="#c78c00" stroke-width="0.80"/><path d="M304.5 562.4L314.9 564.2 304.5 564.5 294.1 562.9Z" fill="#c78300" stroke-width="0.80"/><path d="M283.6 561L294.1 562.9 283.7 562.6 273.2 560.9Z" fill="#ff9f05" stroke-width="0.80"/><path d="M241.8 556.4L252.3 558.4 241.9 557 231.4 555.2Z" fill="#ff7906" stroke-width="0.80"/><path d="M388 561.8L398.3 563.4 387.8 565.9 377.4 564.5Z" fill="#c78900" stroke-width="0.83"/><path d="M325.4 563.2L335.8 565 325.3 565.8 314.9 564.2Z" fill="#c78900" stroke-width="0.80"/><path d="M262.7 559L273.2 560.9 262.8 560.1 252.3 558.4Z" fill="#ff8e05" stroke-width="0.80"/><path d="M398.5 558.3L408.9 560.1 398.3 563.4 388 561.8Z" fill="#c76000" stroke-width="1.01"/><path d="M377.6 560L388 561.8 377.4 564.5 367.1 562.9Z" fill="#c76700" stroke-width="0.92"/><path d="M356.7 561L367.1 562.9 356.6 565.1 346.2 563.4Z" fill="#c76b00" stroke-width="0.82"/><path d="M335.8 561.4L346.2 563.4 335.8 565 325.4 563.2Z" fill="#c76b00" stroke-width="0.80"/><path d="M314.9 561.2L325.4 563.2 314.9 564.2 304.5 562.4Z" fill="#c76800" stroke-width="0.80"/><path d="M294 560.4L304.5 562.4 294.1 562.9 283.6 561Z" fill="#c76100" stroke-width="0.80"/><path d="M273.1 558.9L283.6 561 273.2 560.9 262.7 559Z" fill="#c75800" stroke-width="0.80"/><path d="M252.2 556.8L262.7 559 252.3 558.4 241.8 556.4Z" fill="#ff6305" stroke-width="0.80"/><path d="M388.2 556.3L398.5 558.3 388 561.8 377.6 560Z" fill="#c73e00" stroke-width="1.11"/><path d="M325.4 559.2L335.8 561.4 325.4 563.2 314.9 561.2Z" fill="#c74800" stroke-width="0.81"/><path d="M262.6 556.5L273.1 558.9 262.7 559 252.2 556.8Z" fill="#c73500" stroke-width="0.80"/><path d="M367.2 557.9L377.6 560 367.1 562.9 356.7 561Z" fill="#c74500" stroke-width="1.01"/><path d="M346.3 558.9L356.7 561 346.2 563.4 335.8 561.4Z" fill="#c74800" stroke-width="0.91"/><path d="M304.5 558.9L314.9 561.2 304.5 562.4 294 560.4Z" fill="#c74500" stroke-width="0.80"/><path d="M283.6 558L294 560.4 283.6 561 273.1 558.9Z" fill="#c73f00" stroke-width="0.80"/><path d="M377.8 553.9L388.2 556.3 377.6 560 367.2 557.9Z" fill="#c71a00" stroke-width="1.20"/><path d="M335.9 556.4L346.3 558.9 335.8 561.4 325.4 559.2Z" fill="#c72400" stroke-width="1.01"/><path d="M314.9 556.7L325.4 559.2 314.9 561.2 304.5 558.9Z" fill="#c72400" stroke-width="0.91"/><path d="M273 555.4L283.6 558 273.1 558.9 262.6 556.5Z" fill="#c71a00" stroke-width="0.80"/><path d="M356.8 555.5L367.2 557.9 356.7 561 346.3 558.9Z" fill="#c72000" stroke-width="1.10"/><path d="M294 556.4L304.5 558.9 294 560.4 283.6 558Z" fill="#c72100" stroke-width="0.81"/><path d="M367.4 551.3L377.8 553.9 367.2 557.9 356.8 555.5Z" fill="#c70000" stroke-width="1.29"/><path d="M346.4 552.8L356.8 555.5 346.3 558.9 335.9 556.4Z" fill="#c70000" stroke-width="1.19"/><path d="M325.4 553.7L335.9 556.4 325.4 559.2 314.9 556.7Z" fill="#c70000" stroke-width="1.10"/><path d="M304.5 554L314.9 556.7 304.5 558.9 294 556.4Z" fill="#c70000" stroke-width="1.00"/><path d="M283.5 553.6L294 556.4 283.6 558 273 555.4Z" fill="#c70000" stroke-width="0.90"/><path d="M357 548.5L367.4 551.3 356.8 555.5 346.4 552.8Z" fill="#c70000" stroke-width="1.38"/><path d="M294 550.9L304.5 554 294 556.4 283.5 553.6Z" fill="#c70000" stroke-width="1.09"/><path d="M336 549.9L346.4 552.8 335.9 556.4 325.4 553.7Z" fill="#c70000" stroke-width="1.28"/><path d="M315 550.7L325.4 553.7 314.9 556.7 304.5 554Z" fill="#c70000" stroke-width="1.19"/><path d="M346.5 545.3L357 548.5 346.4 552.8 336 549.9Z" fill="#c70000"/><path d="M304.4 547.5L315 550.7 304.5 554 294 550.9Z" fill="#c70000" stroke-width="1.28"/><path d="M325.5 546.7L336 549.9 325.4 553.7 315 550.7Z" fill="#c70000" stroke-width="1.38"/><path d="M336 541.9L346.5 545.3 336 549.9 325.5 546.7Z" fill="#c70000"/><path d="M315 543.2L325.5 546.7 315 550.7 304.4 547.5Z" fill="#c70000"/><path d="M325.5 538.2L336 541.9 325.5 546.7 315 543.2Z" fill="#c70000"/></g>
<path d="M101.6 1097.3L322.5 1027M322.5 1027L542.8 1096.7M99.4 1054.4L322.5 988.4M322.5 988.4L545 1053.7M97.2 1011.5L322.4 949.7M322.4 949.7L547.2 1010.8M94.9 968.6L322.3 911M322.3 911L549.4 967.9M92.7 925.7L322.2 872.4M322.2 872.4L551.6 924.9M90.5 882.8L322.2 833.7M322.2 833.7L553.8 882M145.8 1083.3L136.8 873M190 1069.2L183.2 863.2M234.2 1055.2L229.5 853.4M278.4 1041.1L275.8 843.5M487.8 1079.3L495.9 869.9M432.7 1061.9L438 857.9M377.6 1044.4L380.1 845.8M105.1 1164.9L90.5 882.8M322.7 1087.9L322.2 833.7M539.4 1164.3L553.8 882" stroke="#2a2a2a" stroke-width="1.3" fill="none"/>
<circle cx="101.6" cy="1097.3" r="2.2" fill="#111"/>
<circle cx="99.4" cy="1054.4" r="2.2" fill="#111"/>
<circle cx="97.2" cy="1011.5" r="2.2" fill="#111"/>
<circle cx="94.9" cy="968.6" r="2.2" fill="#111"/>
<circle cx="92.7" cy="925.7" r="2.2" fill="#111"/>
<circle cx="90.5" cy="882.8" r="2.2" fill="#111"/>
<polygon points="322.1,1263.4 105.1,1164.9 322.7,1087.9 539.4,1164.3" fill="#5f5f5f" stroke="#111" stroke-width="1.4" stroke-linejoin="round"/>
<g fill="none" stroke-width="2.6" stroke-linecap="round" opacity="0.85"><path d="M419.1 1219.2 421.8 1217.1 424.5 1215 427.1 1213 429.8 1211 432.6 1209 435.3 1207 438.1 1205 440.6 1203.2 443.6 1201.1 446.4 1199.1 449.3 1197.2 452.1 1195.2 455 1193.3 457.9 1191.4 460.8 1189.5 463.8 1187.6 466.8 1185.8 469.8 1183.9 472.7 1182.1 475.8 1180.2 478.9 1178.4 482 1176.5 485.1 1174.7 488.3 1172.9 491.4 1171.2 494.7 1169.4 497.9 1167.6 501.2 1165.9 504.5 1164.1 507.8 1162.4 510.5 1161.1 513.2 1159.7 515.9 1158.3 518.6 1157" stroke="#00aeff" /><path d="M342.4 1094.9 339.2 1095.8 336 1096.8 332.8 1097.7 329.6 1098.7 326.4 1099.6 323.1 1100.5 319.9 1101.5 316.6 1102.4 313.3 1103.3 310 1104.2 306.9 1105 303.3 1105.9 299.9 1106.8 296.7 1107.6 293.1 1108.5 289.6 1109.4 286.2 1110.2 282.8 1111 279.2 1111.9 275.7 1112.7 272.2 1113.5 268.7 1114.3 265.2 1115.1 262.2 1115.7 258.9 1116.5 255.4 1117.2 251.8 1118 248.1 1118.8 244.5 1119.5 240.9 1120.2 237.2 1121 233.6 1121.7 229.9 1122.4 226.2 1123.2 222.8 1123.8 219.7 1124.4 219.5 1124.4" stroke="#00aeff" /><path d="M362.2 1245.1 364.6 1242.7 367 1240.3 369.3 1238.1 371.6 1235.9 373.9 1233.7 376.2 1231.5 378.5 1229.3 380.8 1227.1 383.1 1224.9 385.5 1222.8 387.8 1220.6 390.2 1218.5 392.6 1216.3 394.9 1214.2 397.3 1212.1 399.8 1210 402.2 1207.9 404.6 1205.8 407.1 1203.7 409.6 1201.6 412 1199.6 414.5 1197.5 417.1 1195.5 419.6 1193.4 422.2 1191.4 424.7 1189.4 427.3 1187.4 430 1185.4 432.6 1183.5 435.3 1181.5 437.9 1179.6 440.7 1177.6 443.4 1175.7 446.2 1173.8 449 1171.9 451.6 1170.1 454.3 1168.4 457 1166.7 459.9 1164.8 462.8 1163 465.8 1161.2 468.8 1159.4 471.9 1157.6 474.8 1156 477.5 1154.5 480.7 1152.7 483.9 1151 487.1 1149.3 490.4 1147.6 491.1 1147.3" stroke="#00ffbe" /><path d="M369.9 1104.6 366.6 1105.5 363.4 1106.5 360.1 1107.4 356.7 1108.4 353.4 1109.3 350.5 1110.1 347.4 1110.9 344 1111.8 341 1112.6 338 1113.3 334.5 1114.2 331 1115.1 327.4 1115.9 324.4 1116.6 321.2 1117.4 317.6 1118.2 314 1119 310.3 1119.8 306.7 1120.6 303 1121.4 299.4 1122.2 296 1122.8 292.8 1123.5 289.5 1124.2 286.3 1124.8 283.2 1125.4 280.1 1126 277 1126.6 274 1127.2 270.9 1127.8 267.9 1128.3 264.9 1128.9 262 1129.4 258.7 1130 254.8 1130.7 250.9 1131.3 247.5 1131.9 244.1 1132.5 240.2 1133.2 236.3 1133.8 232.4 1134.4 228.5 1135.1 225.2 1135.6 221.6 1136.2 218.6 1136.6 215.6 1137.1 212.6 1137.5 209.6 1138 206.7 1138.4 203.7 1138.9 200.7 1139.3 197.7 1139.8 194.7 1140.2 191.7 1140.6 188.7 1141.1 185.6 1141.5 182.6 1141.9 179.6 1142.3 176.6 1142.8 173.5 1143.2 170.5 1143.6 167.5 1144 164.4 1144.4 162.4 1144.6" stroke="#00ffbe" /><path d="M320.4 1262.6 322.4 1260.2 324.3 1257.8 326.3 1255.4 328.2 1253 330.2 1250.7 332.2 1248.3 334.1 1245.9 336.1 1243.6 338 1241.2 340 1238.8 341.9 1236.5 343.9 1234.2 345.8 1231.8 347.7 1229.5 349.7 1227.2 351.6 1224.8 353.6 1222.5 355.5 1220.2 357.4 1217.9 359.3 1215.6 361.6 1212.8 363.7 1210.4 365.9 1207.8 368.1 1205 370.1 1202.6 372.3 1200 374.6 1197.3 376.8 1194.5 379.1 1191.8 381 1189.5 383.1 1186.8 385.4 1184.1 387.5 1181.4 389.7 1178.7 391.8 1176 394 1173.2 396 1170.6 397.9 1168.1 399.8 1165.5 401.6 1163 403.3 1160.5 405.1 1157.7 406.8 1155.1 408.4 1152.1 409.8 1149.3 410.9 1146.2 411.4 1143 410.9 1140 408.8 1137.3 405.8 1135.8 402.6 1134.8 398.7 1134.2 395.3 1133.9 391.6 1133.7 387.7 1133.7 384.6 1133.7 380.6 1133.9 376.9 1134 373.9 1134.2 370.4 1134.4 366.9 1134.7 363.9 1134.9 360.2 1135.2 356.6 1135.5 353 1135.8 349.5 1136.2 345.9 1136.5 342.4 1136.9 339.3 1137.2 335.5 1137.6 332 1137.9 328.6 1138.3 325.6 1138.6 321.8 1139 318.4 1139.4 315 1139.8 311.6 1140.1 308.2 1140.5 304.9 1140.9 301.5 1141.2 298.2 1141.6 295.1 1142 291.5 1142.4 288.2 1142.7 284.8 1143.1 281.5 1143.5 278.4 1143.8 274.9 1144.2 271.6 1144.6 268.2 1144.9 264.9 1145.3 261.6 1145.7 258.3 1146 255.1 1146.4 251.8 1146.8 248.7 1147.1 245.2 1147.5 241.9 1147.8 238.6 1148.2 235.3 1148.6 232 1148.9 228.8 1149.3 225.5 1149.6 222.2 1150 218.9 1150.3 215.7 1150.7 212.4 1151 209.1 1151.3 205.9 1151.7 202.6 1152 199.3 1152.4 196.1 1152.7 192.8 1153 189.5 1153.4 186.3 1153.7 183 1154 179.8 1154.4 176.5 1154.7 173.3 1155 170 1155.3 166.7 1155.6 163.5 1156 160.2 1156.3 157 1156.6 153.7 1156.9 150.5 1157.2 147.2 1157.5 144 1157.8 140.7 1158.1 137.5 1158.4 134.2 1158.7 131 1159 127.7 1159.3 124.5 1159.6 121.2 1159.9 118.5 1160.2" stroke="#00ff2d" /><path d="M300 1253.4 301.9 1250.3 303.6 1247.5 305.2 1244.9 306.7 1242.3 308.3 1239.6 310 1236.5 311.5 1233.8 313.1 1230.9 314.5 1228.1 315.9 1225.2 317.4 1222.1 318.8 1218.9 320.2 1215.7 321.3 1212.6 322.3 1209.7 323.3 1206.5 324 1203.5 324.5 1200.3 324.9 1197.1 324.9 1194 324.4 1190.6 323.5 1187.4 322.1 1184.4 320.2 1181.7 318.1 1179.5 315.6 1177.5 312.7 1175.8 309.5 1174.2 306.5 1173 303.3 1171.9 299.9 1171 296.4 1170.2 293.2 1169.5 290.2 1169 286.9 1168.5 283.6 1168.1 280.1 1167.7 277 1167.4 273.5 1167.2 270.2 1167 266.9 1166.8 263.7 1166.6 260.7 1166.5 257.6 1166.4 253.9 1166.3 250.3 1166.3 246.6 1166.2 243.2 1166.2 239.1 1166.2 236 1166.2 232.9 1166.3 229.7 1166.3 226.5 1166.4 223.3 1166.4 220 1166.5 216.7 1166.6 213.4 1166.7 210.1 1166.8 206.7 1166.9 203.3 1167 200.1 1167.1 196.4 1167.3 192.9 1167.4 189.4 1167.6 185.8 1167.7 182.8 1167.8 179.2 1168 175.5 1168.2 171.9 1168.4 168.3 1168.5 164.7 1168.7 161.1 1168.9 157.6 1169.1 154 1169.3 150.5 1169.4 147.4 1169.6 143.6 1169.8 139.9 1170 136.3 1170.2 132.8 1170.4 129.3 1170.6 125.9 1170.8 122.6 1171 118.9 1171.2" stroke="#64ff00" /><path d="M273.5 1241.3 274.3 1237.9 274.8 1234.9 275.2 1231.9 275.4 1228.8 275.5 1225.7 275.3 1222.4 274.8 1219.3 274 1216.3 273 1213.3 271.4 1210.2 269.6 1207.5 267.5 1205.1 265.3 1202.9 262.8 1200.9 260 1199 256.8 1197.2 254.1 1195.9 251.2 1194.7 248.1 1193.5 244.8 1192.4 241.4 1191.4 237.7 1190.4 234.2 1189.6 230.8 1188.9 227.7 1188.4 224.5 1187.8 221.2 1187.3 217.8 1186.8 214.5 1186.4 210.8 1186 207.3 1185.7 203.8 1185.3 200.8 1185.1 197.2 1184.8 194.2 1184.6 190.9 1184.4 187.8 1184.3 184.8 1184.1 180.4 1183.9 177.3 1183.8 173.3 1183.7 170.1 1183.6 165.9 1183.5 162.9 1183.4 159.8 1183.3 156.8 1183.3 153.7 1183.3 150.6 1183.2 147.4 1183.2 145.4 1183.2" stroke="#f6ff00" /></g>
<circle cx="365.5" cy="1243.6" r="1.8" fill="#000"/>
<circle cx="409" cy="1223.7" r="1.8" fill="#000"/>
<circle cx="452.5" cy="1203.9" r="1.8" fill="#000"/>
<circle cx="495.9" cy="1184.1" r="1.8" fill="#000"/>
<circle cx="267.8" cy="1238.8" r="1.8" fill="#000"/>
<circle cx="213.6" cy="1214.1" r="1.8" fill="#000"/>
<circle cx="159.4" cy="1189.5" r="1.8" fill="#000"/>
<circle cx="322.1" cy="1263.4" r="2" fill="#000"/>
<circle cx="105.1" cy="1164.9" r="2" fill="#000"/>
<circle cx="322.7" cy="1087.9" r="2" fill="#000"/>
<circle cx="539.4" cy="1164.3" r="2" fill="#000"/>
<g stroke="#1a1a1a" stroke-width="1.45" stroke-linejoin="round"><path d="M322.4 981.2L333.6 978.9 322.5 986.2 311.3 988.6Z" fill="#003ec7" stroke-width="0.93"/><path d="M333.6 974.9L344.8 972.5 333.6 978.9 322.4 981.2Z" fill="#0079c7" stroke-width="0.80"/><path d="M311.2 983.4L322.4 981.2 311.3 988.6 300.1 990.7Z" fill="#0044c7" stroke-width="0.98"/><path d="M344.8 969.7L356.1 967.3 344.8 972.5 333.6 974.9Z" fill="#00acc7" stroke-width="0.80"/><path d="M322.4 977.1L333.6 974.9 322.4 981.2 311.2 983.4Z" fill="#007fc7" stroke-width="0.80"/><path d="M300 985.3L311.2 983.4 300.1 990.7 289 992.6Z" fill="#004cc7" stroke-width="1.03"/><path d="M356.1 965.5L367.3 963 356.1 967.3 344.8 969.7Z" fill="#00c7b4" stroke-width="0.80"/><path d="M333.6 971.8L344.8 969.7 333.6 974.9 322.4 977.1Z" fill="#00b2c7" stroke-width="0.80"/><path d="M311.2 979L322.4 977.1 311.2 983.4 300 985.3Z" fill="#0086c7" stroke-width="0.85"/><path d="M288.8 986.9L300 985.3 289 992.6 277.8 994.2Z" fill="#0055c7" stroke-width="1.08"/><path d="M344.8 967.7L356.1 965.5 344.8 969.7 333.6 971.8Z" fill="#00c7af" stroke-width="0.80"/><path d="M322.3 973.8L333.6 971.8 322.4 977.1 311.2 979Z" fill="#00b9c7" stroke-width="0.80"/><path d="M299.9 980.6L311.2 979 300 985.3 288.8 986.9Z" fill="#008ec7" stroke-width="0.90"/><path d="M367.4 962.3L378.7 959.8 367.3 963 356.1 965.5Z" fill="#13ffc2" stroke-width="0.80"/><path d="M277.6 988.2L288.8 986.9 277.8 994.2 266.6 995.5Z" fill="#005fc7" stroke-width="1.13"/><path d="M333.6 969.6L344.8 967.7 333.6 971.8 322.3 973.8Z" fill="#00c7a8" stroke-width="0.80"/><path d="M311.1 975.4L322.3 973.8 311.2 979 299.9 980.6Z" fill="#00c2c7" stroke-width="0.80"/><path d="M378.7 960.3L390 957.7 378.7 959.8 367.4 962.3Z" fill="#17ff9b" stroke-width="0.80"/><path d="M356.1 964.6L367.4 962.3 356.1 965.5 344.8 967.7Z" fill="#1fb" stroke-width="0.80"/><path d="M288.7 982L299.9 980.6 288.8 986.9 277.6 988.2Z" fill="#0099c7" stroke-width="0.95"/><path d="M266.3 989.3L277.6 988.2 266.6 995.5 255.3 996.6Z" fill="#006ac7" stroke-width="1.18"/><path d="M390.1 959.3L401.3 956.7 390 957.7 378.7 960.3Z" fill="#1bff7e" stroke-width="0.80"/><path d="M367.4 962.5L378.7 960.3 367.4 962.3 356.1 964.6Z" fill="#15ff94" stroke-width="0.80"/><path d="M344.9 966.5L356.1 964.6 344.8 967.7 333.6 969.6Z" fill="#10ffb1" stroke-width="0.80"/><path d="M322.3 971.3L333.6 969.6 322.3 973.8 311.1 975.4Z" fill="#00c79f" stroke-width="0.80"/><path d="M299.8 976.8L311.1 975.4 299.9 980.6 288.7 982Z" fill="#00c7c2" stroke-width="0.80"/><path d="M277.4 983.1L288.7 982 277.6 988.2 266.3 989.3Z" fill="#00a4c7" stroke-width="1.00"/><path d="M255.1 990.1L266.3 989.3 255.3 996.6 244.1 997.4Z" fill="#0077c7" stroke-width="1.24"/><path d="M401.4 959.5L412.7 956.9 401.3 956.7 390.1 959.3Z" fill="#1fff6a" stroke-width="0.80"/><path d="M378.8 961.6L390.1 959.3 378.7 960.3 367.4 962.5Z" fill="#19ff77" stroke-width="0.80"/><path d="M356.2 964.6L367.4 962.5 356.1 964.6 344.9 966.5Z" fill="#13ff8b" stroke-width="0.80"/><path d="M333.6 968.2L344.9 966.5 333.6 969.6 322.3 971.3Z" fill="#0fffa6" stroke-width="0.80"/><path d="M311 972.7L322.3 971.3 311.1 975.4 299.8 976.8Z" fill="#00c795" stroke-width="0.80"/><path d="M288.6 977.9L299.8 976.8 288.7 982 277.4 983.1Z" fill="#00c7b7" stroke-width="0.81"/><path d="M266.1 983.9L277.4 983.1 266.3 989.3 255.1 990.1Z" fill="#00b1c7" stroke-width="1.06"/><path d="M243.8 990.6L255.1 990.1 244.1 997.4 232.8 997.9Z" fill="#0086c7" stroke-width="1.29"/><path d="M412.7 960.8L424 958.1 412.7 956.9 401.4 959.5Z" fill="#22ff5d" stroke-width="0.81"/><path d="M390.1 961.9L401.4 959.5 390.1 959.3 378.8 961.6Z" fill="#1cff62" stroke-width="0.80"/><path d="M367.5 963.7L378.8 961.6 367.4 962.5 356.2 964.6Z" fill="#17ff6d" stroke-width="0.80"/><path d="M344.9 966.3L356.2 964.6 344.9 966.5 333.6 968.2Z" fill="#12ff80" stroke-width="0.80"/><path d="M322.3 969.7L333.6 968.2 322.3 971.3 311 972.7Z" fill="#0dff99" stroke-width="0.80"/><path d="M299.8 973.8L311 972.7 299.8 976.8 288.6 977.9Z" fill="#00c78a" stroke-width="0.80"/><path d="M277.3 978.7L288.6 977.9 277.4 983.1 266.1 983.9Z" fill="#00c7aa" stroke-width="0.86"/><path d="M254.8 984.4L266.1 983.9 255.1 990.1 243.8 990.6Z" fill="#00bfc7" stroke-width="1.11"/><path d="M232.5 990.9L243.8 990.6 232.8 997.9 221.6 998.1Z" fill="#0096c7" stroke-width="1.35"/><path d="M401.4 963.3L412.7 960.8 401.4 959.5 390.1 961.9Z" fill="#1fff55" stroke-width="0.80"/><path d="M378.8 964L390.1 961.9 378.8 961.6 367.5 963.7Z" fill="#1aff58" stroke-width="0.80"/><path d="M356.2 965.5L367.5 963.7 356.2 964.6 344.9 966.3Z" fill="#15ff62" stroke-width="0.80"/><path d="M288.4 974.7L299.8 973.8 288.6 977.9 277.3 978.7Z" fill="#00c77d" stroke-width="0.80"/><path d="M266 979.3L277.3 978.7 266.1 983.9 254.8 984.4Z" fill="#00c79c" stroke-width="0.92"/><path d="M243.5 984.7L254.8 984.4 243.8 990.6 232.5 990.9Z" fill="#00c7bf" stroke-width="1.17"/><path d="M424 963.3L435.3 960.6 424 958.1 412.7 960.8Z" fill="#23ff57" stroke-width="1.05"/><path d="M333.6 967.8L344.9 966.3 333.6 968.2 322.3 969.7Z" fill="#10ff73" stroke-width="0.80"/><path d="M311 970.8L322.3 969.7 311 972.7 299.8 973.8Z" fill="#0cff8b" stroke-width="0.80"/><path d="M221.2 990.8L232.5 990.9 221.6 998.1 210.3 998.1Z" fill="#00a7c7" stroke-width="1.40"/><path d="M390.1 965.4L401.4 963.3 390.1 961.9 378.8 964Z" fill="#1dff4b" stroke-width="0.80"/><path d="M367.5 965.8L378.8 964 367.5 963.7 356.2 965.5Z" fill="#18ff4d" stroke-width="0.80"/><path d="M277.1 975.2L288.4 974.7 277.3 978.7 266 979.3Z" fill="#00c76f" stroke-width="0.80"/><path d="M254.6 979.5L266 979.3 254.8 984.4 243.5 984.7Z" fill="#00c78c" stroke-width="0.97"/><path d="M435.3 967L446.6 964.2 435.3 960.6 424 963.3Z" fill="#24fd56" stroke-width="1.28"/><path d="M412.7 965.8L424 963.3 412.7 960.8 401.4 963.3Z" fill="#21ff4f" stroke-width="1.01"/><path d="M344.9 967L356.2 965.5 344.9 966.3 333.6 967.8Z" fill="#13ff55" stroke-width="0.80"/><path d="M322.3 969L333.6 967.8 322.3 969.7 311 970.8Z" fill="#0fff64" stroke-width="0.80"/><path d="M299.7 971.7L311 970.8 299.8 973.8 288.4 974.7Z" fill="#00c757" stroke-width="0.80"/><path d="M232.2 984.6L243.5 984.7 232.5 990.9 221.2 990.8Z" fill="#00c7ae" stroke-width="1.22"/><path d="M209.9 990.5L221.2 990.8 210.3 998.1 198.9 997.8Z" fill="#00b9c7"/><path d="M378.8 967.3L390.1 965.4 378.8 964 367.5 965.8Z" fill="#1aff40" stroke-width="0.80"/><path d="M265.8 975.5L277.1 975.2 266 979.3 254.6 979.5Z" fill="#00c760" stroke-width="0.80"/><path d="M401.4 968.1L412.7 965.8 401.4 963.3 390.1 965.4Z" fill="#1eff45" stroke-width="0.97"/><path d="M356.2 967.4L367.5 965.8 356.2 965.5 344.9 967Z" fill="#16ff40" stroke-width="0.80"/><path d="M333.6 968.3L344.9 967 333.6 967.8 322.3 969Z" fill="#12ff47" stroke-width="0.80"/><path d="M311 969.9L322.3 969 311 970.8 299.7 971.7Z" fill="#0eff54" stroke-width="0.80"/><path d="M288.4 972.3L299.7 971.7 288.4 974.7 277.1 975.2Z" fill="#00c749" stroke-width="0.80"/><path d="M243.3 979.5L254.6 979.5 243.5 984.7 232.2 984.6Z" fill="#00c77b" stroke-width="1.02"/><path d="M446.5 971.9L457.8 969 446.6 964.2 435.3 967Z" fill="#22fb5c"/><path d="M424 969.6L435.3 967 424 963.3 412.7 965.8Z" fill="#21fd4f" stroke-width="1.25"/><path d="M220.8 984.3L232.2 984.6 221.2 990.8 209.9 990.5Z" fill="#00c79b" stroke-width="1.28"/><path d="M198.5 989.9L209.9 990.5 198.9 997.8 187.6 997.1Z" fill="#00c7c1"/><path d="M457.7 978L469 975 457.8 969 446.5 971.9Z" fill="#1ff868"/><path d="M435.3 974.5L446.5 971.9 435.3 967 424 969.6Z" fill="#1ffa55"/><path d="M412.7 971.9L424 969.6 412.7 965.8 401.4 968.1Z" fill="#1efd45" stroke-width="1.21"/><path d="M390.2 970L401.4 968.1 390.1 965.4 378.8 967.3Z" fill="#1bff3a" stroke-width="0.93"/><path d="M367.5 969L378.8 967.3 367.5 965.8 356.2 967.4Z" fill="#18ff33" stroke-width="0.80"/><path d="M344.9 968.7L356.2 967.4 344.9 967 333.6 968.3Z" fill="#14ff32" stroke-width="0.80"/><path d="M322.3 969.2L333.6 968.3 322.3 969 311 969.9Z" fill="#10ff36" stroke-width="0.80"/><path d="M299.6 970.5L311 969.9 299.7 971.7 288.4 972.3Z" fill="#0cff41" stroke-width="0.80"/><path d="M277 972.6L288.4 972.3 277.1 975.2 265.8 975.5Z" fill="#00c73a" stroke-width="0.80"/><path d="M254.4 975.5L265.8 975.5 254.6 979.5 243.3 979.5Z" fill="#00c74f" stroke-width="0.81"/><path d="M231.9 979.2L243.3 979.5 232.2 984.6 220.8 984.3Z" fill="#00c769" stroke-width="1.08"/><path d="M209.5 983.7L220.8 984.3 209.9 990.5 198.5 989.9Z" fill="#00c788" stroke-width="1.33"/><path d="M187.1 989L198.5 989.9 187.6 997.1 176.2 996.2Z" fill="#00c7ab"/><path d="M356.2 970.3L367.5 969 356.2 967.4 344.9 968.7Z" fill="#16ff25" stroke-width="0.80"/><path d="M333.6 969.7L344.9 968.7 333.6 968.3 322.3 969.2Z" fill="#12ff21" stroke-width="0.80"/><path d="M310.9 969.9L322.3 969.2 311 969.9 299.6 970.5Z" fill="#0eff24" stroke-width="0.80"/><path d="M288.3 970.9L299.6 970.5 288.4 972.3 277 972.6Z" fill="#0bff2d" stroke-width="0.80"/><path d="M468.9 985.3L480.1 982.2 469 975 457.7 978Z" fill="#1cf57a"/><path d="M446.5 980.7L457.7 978 446.5 971.9 435.3 974.5Z" fill="#1df761"/><path d="M424 976.9L435.3 974.5 424 969.6 412.7 971.9Z" fill="#1dfa4c" stroke-width="1.44"/><path d="M401.4 973.9L412.7 971.9 401.4 968.1 390.2 970Z" fill="#1bfd3b" stroke-width="1.17"/><path d="M378.9 971.7L390.2 970 378.8 967.3 367.5 969Z" fill="#19ff2d" stroke-width="0.89"/><path d="M265.6 972.7L277 972.6 265.8 975.5 254.4 975.5Z" fill="#00c729" stroke-width="0.80"/><path d="M243.1 975.2L254.4 975.5 243.3 979.5 231.9 979.2Z" fill="#00c73d" stroke-width="0.87"/><path d="M220.5 978.6L231.9 979.2 220.8 984.3 209.5 983.7Z" fill="#00c755" stroke-width="1.14"/><path d="M198.1 982.8L209.5 983.7 198.5 989.9 187.1 989Z" fill="#00c772" stroke-width="1.39"/><path d="M175.7 987.7L187.1 989 176.2 996.2 164.8 995Z" fill="#00c794"/><path d="M457.6 988.1L468.9 985.3 457.7 978 446.5 980.7Z" fill="#19f474"/><path d="M435.2 983.2L446.5 980.7 435.3 974.5 424 976.9Z" fill="#1af758"/><path d="M412.7 979L424 976.9 412.7 971.9 401.4 973.9Z" fill="#1afa41" stroke-width="1.40"/><path d="M344.9 971.4L356.2 970.3 344.9 968.7 333.6 969.7Z" fill="#14ff14" stroke-width="0.80"/><path d="M322.2 970.4L333.6 969.7 322.3 969.2 310.9 969.9Z" fill="#12ff10" stroke-width="0.80"/><path d="M299.6 970.3L310.9 969.9 299.6 970.5 288.3 970.9Z" fill="#0dff10" stroke-width="0.80"/><path d="M231.7 974.6L243.1 975.2 231.9 979.2 220.5 978.6Z" fill="#00c729" stroke-width="0.92"/><path d="M209.1 977.7L220.5 978.6 209.5 983.7 198.1 982.8Z" fill="#00c740" stroke-width="1.19"/><path d="M186.6 981.6L198.1 982.8 187.1 989 175.7 987.7Z" fill="#00c75c" stroke-width="1.45"/><path d="M480 993.9L491.2 990.7 480.1 982.2 468.9 985.3Z" fill="#17f193"/><path d="M367.6 973.1L378.9 971.7 367.5 969 356.2 970.3Z" fill="#17ff1f" stroke-width="0.85"/><path d="M276.9 970.9L288.3 970.9 277 972.6 265.6 972.7Z" fill="#0aff17" stroke-width="0.80"/><path d="M164.2 986.2L175.7 987.7 164.8 995 153.4 993.5Z" fill="#00c77c"/><path d="M390.2 975.7L401.4 973.9 390.2 970 378.9 971.7Z" fill="#19fd2e" stroke-width="1.13"/><path d="M254.3 972.4L265.6 972.7 254.4 975.5 243.1 975.2Z" fill="#00c717" stroke-width="0.80"/><path d="M333.6 972.2L344.9 971.4 333.6 969.7 322.2 970.4Z" fill="#22ff12" stroke-width="0.80"/><path d="M310.9 970.9L322.2 970.4 310.9 969.9 299.6 970.3Z" fill="#23ff0f" stroke-width="0.80"/><path d="M446.4 990.7L457.6 988.1 446.5 980.7 435.2 983.2Z" fill="#17f46c"/><path d="M423.9 985.4L435.2 983.2 424 976.9 412.7 979Z" fill="#18f74e"/><path d="M220.2 973.8L231.7 974.6 220.5 978.6 209.1 977.7Z" fill="#00c714" stroke-width="0.98"/><path d="M197.7 976.5L209.1 977.7 198.1 982.8 186.6 981.6Z" fill="#00c729" stroke-width="1.25"/><path d="M468.7 996.8L480 993.9 468.9 985.3 457.6 988.1Z" fill="#16f18d"/><path d="M356.2 974.3L367.6 973.1 356.2 970.3 344.9 971.4Z" fill="#1bff15" stroke-width="0.80"/><path d="M288.2 970.4L299.6 970.3 288.3 970.9 276.9 970.9Z" fill="#1eff0c" stroke-width="0.80"/><path d="M175.1 980L186.6 981.6 175.7 987.7 164.2 986.2Z" fill="#00c744"/><path d="M401.4 980.9L412.7 979 401.4 973.9 390.2 975.7Z" fill="#18fa35" stroke-width="1.36"/><path d="M378.9 977.2L390.2 975.7 378.9 971.7 367.6 973.1Z" fill="#17fc20" stroke-width="1.09"/><path d="M265.5 970.7L276.9 970.9 265.6 972.7 254.3 972.4Z" fill="#13ff09" stroke-width="0.80"/><path d="M242.9 971.8L254.3 972.4 243.1 975.2 231.7 974.6Z" fill="#00c704" stroke-width="0.80"/><path d="M490.9 1003.8L502.2 1000.5 491.2 990.7 480 993.9Z" fill="#13eeb4"/><path d="M152.7 984.4L164.2 986.2 153.4 993.5 141.9 991.7Z" fill="#00c763"/><path d="M322.2 972.6L333.6 972.2 322.2 970.4 310.9 970.9Z" fill="#32ff10" stroke-width="0.80"/><path d="M435.1 993L446.4 990.7 435.2 983.2 423.9 985.4Z" fill="#15f462"/><path d="M208.8 972.6L220.2 973.8 209.1 977.7 197.7 976.5Z" fill="#02c700" stroke-width="1.04"/><path d="M501.9 1014.9L513.1 1011.5 502.2 1000.5 490.9 1003.8Z" fill="#10ebdc"/><path d="M457.5 999.5L468.7 996.8 457.6 988.1 446.4 990.7Z" fill="#14f186"/><path d="M344.9 975.1L356.2 974.3 344.9 971.4 333.6 972.2Z" fill="#28ff13" stroke-width="0.80"/><path d="M299.5 971L310.9 970.9 299.6 970.3 288.2 970.4Z" fill="#36ff0d" stroke-width="0.80"/><path d="M186.2 975L197.7 976.5 186.6 981.6 175.1 980Z" fill="#00c711" stroke-width="1.31"/><path d="M141.2 982.2L152.7 984.4 141.9 991.7 130.4 989.5Z" fill="#00c748"/><path d="M412.7 987.3L423.9 985.4 412.7 979 401.4 980.9Z" fill="#16f743"/><path d="M390.2 982.4L401.4 980.9 390.2 975.7 378.9 977.2Z" fill="#16fa27" stroke-width="1.32"/><path d="M367.6 978.4L378.9 977.2 367.6 973.1 356.2 974.3Z" fill="#19fc15" stroke-width="1.05"/><path d="M276.8 970.2L288.2 970.4 276.9 970.9 265.5 970.7Z" fill="#33ff0b" stroke-width="0.80"/><path d="M254.1 970.2L265.5 970.7 254.3 972.4 242.9 971.8Z" fill="#1bc700" stroke-width="0.80"/><path d="M231.4 971L242.9 971.8 231.7 974.6 220.2 973.8Z" fill="#11c700" stroke-width="0.80"/><path d="M479.7 1006.8L490.9 1003.8 480 993.9 468.7 996.8Z" fill="#12eeae"/><path d="M163.6 978.2L175.1 980 164.2 986.2 152.7 984.4Z" fill="#00c72a"/><path d="M490.7 1018.1L501.9 1014.9 490.9 1003.8 479.7 1006.8Z" fill="#0eead7"/><path d="M446.3 1001.9L457.5 999.5 446.4 990.7 435.1 993Z" fill="#12f07d"/><path d="M333.6 975.6L344.9 975.1 333.6 972.2 322.2 972.6Z" fill="#38fe11" stroke-width="0.80"/><path d="M310.9 972.8L322.2 972.6 310.9 970.9 299.5 971Z" fill="#44ff0e" stroke-width="0.80"/><path d="M197.3 971.1L208.8 972.6 197.7 976.5 186.2 975Z" fill="#1ac700" stroke-width="1.09"/><path d="M152.1 976.1L163.6 978.2 152.7 984.4 141.2 982.2Z" fill="#00c70f"/><path d="M423.9 995L435.1 993 423.9 985.4 412.7 987.3Z" fill="#13f457"/><path d="M401.4 988.9L412.7 987.3 401.4 980.9 390.2 982.4Z" fill="#14f635"/><path d="M378.9 983.7L390.2 982.4 378.9 977.2 367.6 978.4Z" fill="#14f918" stroke-width="1.28"/><path d="M356.2 979.3L367.6 978.4 356.2 974.3 344.9 975.1Z" fill="#27fc13" stroke-width="1.00"/><path d="M288.1 970.9L299.5 971 288.2 970.4 276.8 970.2Z" fill="#4aff0c" stroke-width="0.80"/><path d="M265.4 969.7L276.8 970.2 265.5 970.7 254.1 970.2Z" fill="#4bff09" stroke-width="0.80"/><path d="M242.7 969.3L254.1 970.2 242.9 971.8 231.4 971Z" fill="#30c700" stroke-width="0.80"/><path d="M220 969.8L231.4 971 220.2 973.8 208.8 972.6Z" fill="#28c700" stroke-width="0.81"/><path d="M512.7 1027.4L523.8 1023.9 513.1 1011.5 501.9 1014.9Z" fill="#0cc4e8"/><path d="M468.5 1009.6L479.7 1006.8 468.7 996.8 457.5 999.5Z" fill="#10eda7"/><path d="M174.7 973.2L186.2 975 175.1 980 163.6 978.2Z" fill="#08c700" stroke-width="1.36"/><path d="M129.6 979.8L141.2 982.2 130.4 989.5 118.8 987.1Z" fill="#00c72b"/><path d="M479.5 1020.9L490.7 1018.1 479.7 1006.8 468.5 1009.6Z" fill="#0dead0"/><path d="M163.1 971L174.7 973.2 163.6 978.2 152.1 976.1Z" fill="#23c700" stroke-width="1.42"/><path d="M412.6 996.7L423.9 995 412.7 987.3 401.4 988.9Z" fill="#12f34a"/><path d="M390.1 990.3L401.4 988.9 390.2 982.4 378.9 983.7Z" fill="#12f626"/><path d="M367.6 984.7L378.9 983.7 367.6 978.4 356.2 979.3Z" fill="#1df912" stroke-width="1.24"/><path d="M344.9 979.9L356.2 979.3 344.9 975.1 333.6 975.6Z" fill="#37fc11" stroke-width="0.96"/><path d="M299.5 972.7L310.9 972.8 299.5 971 288.1 970.9Z" fill="#59ff0d" stroke-width="0.80"/><path d="M276.7 970.4L288.1 970.9 276.8 970.2 265.4 969.7Z" fill="#61ff0b" stroke-width="0.80"/><path d="M254 968.9L265.4 969.7 254.1 970.2 242.7 969.3Z" fill="#64ff08" stroke-width="0.80"/><path d="M231.2 968.2L242.7 969.3 231.4 971 220 969.8Z" fill="#46c700" stroke-width="0.80"/><path d="M501.5 1030.7L512.7 1027.4 501.9 1014.9 490.7 1018.1Z" fill="#0bc8e7"/><path d="M457.3 1012L468.5 1009.6 457.5 999.5 446.3 1001.9Z" fill="#0fed9f"/><path d="M435 1004L446.3 1001.9 435.1 993 423.9 995Z" fill="#10f072"/><path d="M322.2 975.9L333.6 975.6 322.2 972.6 310.9 972.8Z" fill="#4afe0f" stroke-width="0.80"/><path d="M208.5 968.3L220 969.8 208.8 972.6 197.3 971.1Z" fill="#3fc700" stroke-width="0.87"/><path d="M185.8 969.3L197.3 971.1 186.2 975 174.7 973.2Z" fill="#33c700" stroke-width="1.15"/><path d="M140.5 973.6L152.1 976.1 141.2 982.2 129.6 979.8Z" fill="#0dc700"/><path d="M523.4 1041.2L534.5 1037.5 523.8 1023.9 512.7 1027.4Z" fill="#0a87e5"/><path d="M118 977L129.6 979.8 118.8 987.1 107.2 984.3Z" fill="#00c70e"/><path d="M468.3 1023.5L479.5 1020.9 468.5 1009.6 457.3 1012Z" fill="#0ceac8"/><path d="M174.2 967.1L185.8 969.3 174.7 973.2 163.1 971Z" fill="#4ec700" stroke-width="1.21"/><path d="M401.4 998.1L412.6 996.7 401.4 988.9 390.1 990.3Z" fill="#10f33b"/><path d="M378.8 991.3L390.1 990.3 378.9 983.7 367.6 984.7Z" fill="#10f615"/><path d="M356.2 985.4L367.6 984.7 356.2 979.3 344.9 979.9Z" fill="#2cf910" stroke-width="1.20"/><path d="M288.1 972.3L299.5 972.7 288.1 970.9 276.7 970.4Z" fill="#6fff0c" stroke-width="0.80"/><path d="M265.3 969.6L276.7 970.4 265.4 969.7 254 968.9Z" fill="#7aff09" stroke-width="0.80"/><path d="M242.5 967.8L254 968.9 242.7 969.3 231.2 968.2Z" fill="#7fff07" stroke-width="0.80"/><path d="M534 1056.3L545.1 1052.5 534.5 1037.5 523.4 1041.2Z" fill="#0844e2"/><path d="M490.3 1033.6L501.5 1030.7 490.7 1018.1 479.5 1020.9Z" fill="#0bcee7"/><path d="M423.8 1005.8L435 1004 423.9 995 412.6 996.7Z" fill="#0ff066"/><path d="M219.7 966.7L231.2 968.2 220 969.8 208.5 968.3Z" fill="#5ec700" stroke-width="0.80"/><path d="M151.5 968.6L163.1 971 152.1 976.1 140.5 973.6Z" fill="#3fc700"/><path d="M106.4 973.9L118 977 107.2 984.3 95.6 981.2Z" fill="#12c700"/><path d="M333.6 980.2L344.9 979.9 333.6 975.6 322.2 975.9Z" fill="#48fb0f" stroke-width="0.91"/><path d="M310.9 975.9L322.2 975.9 310.9 972.8 299.5 972.7Z" fill="#5efe0d" stroke-width="0.80"/><path d="M512.2 1044.6L523.4 1041.2 512.7 1027.4 501.5 1030.7Z" fill="#098be4"/><path d="M446.1 1014.2L457.3 1012 446.3 1001.9 435 1004Z" fill="#0eed94"/><path d="M197 966.5L208.5 968.3 197.3 971.1 185.8 969.3Z" fill="#59c700" stroke-width="0.93"/><path d="M128.9 970.8L140.5 973.6 129.6 979.8 118 977Z" fill="#2bc700"/><path d="M390.1 999.3L401.4 998.1 390.1 990.3 378.8 991.3Z" fill="#0ef32b"/><path d="M367.6 992.1L378.8 991.3 367.6 984.7 356.2 985.4Z" fill="#1af60f" stroke-width="1.42"/><path d="M276.7 971.6L288.1 972.3 276.7 970.4 265.3 969.6Z" fill="#88ff0a" stroke-width="0.80"/><path d="M253.9 968.6L265.3 969.6 254 968.9 242.5 967.8Z" fill="#95ff08" stroke-width="0.80"/><path d="M522.9 1059.9L534 1056.3 523.4 1041.2 512.2 1044.6Z" fill="#0748e2"/><path d="M479.2 1036.3L490.3 1033.6 479.5 1020.9 468.3 1023.5Z" fill="#0ad5e7"/><path d="M457.1 1025.8L468.3 1023.5 457.3 1012 446.1 1014.2Z" fill="#0beabe"/><path d="M412.5 1007.3L423.8 1005.8 412.6 996.7 401.4 998.1Z" fill="#0ef058"/><path d="M231 966.4L242.5 967.8 231.2 968.2 219.7 966.7Z" fill="#9dff07" stroke-width="0.80"/><path d="M185.4 964.4L197 966.5 185.8 969.3 174.2 967.1Z" fill="#73c700" stroke-width="0.98"/><path d="M162.6 964.7L174.2 967.1 163.1 971 151.5 968.6Z" fill="#6ac700" stroke-width="1.27"/><path d="M117.3 967.7L128.9 970.8 118 977 106.4 973.9Z" fill="#4ac700"/><path d="M344.9 985.7L356.2 985.4 344.9 979.9 333.6 980.2Z" fill="#3ef80e" stroke-width="1.15"/><path d="M299.5 975.5L310.9 975.9 299.5 972.7 288.1 972.3Z" fill="#75fd0c" stroke-width="0.80"/><path d="M501.1 1047.7L512.2 1044.6 501.5 1030.7 490.3 1033.6Z" fill="#0891e4"/><path d="M434.9 1016.2L446.1 1014.2 435 1004 423.8 1005.8Z" fill="#0ced88"/><path d="M322.2 980.2L333.6 980.2 322.2 975.9 310.9 975.9Z" fill="#5cfb0d" stroke-width="0.86"/><path d="M208.2 965L219.7 966.7 208.5 968.3 197 966.5Z" fill="#77c700" stroke-width="0.80"/><path d="M139.9 965.8L151.5 968.6 140.5 973.6 128.9 970.8Z" fill="#5cc700"/><path d="M378.8 1000.1L390.1 999.3 378.8 991.3 367.6 992.1Z" fill="#0df219"/><path d="M265.2 970.6L276.7 971.6 265.3 969.6 253.9 968.6Z" fill="#a2ff09" stroke-width="0.80"/><path d="M511.8 1063.1L522.9 1059.9 512.2 1044.6 501.1 1047.7Z" fill="#064de1"/><path d="M445.9 1027.9L457.1 1025.8 446.1 1014.2 434.9 1016.2Z" fill="#0ae9b2"/><path d="M401.3 1008.5L412.5 1007.3 401.4 998.1 390.1 999.3Z" fill="#0cef48"/><path d="M242.4 967.2L253.9 968.6 242.5 967.8 231 966.4Z" fill="#b2ff07" stroke-width="0.80"/><path d="M196.7 962.9L208.2 965 197 966.5 185.4 964.4Z" fill="#92c700" stroke-width="0.80"/><path d="M128.3 962.7L139.9 965.8 128.9 970.8 117.3 967.7Z" fill="#7bc700"/><path d="M356.2 992.6L367.6 992.1 356.2 985.4 344.9 985.7Z" fill="#2bf50d" stroke-width="1.38"/><path d="M288.1 974.8L299.5 975.5 288.1 972.3 276.7 971.6Z" fill="#8dfd0b" stroke-width="0.80"/><path d="M490 1050.5L501.1 1047.7 490.3 1033.6 479.2 1036.3Z" fill="#0898e4"/><path d="M468 1038.8L479.2 1036.3 468.3 1023.5 457.1 1025.8Z" fill="#09dfe7"/><path d="M423.7 1017.8L434.9 1016.2 423.8 1005.8 412.5 1007.3Z" fill="#0bec7b"/><path d="M333.6 985.8L344.9 985.7 333.6 980.2 322.2 980.2Z" fill="#51f80d" stroke-width="1.10"/><path d="M310.8 979.9L322.2 980.2 310.9 975.9 299.5 975.5Z" fill="#71fb0c" stroke-width="0.81"/><path d="M219.5 964.6L231 966.4 219.7 966.7 208.2 965Z" fill="#bcff06" stroke-width="0.80"/><path d="M173.8 962L185.4 964.4 174.2 967.1 162.6 964.7Z" fill="#8fc700" stroke-width="1.04"/><path d="M151 961.9L162.6 964.7 151.5 968.6 139.9 965.8Z" fill="#88c700" stroke-width="1.32"/><path d="M500.7 1066.1L511.8 1063.1 501.1 1047.7 490 1050.5Z" fill="#0654e1"/><path d="M434.7 1029.6L445.9 1027.9 434.9 1016.2 423.7 1017.8Z" fill="#09e9a5"/><path d="M390 1009.5L401.3 1008.5 390.1 999.3 378.8 1000.1Z" fill="#0bef37"/><path d="M253.8 969.3L265.2 970.6 253.9 968.6 242.4 967.2Z" fill="#beff08" stroke-width="0.80"/><path d="M208 962.6L219.5 964.6 208.2 965 196.7 962.9Z" fill="#a9c700" stroke-width="0.80"/><path d="M139.4 958.8L151 961.9 139.9 965.8 128.3 962.7Z" fill="#a7c700" stroke-width="1.38"/><path d="M367.5 1000.7L378.8 1000.1 367.6 992.1 356.2 992.6Z" fill="#11f20c"/><path d="M276.6 973.9L288.1 974.8 276.7 971.6 265.2 970.6Z" fill="#a6fd09" stroke-width="0.80"/><path d="M456.9 1040.9L468 1038.8 457.1 1025.8 445.9 1027.9Z" fill="#08e6e4"/><path d="M412.5 1019.1L423.7 1017.8 412.5 1007.3 401.3 1008.5Z" fill="#0aec6c"/><path d="M344.9 992.7L356.2 992.6 344.9 985.7 333.6 985.8Z" fill="#3ef50c" stroke-width="1.33"/><path d="M322.2 985.6L333.6 985.8 322.2 980.2 310.8 979.9Z" fill="#66f80b" stroke-width="1.06"/><path d="M299.5 979.3L310.8 979.9 299.5 975.5 288.1 974.8Z" fill="#89fa0b" stroke-width="0.80"/><path d="M230.9 965.5L242.4 967.2 231 966.4 219.5 964.6Z" fill="#d1ff07" stroke-width="0.80"/><path d="M185.1 960.5L196.7 962.9 185.4 964.4 173.8 962Z" fill="#adc700" stroke-width="0.80"/><path d="M478.9 1053.1L490 1050.5 479.2 1036.3 468 1038.8Z" fill="#07a1e4"/><path d="M162.2 959.2L173.8 962 162.6 964.7 151 961.9Z" fill="#acc700" stroke-width="1.10"/><path d="M423.5 1031L434.7 1029.6 423.7 1017.8 412.5 1019.1Z" fill="#08e997"/><path d="M219.4 963.5L230.9 965.5 219.5 964.6 208 962.6Z" fill="#f1ff06" stroke-width="0.80"/><path d="M489.6 1068.7L500.7 1066.1 490 1050.5 478.9 1053.1Z" fill="#055de1"/><path d="M445.7 1042.7L456.9 1040.9 445.9 1027.9 434.7 1029.6Z" fill="#07e6d7"/><path d="M401.2 1020.2L412.5 1019.1 401.3 1008.5 390 1009.5Z" fill="#09ec5b"/><path d="M378.8 1010.1L390 1009.5 378.8 1000.1 367.5 1000.7Z" fill="#0aef24"/><path d="M356.2 1000.9L367.5 1000.7 356.2 992.6 344.9 992.7Z" fill="#24f20a"/><path d="M333.6 992.6L344.9 992.7 333.6 985.8 322.2 985.6Z" fill="#53f50a" stroke-width="1.29"/><path d="M310.8 985.1L322.2 985.6 310.8 979.9 299.5 979.3Z" fill="#7ef70a" stroke-width="1.01"/><path d="M288 978.4L299.5 979.3 288.1 974.8 276.6 973.9Z" fill="#a3fa09" stroke-width="0.80"/><path d="M265.2 972.6L276.6 973.9 265.2 970.6 253.8 969.3Z" fill="#c2fc08" stroke-width="0.80"/><path d="M242.3 967.6L253.8 969.3 242.4 967.2 230.9 965.5Z" fill="#ddff07" stroke-width="0.80"/><path d="M196.4 960.2L208 962.6 196.7 962.9 185.1 960.5Z" fill="#c5c700" stroke-width="0.80"/><path d="M150.6 956.1L162.2 959.2 151 961.9 139.4 958.8Z" fill="#c7c300" stroke-width="1.16"/><path d="M467.7 1055.3L478.9 1053.1 468 1038.8 456.9 1040.9Z" fill="#06abe3"/><path d="M173.5 957.7L185.1 960.5 173.8 962 162.2 959.2Z" fill="#c7c300" stroke-width="0.86"/><path d="M412.3 1032.2L423.5 1031 412.5 1019.1 401.2 1020.2Z" fill="#07e986"/><path d="M230.8 965.6L242.3 967.6 230.9 965.5 219.4 963.5Z" fill="#fdfe06" stroke-width="0.80"/><path d="M478.5 1071.1L489.6 1068.7 478.9 1053.1 467.7 1055.3Z" fill="#0567e1"/><path d="M434.5 1044.3L445.7 1042.7 434.7 1029.6 423.5 1031Z" fill="#07e6c9"/><path d="M344.9 1000.9L356.2 1000.9 344.9 992.7 333.6 992.6Z" fill="#39f209"/><path d="M322.2 992.1L333.6 992.6 322.2 985.6 310.8 985.1Z" fill="#6af409" stroke-width="1.24"/><path d="M299.4 984.2L310.8 985.1 299.5 979.3 288 978.4Z" fill="#97f709" stroke-width="0.96"/><path d="M207.8 961.1L219.4 963.5 208 962.6 196.4 960.2Z" fill="#ffec05" stroke-width="0.80"/><path d="M161.8 954.7L173.5 957.7 162.2 959.2 150.6 956.1Z" fill="#c7a500" stroke-width="0.92"/><path d="M367.5 1010.5L378.8 1010.1 367.5 1000.7 356.2 1000.9Z" fill="#09ef0f"/><path d="M276.6 977.2L288 978.4 276.6 973.9 265.2 972.6Z" fill="#befa08" stroke-width="0.80"/><path d="M456.6 1057.3L467.7 1055.3 456.9 1040.9 445.7 1042.7Z" fill="#06b7e3"/><path d="M390 1020.9L401.2 1020.2 390 1009.5 378.8 1010.1Z" fill="#08ec48"/><path d="M253.7 971L265.2 972.6 253.8 969.3 242.3 967.6Z" fill="#e0fc07" stroke-width="0.80"/><path d="M184.8 957.5L196.4 960.2 185.1 960.5 173.5 957.7Z" fill="#c7ac00" stroke-width="0.80"/><path d="M467.4 1073.2L478.5 1071.1 467.7 1055.3 456.6 1057.3Z" fill="#0473e1"/><path d="M423.4 1045.5L434.5 1044.3 423.5 1031 412.3 1032.2Z" fill="#06e6b9"/><path d="M401.1 1033L412.3 1032.2 401.2 1020.2 390 1020.9Z" fill="#07e974"/><path d="M356.2 1010.5L367.5 1010.5 356.2 1000.9 344.9 1000.9Z" fill="#17ee08"/><path d="M333.6 1000.5L344.9 1000.9 333.6 992.6 322.2 992.1Z" fill="#4ff108"/><path d="M310.8 991.4L322.2 992.1 310.8 985.1 299.4 984.2Z" fill="#83f408" stroke-width="1.19"/><path d="M288 983.1L299.4 984.2 288 978.4 276.6 977.2Z" fill="#b2f708" stroke-width="0.91"/><path d="M242.2 969.1L253.7 971 242.3 967.6 230.8 965.6Z" fill="#fcf806" stroke-width="0.80"/><path d="M219.2 963.4L230.8 965.6 219.4 963.5 207.8 961.1Z" fill="#fedd05" stroke-width="0.80"/><path d="M173.2 954.5L184.8 957.5 173.5 957.7 161.8 954.7Z" fill="#c78d00" stroke-width="0.80"/><path d="M445.5 1058.9L456.6 1057.3 445.7 1042.7 434.5 1044.3Z" fill="#05c5e3"/><path d="M196.2 958.5L207.8 961.1 196.4 960.2 184.8 957.5Z" fill="#ffc704" stroke-width="0.80"/><path d="M378.7 1021.3L390 1020.9 378.8 1010.1 367.5 1010.5Z" fill="#07eb34"/><path d="M265.1 975.7L276.6 977.2 265.2 972.6 253.7 971Z" fill="#dbf907" stroke-width="0.80"/><path d="M456.3 1075L467.4 1073.2 456.6 1057.3 445.5 1058.9Z" fill="#0480e0"/><path d="M322.2 999.8L333.6 1000.5 322.2 992.1 310.8 991.4Z" fill="#68f107" stroke-width="1.42"/><path d="M184.5 955.5L196.2 958.5 184.8 957.5 173.2 954.5Z" fill="#ffa104" stroke-width="0.80"/><path d="M434.3 1060.3L445.5 1058.9 434.5 1044.3 423.4 1045.5Z" fill="#05d4e3"/><path d="M412.2 1046.5L423.4 1045.5 412.3 1032.2 401.1 1033Z" fill="#05e6a7"/><path d="M389.9 1033.5L401.1 1033 390 1020.9 378.7 1021.3Z" fill="#06e861"/><path d="M367.5 1021.4L378.7 1021.3 367.5 1010.5 356.2 1010.5Z" fill="#07eb1f"/><path d="M344.9 1010.2L356.2 1010.5 344.9 1000.9 333.6 1000.5Z" fill="#2eee07"/><path d="M299.4 990.3L310.8 991.4 299.4 984.2 288 983.1Z" fill="#9ef407" stroke-width="1.14"/><path d="M276.6 981.6L288 983.1 276.6 977.2 265.1 975.7Z" fill="#cef607" stroke-width="0.86"/><path d="M253.6 973.8L265.1 975.7 253.7 971 242.2 969.1Z" fill="#f9f806" stroke-width="0.80"/><path d="M230.6 966.8L242.2 969.1 230.8 965.6 219.2 963.4Z" fill="#fbd606" stroke-width="0.80"/><path d="M207.6 960.7L219.2 963.4 207.8 961.1 196.2 958.5Z" fill="#feb805" stroke-width="0.80"/><path d="M445.2 1076.5L456.3 1075 445.5 1058.9 434.3 1060.3Z" fill="#048fe0"/><path d="M378.7 1033.7L389.9 1033.5 378.7 1021.3 367.5 1021.4Z" fill="#05e84b"/><path d="M333.6 1009.6L344.9 1010.2 333.6 1000.5 322.2 999.8Z" fill="#46ee06"/><path d="M310.8 998.8L322.2 999.8 310.8 991.4 299.4 990.3Z" fill="#82f106" stroke-width="1.37"/><path d="M265.1 979.8L276.6 981.6 265.1 975.7 253.6 973.8Z" fill="#edf606" stroke-width="0.80"/><path d="M196 957.8L207.6 960.7 196.2 958.5 184.5 955.5Z" fill="#fd9204" stroke-width="0.80"/><path d="M423.2 1061.4L434.3 1060.3 423.4 1045.5 412.2 1046.5Z" fill="#04e3e0"/><path d="M401 1047.1L412.2 1046.5 401.1 1033 389.9 1033.5Z" fill="#05e594"/><path d="M356.2 1021.2L367.5 1021.4 356.2 1010.5 344.9 1010.2Z" fill="#06eb07"/><path d="M288 988.9L299.4 990.3 288 983.1 276.6 981.6Z" fill="#baf306" stroke-width="1.09"/><path d="M242.1 971.6L253.6 973.8 242.2 969.1 230.6 966.8Z" fill="#f9d606" stroke-width="0.80"/><path d="M219.1 964.2L230.6 966.8 219.2 963.4 207.6 960.7Z" fill="#fbb105" stroke-width="0.80"/><path d="M434.1 1077.6L445.2 1076.5 434.3 1060.3 423.2 1061.4Z" fill="#03a0e0"/><path d="M389.8 1047.4L401 1047.1 389.9 1033.5 378.7 1033.7Z" fill="#04e57f"/><path d="M367.4 1033.6L378.7 1033.7 367.5 1021.4 356.2 1021.2Z" fill="#05e834"/><path d="M344.9 1020.7L356.2 1021.2 344.9 1010.2 333.6 1009.6Z" fill="#1ceb05"/><path d="M322.2 1008.7L333.6 1009.6 322.2 999.8 310.8 998.8Z" fill="#5fed06"/><path d="M299.4 997.5L310.8 998.8 299.4 990.3 288 988.9Z" fill="#9ef006" stroke-width="1.32"/><path d="M276.6 987.1L288 988.9 276.6 981.6 265.1 979.8Z" fill="#d8f306" stroke-width="1.04"/><path d="M253.6 977.7L265.1 979.8 253.6 973.8 242.1 971.6Z" fill="#f6de05" stroke-width="0.80"/><path d="M207.5 961.3L219.1 964.2 207.6 960.7 196 957.8Z" fill="#fb8c04" stroke-width="0.80"/><path d="M412 1062.1L423.2 1061.4 412.2 1046.5 401 1047.1Z" fill="#04e3ce"/><path d="M230.6 969.1L242.1 971.6 230.6 966.8 219.1 964.2Z" fill="#f8b205" stroke-width="0.80"/><path d="M356.2 1033.2L367.4 1033.6 356.2 1021.2 344.9 1020.7Z" fill="#04e81c"/><path d="M288 995.8L299.4 997.5 288 988.9 276.6 987.1Z" fill="#bcf005" stroke-width="1.27"/><path d="M423 1078.5L434.1 1077.6 423.2 1061.4 412 1062.1Z" fill="#03b2e0"/><path d="M400.9 1062.5L412 1062.1 401 1047.1 389.8 1047.4Z" fill="#03e2b9"/><path d="M378.6 1047.4L389.8 1047.4 378.7 1033.7 367.4 1033.6Z" fill="#04e568"/><path d="M333.6 1019.9L344.9 1020.7 333.6 1009.6 322.2 1008.7Z" fill="#36ea05"/><path d="M310.9 1007.4L322.2 1008.7 310.8 998.8 299.4 997.5Z" fill="#7bed05"/><path d="M265.1 985.1L276.6 987.1 265.1 979.8 253.6 977.7Z" fill="#f3ed05" stroke-width="0.99"/><path d="M242.1 975.2L253.6 977.7 242.1 971.6 230.6 969.1Z" fill="#f5bb05" stroke-width="0.80"/><path d="M219 966.2L230.6 969.1 219.1 964.2 207.5 961.3Z" fill="#f88d04" stroke-width="0.80"/><path d="M411.9 1079.1L423 1078.5 412 1062.1 400.9 1062.5Z" fill="#03c6e0"/><path d="M367.4 1047.1L378.6 1047.4 367.4 1033.6 356.2 1033.2Z" fill="#03e550"/><path d="M344.9 1032.5L356.2 1033.2 344.9 1020.7 333.6 1019.9Z" fill="#06e704"/><path d="M299.5 1005.8L310.9 1007.4 299.4 997.5 288 995.8Z" fill="#98ed04"/><path d="M276.6 993.8L288 995.8 276.6 987.1 265.1 985.1Z" fill="#dbf004" stroke-width="1.22"/><path d="M230.5 972.4L242.1 975.2 230.6 969.1 219 966.2Z" fill="#f59604" stroke-width="0.80"/><path d="M389.7 1062.7L400.9 1062.5 389.8 1047.4 378.6 1047.4Z" fill="#03e2a3"/><path d="M322.2 1018.7L333.6 1019.9 322.2 1008.7 310.9 1007.4Z" fill="#51ea04"/><path d="M253.6 982.7L265.1 985.1 253.6 977.7 242.1 975.2Z" fill="#f2cb04" stroke-width="0.94"/><path d="M400.7 1079.3L411.9 1079.1 400.9 1062.5 389.7 1062.7Z" fill="#02dbe0"/><path d="M378.5 1062.5L389.7 1062.7 378.6 1047.4 367.4 1047.1Z" fill="#03e28b"/><path d="M356.1 1046.5L367.4 1047.1 356.2 1033.2 344.9 1032.5Z" fill="#03e437"/><path d="M333.6 1031.4L344.9 1032.5 333.6 1019.9 322.2 1018.7Z" fill="#21e703"/><path d="M310.9 1017.2L322.2 1018.7 310.9 1007.4 299.5 1005.8Z" fill="#6eea04"/><path d="M288 1003.9L299.5 1005.8 288 995.8 276.6 993.8Z" fill="#b8ed04" stroke-width="1.43"/><path d="M265.1 991.5L276.6 993.8 265.1 985.1 253.6 982.7Z" fill="#efe204" stroke-width="1.17"/><path d="M242 979.9L253.6 982.7 242.1 975.2 230.5 972.4Z" fill="#f2a704" stroke-width="0.88"/><path d="M389.6 1079.2L400.7 1079.3 389.7 1062.7 378.5 1062.5Z" fill="#02dfcd"/><path d="M322.2 1030L333.6 1031.4 322.2 1018.7 310.9 1017.2Z" fill="#3de703"/><path d="M253.6 988.8L265.1 991.5 253.6 982.7 242 979.9Z" fill="#efbf03" stroke-width="1.11"/><path d="M367.3 1061.9L378.5 1062.5 367.4 1047.1 356.1 1046.5Z" fill="#02e272"/><path d="M344.8 1045.5L356.1 1046.5 344.9 1032.5 333.6 1031.4Z" fill="#03e41c"/><path d="M299.5 1015.4L310.9 1017.2 299.5 1005.8 288 1003.9Z" fill="#8dea03"/><path d="M276.6 1001.7L288 1003.9 276.6 993.8 265.1 991.5Z" fill="#d8ec03" stroke-width="1.38"/><path d="M378.4 1078.8L389.6 1079.2 378.5 1062.5 367.3 1061.9Z" fill="#02dfb4"/><path d="M333.5 1044.2L344.8 1045.5 333.6 1031.4 322.2 1030Z" fill="#06e402"/><path d="M310.9 1028.3L322.2 1030 310.9 1017.2 299.5 1015.4Z" fill="#5ce703"/><path d="M265.1 999.1L276.6 1001.7 265.1 991.5 253.6 988.8Z" fill="#ecdd03" stroke-width="1.33"/><path d="M356.1 1061.1L367.3 1061.9 356.1 1046.5 344.8 1045.5Z" fill="#02e257"/><path d="M288.1 1013.2L299.5 1015.4 288 1003.9 276.6 1001.7Z" fill="#ade903"/><path d="M367.2 1078L378.4 1078.8 367.3 1061.9 356.1 1061.1Z" fill="#02df9a"/><path d="M344.8 1059.9L356.1 1061.1 344.8 1045.5 333.5 1044.2Z" fill="#02e13b"/><path d="M322.2 1042.6L333.5 1044.2 322.2 1030 310.9 1028.3Z" fill="#24e402"/><path d="M299.5 1026.2L310.9 1028.3 299.5 1015.4 288.1 1013.2Z" fill="#7be602"/><path d="M276.6 1010.7L288.1 1013.2 276.6 1001.7 265.1 999.1Z" fill="#cfe902"/><path d="M356 1077L367.2 1078 356.1 1061.1 344.8 1059.9Z" fill="#02df7e"/><path d="M288.1 1023.8L299.5 1026.2 288.1 1013.2 276.6 1010.7Z" fill="#9de602"/><path d="M333.5 1058.3L344.8 1059.9 333.5 1044.2 322.2 1042.6Z" fill="#02e11d"/><path d="M310.9 1040.6L322.2 1042.6 310.9 1028.3 299.5 1026.2Z" fill="#43e402"/><path d="M344.8 1075.6L356 1077 344.8 1059.9 333.5 1058.3Z" fill="#01df60"/><path d="M299.5 1038.3L310.9 1040.6 299.5 1026.2 288.1 1023.8Z" fill="#65e402"/><path d="M322.2 1056.5L333.5 1058.3 322.2 1042.6 310.9 1040.6Z" fill="#05e102"/><path d="M333.5 1073.8L344.8 1075.6 333.5 1058.3 322.2 1056.5Z" fill="#01df41"/><path d="M310.9 1054.3L322.2 1056.5 310.9 1040.6 299.5 1038.3Z" fill="#26e101"/><path d="M322.2 1071.7L333.5 1073.8 322.2 1056.5 310.9 1054.3Z" fill="#01df21"/></g>
<path d="M117.2 1566.9L337.3 1496M337.3 1496L556.5 1566.5M115.1 1523.7L337.3 1456.9M337.3 1456.9L558.7 1523.1M112.9 1480.4L337.3 1417.7M337.3 1417.7L560.9 1479.7M110.8 1437.2L337.3 1378.6M337.3 1378.6L563.1 1436.4M108.7 1394L337.3 1339.5M337.3 1339.5L565.3 1393M106.5 1350.7L337.3 1300.3M337.3 1300.3L567.5 1349.6M172.2 1549.2L164.2 1338.1M227.3 1531.5L221.9 1325.5M282.3 1513.8L279.6 1312.9M501.7 1548.9L510 1337.3M446.9 1531.2L452.4 1325M392.1 1513.6L394.9 1312.6M120.6 1634.6L106.5 1350.7M337.3 1557.2L337.3 1300.3M553.1 1634.3L567.5 1349.6" stroke="#2a2a2a" stroke-width="1.3" fill="none"/>
<circle cx="117.2" cy="1566.9" r="2.2" fill="#111"/>
<circle cx="115.1" cy="1523.7" r="2.2" fill="#111"/>
<circle cx="112.9" cy="1480.4" r="2.2" fill="#111"/>
<circle cx="110.8" cy="1437.2" r="2.2" fill="#111"/>
<circle cx="108.7" cy="1394" r="2.2" fill="#111"/>
<circle cx="106.5" cy="1350.7" r="2.2" fill="#111"/>
<polygon points="336.8,1734.3 120.6,1634.6 337.3,1557.2 553.1,1634.3" fill="#5f5f5f" stroke="#111" stroke-width="1.4" stroke-linejoin="round"/>
<g fill="none" stroke-width="2.6" stroke-linecap="round" opacity="0.85"><path d="M377 1715.7 378.9 1713.1 380.8 1710.7 382.8 1708.3 384.8 1706 387 1703.7 389.2 1701.5 391.4 1699.4 394 1697.1 396.5 1695 399.1 1692.9 401.8 1690.9 404.5 1689 407.5 1687 410.5 1685.1 413.6 1683.3 416.5 1681.6 419.5 1680.1 422.2 1678.7 424.9 1677.3 427.8 1676 430.7 1674.7 433.7 1673.4 436.7 1672.2 439.8 1671 443 1669.8 446.2 1668.6 449.5 1667.5 452.8 1666.3 456.2 1665.2 459.6 1664.1 463.1 1663.1 466.2 1662.2 469.4 1661.2 473 1660.2 476.6 1659.2 479.5 1658.5 482.8 1657.6 485.8 1656.8 489 1656 492.9 1655.1 495.8 1654.4 498.8 1653.7 501.7 1653 504.7 1652.3 507.7 1651.7 510.8 1651 513.8 1650.3 516.9 1649.7 520 1649 522.2 1648.6" stroke="#00ffe1" /><path d="M268.6 1581.7 266.3 1584.1 263.9 1586.4 261.4 1588.6 259.1 1590.6 256.5 1592.6 254 1594.5 251.5 1596.2 248.9 1597.9 246.2 1599.6 243.4 1601.3 240.5 1602.9 237.5 1604.4 234.4 1606 231.2 1607.5 227.9 1608.9 224.5 1610.3 221.7 1611.4 218.8 1612.5 215.9 1613.5 212.9 1614.5 209.9 1615.5 206.7 1616.4 203.6 1617.4 200.3 1618.3 197 1619.1 193.7 1620 190.2 1620.8 186.8 1621.6 183.2 1622.4 180.2 1623 177 1623.7 173.3 1624.4 169.9 1625 166.8 1625.6 163.7 1626.1 160.7 1626.6 157.2 1627.1 153.4 1627.7 149.5 1628.3 146.5 1628.7 143.5 1629.1 140.4 1629.5 137.4 1629.9 134.4 1630.3 131.7 1630.6" stroke="#00ffe1" /><path d="M347 1729.6 348 1726.4 349.1 1723.4 350.4 1720.1 351.5 1717.2 352.8 1714.4 354.3 1711.3 355.6 1708.6 357.3 1705.5 359.1 1702.5 360.7 1700 362.8 1697 364.6 1694.7 366.5 1692.3 368.5 1690 370.6 1687.8 372.9 1685.6 375.3 1683.5 377.8 1681.4 380.5 1679.4 383.2 1677.5 386.1 1675.6 389.2 1673.7 392.4 1672 395.7 1670.3 398.5 1668.9 401.3 1667.7 404.3 1666.4 407.3 1665.2 410.2 1664.1 413.6 1662.9 416.9 1661.7 420.2 1660.7 423.7 1659.6 427.2 1658.6 430.7 1657.6 434.4 1656.6 438.1 1655.6 441.8 1654.7 445.6 1653.8 448.8 1653 452.5 1652.2 455.4 1651.5 458.4 1650.9 461.4 1650.3 464.5 1649.6 467.6 1649 470.7 1648.4 473.8 1647.8 476.9 1647.2 480.1 1646.6 483.3 1646 486.5 1645.5 489.7 1644.9 492.9 1644.3 496.1 1643.8 499.5 1643.2 502.5 1642.7 506.1 1642.1 509.4 1641.5 512.7 1640.9 516.1 1640.4 519.4 1639.9 522.8 1639.3 526.2 1638.8 529.6 1638.2 532.9 1637.7 536.4 1637.1 539.8 1636.6 543.2 1636.1 546.5 1635.6 550.1 1635 552.3 1634.7" stroke="#00ff5a" /><path d="M300 1570.5 298.7 1573.4 297.4 1576.2 295.8 1579.3 294.4 1582 292.8 1584.6 291.1 1587.2 289.4 1589.8 287.5 1592.2 285.4 1594.8 283.3 1597.3 281.2 1599.5 279 1601.7 276.4 1604 273.6 1606.3 271.2 1608.1 268.6 1609.9 265.9 1611.6 263 1613.3 260.1 1614.9 257 1616.4 253.7 1617.9 250.3 1619.4 247.5 1620.5 244.6 1621.6 241.6 1622.6 238.5 1623.6 235.3 1624.6 232.1 1625.5 229 1626.4 225.4 1627.3 221.9 1628.1 218.4 1628.9 214.8 1629.7 211.1 1630.5 207.4 1631.2 203.6 1631.8 199.7 1632.5 195.8 1633.1 192.8 1633.6 189.8 1634 186.8 1634.4 183.8 1634.9 180.7 1635.3 177.6 1635.6 174.5 1636 171.3 1636.4 168.2 1636.7 165 1637.1 161.8 1637.4 158.6 1637.7 155.3 1638 152.1 1638.3 148.8 1638.6 145.5 1638.9 142.2 1639.2 138.9 1639.4 135.5 1639.7 132.2 1639.9" stroke="#00ff5a" /><path d="M324.9 1728.8 325.1 1725.7 325.5 1722.5 325.8 1719.3 326.1 1716.2 326.5 1713.1 326.9 1710 327.3 1707 327.7 1704 328.1 1701 328.6 1698 329.2 1694.8 329.8 1691.5 330.5 1688.5 331.3 1685.2 332.1 1682.2 333.1 1679.3 334.1 1676.4 335.4 1673.3 337 1670.3 338.5 1667.7 340.5 1665 342.9 1662.4 345.2 1660.3 347.9 1658.4 350.8 1656.6 354.1 1654.9 357 1653.7 360.1 1652.6 363.4 1651.5 366.9 1650.5 370.5 1649.6 374.3 1648.8 377.4 1648.1 381.3 1647.4 384.3 1646.8 387.5 1646.3 390.7 1645.8 393.8 1645.3 397.2 1644.8 400.5 1644.3 403.8 1643.9 407.2 1643.4 410.6 1643 414 1642.6 417.5 1642.1 421 1641.7 424.4 1641.3 428 1640.9 431.1 1640.5 434.8 1640.1 438.5 1639.7 442.1 1639.3 445.7 1638.9 449.3 1638.5 452.9 1638.1 456.5 1637.7 460.1 1637.3 463.7 1636.9 467.4 1636.5 471 1636.1 474.5 1635.7 478.1 1635.3 481.6 1634.9 485.1 1634.5 488.7 1634.1 491.7 1633.8 495.4 1633.4 499 1632.9 502.7 1632.5 506.2 1632.1 509.7 1631.8 513.1 1631.4 516.2 1631 519.9 1630.6 523.6 1630.2 527 1629.8 530.5 1629.4 534 1629 537.2 1628.6" stroke="#2cff00" /><path d="M323.7 1562.1 323.4 1565.2 323 1568.2 322.6 1571.2 322.3 1574.3 321.9 1577.3 321.4 1580.4 321 1583.5 320.5 1586.5 320 1589.6 319.5 1592.7 318.9 1595.8 318.2 1598.8 317.5 1601.9 316.7 1604.9 315.8 1607.9 314.8 1610.8 313.6 1613.9 312.3 1616.8 310.8 1619.6 309.2 1622.1 307.2 1624.6 305 1627 302.7 1629 300.1 1630.8 297.2 1632.5 293.9 1634.1 291.1 1635.3 288 1636.3 284.8 1637.3 281.8 1638.1 278.7 1638.9 274.9 1639.7 271.1 1640.4 268.1 1640.9 265 1641.4 262 1641.8 258.8 1642.2 255.6 1642.6 252.3 1643 249 1643.4 245.7 1643.7 242.3 1644 238.9 1644.3 235.5 1644.6 232.1 1644.9 229 1645.2 225.2 1645.5 221.6 1645.7 218.1 1645.9 214.6 1646.2 211 1646.4 207.5 1646.6 203.9 1646.8 200.3 1647 196.7 1647.2 193.1 1647.4 189.5 1647.5 185.9 1647.7 182.3 1647.9 178.6 1648 175 1648.2 171.3 1648.3 167.7 1648.4 164 1648.6 160.4 1648.7 156.7 1648.8 153 1648.9 151.8 1649" stroke="#2cff00" /><path d="M344.2 1559.7 344.7 1562.8 345.2 1565.8 345.9 1569.2 346.7 1572.6 347.4 1575.6 348.3 1578.6 349.2 1581.6 350.3 1584.6 351.4 1587.4 352.7 1590.2 354.1 1592.9 355.7 1595.6 357.4 1598.2 359.4 1600.7 361.6 1603.3 364 1605.6 366.8 1607.9 369.3 1609.7 372 1611.4 375 1613.1 378.3 1614.6 381.1 1615.7 384.1 1616.8 387.2 1617.8 390.6 1618.7 394.1 1619.5 397.8 1620.3 401.7 1621 404.7 1621.5 407.8 1621.9 411 1622.3 414.3 1622.6 417.7 1622.9 421.2 1623.2 424.7 1623.4 428.3 1623.6 432 1623.8 435.6 1623.9 438.9 1624 442.2 1624.1 445.4 1624.1 448.5 1624.1 451.7 1624.1 454.7 1624.1 457.8 1624.1 460.8 1624.1 463.8 1624 468 1623.9 471.2 1623.9 475.1 1623.8 478.5 1623.6 482.3 1623.5 485.6 1623.4 489.6 1623.2 492.7 1623.1 496.9 1622.8 500 1622.7 503.9 1622.5 507.5 1622.3 510.5 1622.1 513.5 1621.9 516.5 1621.7 517.7 1621.6" stroke="#b3ff00" /><path d="M299.2 1717 298.5 1714 297.6 1711 296.6 1707.9 295.5 1705 294.2 1701.8 292.7 1698.6 291.2 1695.9 289.6 1693.2 287.7 1690.6 285.9 1688.2 283.8 1685.9 281.6 1683.7 279.2 1681.6 276.5 1679.6 273.6 1677.7 270.4 1676 267.7 1674.6 264.8 1673.3 261.7 1672.1 258.4 1671 255 1669.9 251.3 1669 247.5 1668 244.6 1667.4 241.5 1666.8 238.3 1666.2 235.1 1665.7 231.7 1665.2 228.3 1664.7 224.8 1664.3 221.2 1663.9 217.6 1663.5 213.8 1663.1 210 1662.8 206.6 1662.5 203.6 1662.3 200.2 1662.1 197 1661.8 193.9 1661.6 190.9 1661.5 187.8 1661.3 184.8 1661.1 181.8 1661 177.6 1660.8 177.4 1660.8" stroke="#b3ff00" /><path d="M369.6 1568.8 371.2 1571.4 372.9 1573.9 374.6 1576.4 376.6 1578.9 378.7 1581.3 381 1583.7 383.4 1586 385.8 1588 388.3 1590 390.8 1591.8 393.4 1593.5 396.2 1595.1 399.2 1596.7 402.3 1598.2 405.6 1599.7 409.1 1601 412 1602.1 415 1603.1 418.1 1604 421.1 1604.9 424.8 1605.8 428.3 1606.6 432 1607.3 435.7 1608 438.8 1608.5 442.6 1609.1 445.6 1609.5 448.7 1609.9 451.9 1610.3 455.1 1610.6 458.4 1610.9 461.6 1611.2 465.2 1611.5 468.6 1611.7 472.1 1611.9 475.7 1612.1 479.3 1612.2 483 1612.3 486.7 1612.4 490.5 1612.5 492.3 1612.6" stroke="#ffc400" /></g>
<circle cx="390.9" cy="1709.3" r="1.8" fill="#000"/>
<circle cx="444.9" cy="1684.3" r="1.8" fill="#000"/>
<circle cx="499" cy="1659.3" r="1.8" fill="#000"/>
<circle cx="282.7" cy="1709.3" r="1.8" fill="#000"/>
<circle cx="228.7" cy="1684.4" r="1.8" fill="#000"/>
<circle cx="174.6" cy="1659.5" r="1.8" fill="#000"/>
<circle cx="336.8" cy="1734.3" r="2" fill="#000"/>
<circle cx="120.6" cy="1634.6" r="2" fill="#000"/>
<circle cx="337.3" cy="1557.2" r="2" fill="#000"/>
<circle cx="553.1" cy="1634.3" r="2" fill="#000"/>
<g stroke="#1a1a1a" stroke-width="1.45" stroke-linejoin="round"><path d="M337.3 1378.8L348.6 1366.1 337.3 1372.5 326 1385.3Z" fill="#a1ff36" stroke-width="0.98"/><path d="M348.6 1373.4L360 1360.7 348.6 1366.1 337.3 1378.8Z" fill="#d7ff40" stroke-width="1.15"/><path d="M326 1390.8L337.3 1378.8 326 1385.3 314.7 1397.4Z" fill="#67ff33" stroke-width="0.87"/><path d="M360 1369L371.4 1356.4 360 1360.7 348.6 1373.4Z" fill="#ffff4b" stroke-width="1.34"/><path d="M337.2 1385.3L348.6 1373.4 337.3 1378.8 326 1390.8Z" fill="#a2ff3d" stroke-width="1.05"/><path d="M314.7 1402.1L326 1390.8 314.7 1397.4 303.5 1408.7Z" fill="#30ff30" stroke-width="0.80"/><path d="M371.4 1365.7L382.9 1353.2 371.4 1356.4 360 1369Z" fill="#ffe356"/><path d="M348.6 1380.9L360 1369 348.6 1373.4 337.2 1385.3Z" fill="#d1ff48" stroke-width="1.23"/><path d="M325.9 1396.5L337.2 1385.3 326 1390.8 314.7 1402.1Z" fill="#6fff39" stroke-width="0.93"/><path d="M303.4 1412.6L314.7 1402.1 303.5 1408.7 292.3 1419.4Z" fill="#2cff5d" stroke-width="0.80"/><path d="M359.9 1377.6L371.4 1365.7 360 1369 348.6 1380.9Z" fill="#f5ff54" stroke-width="1.42"/><path d="M337.2 1392L348.6 1380.9 337.2 1385.3 325.9 1396.5Z" fill="#a2ff44" stroke-width="1.12"/><path d="M314.6 1407L325.9 1396.5 314.7 1402.1 303.4 1412.6Z" fill="#3eff35" stroke-width="0.81"/><path d="M382.8 1363.6L394.3 1351 382.9 1353.2 371.4 1365.7Z" fill="#ffcc62"/><path d="M292.2 1422.4L303.4 1412.6 292.3 1419.4 281.2 1429.2Z" fill="#28ff88" stroke-width="0.80"/><path d="M348.5 1388.6L359.9 1377.6 348.6 1380.9 337.2 1392Z" fill="#cbff50" stroke-width="1.31"/><path d="M325.9 1402.4L337.2 1392 325.9 1396.5 314.6 1407Z" fill="#75ff40" stroke-width="0.99"/><path d="M394.2 1362.5L405.8 1350 394.3 1351 382.8 1363.6Z" fill="#ffbd6d"/><path d="M371.3 1375.3L382.8 1363.6 371.4 1365.7 359.9 1377.6Z" fill="#fff660"/><path d="M303.4 1416.7L314.6 1407 303.4 1412.6 292.2 1422.4Z" fill="#31ff53" stroke-width="0.80"/><path d="M281.1 1431.4L292.2 1422.4 281.2 1429.2 270 1438.3Z" fill="#24ffae" stroke-width="0.80"/><path d="M405.7 1362.5L417.3 1350.1 405.8 1350 394.2 1362.5Z" fill="#ffb476"/><path d="M382.7 1374.2L394.2 1362.5 382.8 1363.6 371.3 1375.3Z" fill="#ffe36b"/><path d="M359.9 1386.3L371.3 1375.3 359.9 1377.6 348.5 1388.6Z" fill="#e9ff5d"/><path d="M337.2 1398.9L348.5 1388.6 337.2 1392 325.9 1402.4Z" fill="#a2ff4c" stroke-width="1.19"/><path d="M314.6 1412L325.9 1402.4 314.6 1407 303.4 1416.7Z" fill="#4bff3b" stroke-width="0.87"/><path d="M292.2 1425.6L303.4 1416.7 292.2 1422.4 281.1 1431.4Z" fill="#2cff75" stroke-width="0.80"/><path d="M269.9 1439.6L281.1 1431.4 270 1438.3 258.9 1446.6Z" fill="#20ffd1" stroke-width="0.80"/><path d="M417.1 1363.8L428.7 1351.4 417.3 1350.1 405.7 1362.5Z" fill="#ffb07c"/><path d="M394.1 1374.2L405.7 1362.5 394.2 1362.5 382.7 1374.2Z" fill="#ffd775"/><path d="M371.3 1385.2L382.7 1374.2 371.3 1375.3 359.9 1386.3Z" fill="#feff68"/><path d="M348.5 1396.6L359.9 1386.3 348.5 1388.6 337.2 1398.9Z" fill="#c5ff58" stroke-width="1.39"/><path d="M325.9 1408.5L337.2 1398.9 325.9 1402.4 314.6 1412Z" fill="#7cff47" stroke-width="1.06"/><path d="M303.4 1420.8L314.6 1412 303.4 1416.7 292.2 1425.6Z" fill="#36ff4a" stroke-width="0.80"/><path d="M281 1433.7L292.2 1425.6 281.1 1431.4 269.9 1439.6Z" fill="#27ff94" stroke-width="0.80"/><path d="M258.8 1447L269.9 1439.6 258.9 1446.6 247.8 1454.1Z" fill="#1bffef" stroke-width="0.80"/><path d="M428.5 1366.1L440.1 1353.8 428.7 1351.4 417.1 1363.8Z" fill="#fdae7f"/><path d="M405.5 1375.4L417.1 1363.8 405.7 1362.5 394.1 1374.2Z" fill="#ffd07c"/><path d="M382.6 1385.1L394.1 1374.2 382.7 1374.2 371.3 1385.2Z" fill="#fff773"/><path d="M359.8 1395.3L371.3 1385.2 359.9 1386.3 348.5 1396.6Z" fill="#deff64"/><path d="M337.2 1406L348.5 1396.6 337.2 1398.9 325.9 1408.5Z" fill="#a2ff53" stroke-width="1.26"/><path d="M314.6 1417.2L325.9 1408.5 314.6 1412 303.4 1420.8Z" fill="#56ff40" stroke-width="0.92"/><path d="M292.1 1428.9L303.4 1420.8 292.2 1425.6 281 1433.7Z" fill="#30ff64" stroke-width="0.80"/><path d="M269.8 1441L281 1433.7 269.9 1439.6 258.8 1447Z" fill="#22ffaf" stroke-width="0.80"/><path d="M247.6 1453.6L258.8 1447 247.8 1454.1 236.7 1460.8Z" fill="#17ffff" stroke-width="0.80"/><path d="M416.9 1377.8L428.5 1366.1 417.1 1363.8 405.5 1375.4Z" fill="#fecd7f"/><path d="M394 1386.3L405.5 1375.4 394.1 1374.2 382.6 1385.1Z" fill="#ffee7a"/><path d="M371.2 1395.3L382.6 1385.1 371.3 1385.2 359.8 1395.3Z" fill="#eeff6e"/><path d="M303.3 1425.1L314.6 1417.2 303.4 1420.8 292.1 1428.9Z" fill="#3aff40" stroke-width="0.80"/><path d="M280.9 1436.1L292.1 1428.9 281 1433.7 269.8 1441Z" fill="#2aff7b" stroke-width="0.80"/><path d="M258.6 1447.5L269.8 1441 258.8 1447 247.6 1453.6Z" fill="#1dffc6" stroke-width="0.80"/><path d="M439.9 1369.7L451.5 1357.4 440.1 1353.8 428.5 1366.1Z" fill="#fcae7e"/><path d="M348.5 1404.7L359.8 1395.3 348.5 1396.6 337.2 1406Z" fill="#beff5e"/><path d="M325.8 1414.7L337.2 1406 325.9 1408.5 314.6 1417.2Z" fill="#80ff4c" stroke-width="1.13"/><path d="M236.5 1459.4L247.6 1453.6 236.7 1460.8 225.6 1466.7Z" fill="#13f7ff" stroke-width="0.80"/><path d="M405.4 1388.6L416.9 1377.8 405.5 1375.4 394 1386.3Z" fill="#fee97e"/><path d="M382.6 1396.3L394 1386.3 382.6 1385.1 371.2 1395.3Z" fill="#f7ff76"/><path d="M292.1 1432.3L303.3 1425.1 292.1 1428.9 280.9 1436.1Z" fill="#32ff53" stroke-width="0.80"/><path d="M269.7 1442.5L280.9 1436.1 269.8 1441 258.6 1447.5Z" fill="#23ff8e" stroke-width="0.80"/><path d="M451.2 1374.5L462.9 1362.2 451.5 1357.4 439.9 1369.7Z" fill="#fbb079"/><path d="M428.3 1381.3L439.9 1369.7 428.5 1366.1 416.9 1377.8Z" fill="#fdcd7e"/><path d="M359.8 1404.6L371.2 1395.3 359.8 1395.3 348.5 1404.7Z" fill="#d2ff69"/><path d="M337.1 1413.3L348.5 1404.7 337.2 1406 325.8 1414.7Z" fill="#a0ff57" stroke-width="1.33"/><path d="M314.5 1422.6L325.8 1414.7 314.6 1417.2 303.3 1425.1Z" fill="#60ff44" stroke-width="0.98"/><path d="M247.4 1453.2L258.6 1447.5 247.6 1453.6 236.5 1459.4Z" fill="#18ffd9" stroke-width="0.80"/><path d="M225.3 1464.4L236.5 1459.4 225.6 1466.7 214.5 1471.8Z" fill="#00abc7" stroke-width="0.80"/><path d="M393.9 1398.6L405.4 1388.6 394 1386.3 382.6 1396.3Z" fill="#fbff7a"/><path d="M280.8 1438.6L292.1 1432.3 280.9 1436.1 269.7 1442.5Z" fill="#2bff62" stroke-width="0.80"/><path d="M416.7 1392.1L428.3 1381.3 416.9 1377.8 405.4 1388.6Z" fill="#fde87d"/><path d="M371.1 1405.6L382.6 1396.3 371.2 1395.3 359.8 1404.6Z" fill="#deff71"/><path d="M348.4 1413.1L359.8 1404.6 348.5 1404.7 337.1 1413.3Z" fill="#b7ff61"/><path d="M325.8 1421.1L337.1 1413.3 325.8 1414.7 314.5 1422.6Z" fill="#83ff4f" stroke-width="1.19"/><path d="M303.3 1429.6L314.5 1422.6 303.3 1425.1 292.1 1432.3Z" fill="#41ff3c" stroke-width="0.83"/><path d="M258.5 1448L269.7 1442.5 258.6 1447.5 247.4 1453.2Z" fill="#1dff9e" stroke-width="0.80"/><path d="M462.5 1380.5L474.2 1368.2 462.9 1362.2 451.2 1374.5Z" fill="#f9b471"/><path d="M439.6 1386.1L451.2 1374.5 439.9 1369.7 428.3 1381.3Z" fill="#fbcf79"/><path d="M236.2 1458L247.4 1453.2 236.5 1459.4 225.3 1464.4Z" fill="#13ffe6" stroke-width="0.80"/><path d="M214.1 1468.5L225.3 1464.4 214.5 1471.8 203.3 1476Z" fill="#00a3c7" stroke-width="0.80"/><path d="M473.8 1387.8L485.5 1375.5 474.2 1368.2 462.5 1380.5Z" fill="#f7bd66"/><path d="M450.9 1392.1L462.5 1380.5 451.2 1374.5 439.6 1386.1Z" fill="#fad470"/><path d="M428.1 1396.8L439.6 1386.1 428.3 1381.3 416.7 1392.1Z" fill="#fceb78"/><path d="M405.3 1402.1L416.7 1392.1 405.4 1388.6 393.9 1398.6Z" fill="#fafe7a"/><path d="M382.5 1407.8L393.9 1398.6 382.6 1396.3 371.1 1405.6Z" fill="#e3ff75"/><path d="M359.8 1414.1L371.1 1405.6 359.8 1404.6 348.4 1413.1Z" fill="#c5ff69"/><path d="M337.1 1420.8L348.4 1413.1 337.1 1413.3 325.8 1421.1Z" fill="#9cff58" stroke-width="1.40"/><path d="M314.5 1428.1L325.8 1421.1 314.5 1422.6 303.3 1429.6Z" fill="#67ff45" stroke-width="1.04"/><path d="M292 1435.8L303.3 1429.6 292.1 1432.3 280.8 1438.6Z" fill="#33ff41" stroke-width="0.80"/><path d="M269.6 1444L280.8 1438.6 269.7 1442.5 258.5 1448Z" fill="#24ff6e" stroke-width="0.80"/><path d="M247.3 1452.8L258.5 1448 247.4 1453.2 236.2 1458Z" fill="#18ffa8" stroke-width="0.80"/><path d="M225 1462L236.2 1458 225.3 1464.4 214.1 1468.5Z" fill="#00c7b0" stroke-width="0.80"/><path d="M202.9 1471.7L214.1 1468.5 203.3 1476 192.2 1479.4Z" fill="#00a1c7" stroke-width="0.83"/><path d="M371.1 1416.2L382.5 1407.8 371.1 1405.6 359.8 1414.1Z" fill="#ccff6d"/><path d="M348.4 1421.7L359.8 1414.1 348.4 1413.1 337.1 1420.8Z" fill="#adff60"/><path d="M325.8 1427.7L337.1 1420.8 325.8 1421.1 314.5 1428.1Z" fill="#83ff4e" stroke-width="1.26"/><path d="M303.2 1434.2L314.5 1428.1 303.3 1429.6 292 1435.8Z" fill="#4dff3c" stroke-width="0.88"/><path d="M485 1396.3L496.6 1384 485.5 1375.5 473.8 1387.8Z" fill="#f5cd59"/><path d="M462.1 1399.3L473.8 1387.8 462.5 1380.5 450.9 1392.1Z" fill="#f7df65"/><path d="M439.4 1402.8L450.9 1392.1 439.6 1386.1 428.1 1396.8Z" fill="#faf16f"/><path d="M416.6 1406.8L428.1 1396.8 416.7 1392.1 405.3 1402.1Z" fill="#f4fc75"/><path d="M393.8 1411.3L405.3 1402.1 393.9 1398.6 382.5 1407.8Z" fill="#e3fe74"/><path d="M280.8 1441.2L292 1435.8 280.8 1438.6 269.6 1444Z" fill="#2bff49" stroke-width="0.80"/><path d="M258.3 1448.6L269.6 1444 258.5 1448 247.3 1452.8Z" fill="#1dff75" stroke-width="0.80"/><path d="M236 1456.6L247.3 1452.8 236.2 1458 225 1462Z" fill="#13ffae" stroke-width="0.80"/><path d="M213.8 1465.1L225 1462 214.1 1468.5 202.9 1471.7Z" fill="#00c7b2" stroke-width="0.80"/><path d="M191.7 1474.1L202.9 1471.7 192.2 1479.4 181 1481.9Z" fill="#00a3c7" stroke-width="1.02"/><path d="M473.3 1407.8L485 1396.3 473.8 1387.8 462.1 1399.3Z" fill="#f5f058"/><path d="M450.6 1410L462.1 1399.3 450.9 1392.1 439.4 1402.8Z" fill="#f2f863"/><path d="M427.9 1412.7L439.4 1402.8 428.1 1396.8 416.6 1406.8Z" fill="#e9fa6c"/><path d="M359.7 1423.8L371.1 1416.2 359.8 1414.1 348.4 1421.7Z" fill="#b6ff64"/><path d="M337.1 1428.5L348.4 1421.7 337.1 1420.8 325.8 1427.7Z" fill="#95ff55"/><path d="M314.5 1433.8L325.8 1427.7 314.5 1428.1 303.2 1434.2Z" fill="#6bff43" stroke-width="1.10"/><path d="M247.1 1452.4L258.3 1448.6 247.3 1452.8 236 1456.6Z" fill="#17ff78" stroke-width="0.80"/><path d="M224.8 1459.6L236 1456.6 225 1462 213.8 1465.1Z" fill="#00c77e" stroke-width="0.80"/><path d="M202.6 1467.3L213.8 1465.1 202.9 1471.7 191.7 1474.1Z" fill="#00c7af" stroke-width="0.85"/><path d="M496.1 1406.1L507.8 1393.9 496.6 1384 485 1396.3Z" fill="#f2e44c"/><path d="M382.4 1419.6L393.8 1411.3 382.5 1407.8 371.1 1416.2Z" fill="#cdfe6d"/><path d="M292 1439.5L303.2 1434.2 292 1435.8 280.8 1441.2Z" fill="#36ff32" stroke-width="0.80"/><path d="M180.5 1475.6L191.7 1474.1 181 1481.9 169.7 1483.5Z" fill="#00a9c7" stroke-width="1.21"/><path d="M405.1 1415.9L416.6 1406.8 405.3 1402.1 393.8 1411.3Z" fill="#ddfc6f"/><path d="M269.5 1445.7L280.8 1441.2 269.6 1444 258.3 1448.6Z" fill="#23ff4c" stroke-width="0.80"/><path d="M348.4 1430.6L359.7 1423.8 348.4 1421.7 337.1 1428.5Z" fill="#a0ff59"/><path d="M325.8 1434.5L337.1 1428.5 325.8 1427.7 314.5 1433.8Z" fill="#7fff4a" stroke-width="1.32"/><path d="M461.8 1418.5L473.3 1407.8 462.1 1399.3 450.6 1410Z" fill="#daf556"/><path d="M439.1 1419.9L450.6 1410 439.4 1402.8 427.9 1412.7Z" fill="#d7f860"/><path d="M235.8 1455.3L247.1 1452.4 236 1456.6 224.8 1459.6Z" fill="#12ff75" stroke-width="0.80"/><path d="M213.5 1461.7L224.8 1459.6 213.8 1465.1 202.6 1467.3Z" fill="#00c77a" stroke-width="0.80"/><path d="M484.4 1417.6L496.1 1406.1 485 1396.3 473.3 1407.8Z" fill="#dbf24b"/><path d="M371 1427.2L382.4 1419.6 371.1 1416.2 359.7 1423.8Z" fill="#b7ff64"/><path d="M303.2 1438.9L314.5 1433.8 303.2 1434.2 292 1439.5Z" fill="#55ff39" stroke-width="0.93"/><path d="M191.3 1468.7L202.6 1467.3 191.7 1474.1 180.5 1475.6Z" fill="#00c7a8" stroke-width="1.05"/><path d="M416.4 1421.8L427.9 1412.7 416.6 1406.8 405.1 1415.9Z" fill="#d1fb67"/><path d="M393.7 1424.2L405.1 1415.9 393.8 1411.3 382.4 1419.6Z" fill="#c6fd68"/><path d="M280.7 1443.9L292 1439.5 280.8 1441.2 269.5 1445.7Z" fill="#29ff2e" stroke-width="0.80"/><path d="M258.2 1449.3L269.5 1445.7 258.3 1448.6 247.1 1452.4Z" fill="#1bff4c" stroke-width="0.80"/><path d="M507.1 1417.3L518.8 1405 507.8 1393.9 496.1 1406.1Z" fill="#daef40"/><path d="M169.2 1476.1L180.5 1475.6 169.7 1483.5 158.5 1484.3Z" fill="#00b5c7" stroke-width="1.41"/><path d="M337.1 1436.5L348.4 1430.6 337.1 1428.5 325.8 1434.5Z" fill="#8bff4d"/><path d="M450.3 1428.4L461.8 1418.5 450.6 1410 439.1 1419.9Z" fill="#bdf553"/><path d="M224.5 1457.2L235.8 1455.3 224.8 1459.6 213.5 1461.7Z" fill="#00c74c" stroke-width="0.80"/><path d="M518 1429.7L529.7 1417.4 518.8 1405 507.1 1417.3Z" fill="#aaec34"/><path d="M472.9 1428.3L484.4 1417.6 473.3 1407.8 461.8 1418.5Z" fill="#b9f249"/><path d="M359.7 1433.8L371 1427.2 359.7 1423.8 348.4 1430.6Z" fill="#a2ff59"/><path d="M314.5 1439.6L325.8 1434.5 314.5 1433.8 303.2 1438.9Z" fill="#6bff3e" stroke-width="1.15"/><path d="M202.2 1462.9L213.5 1461.7 202.6 1467.3 191.3 1468.7Z" fill="#00c772" stroke-width="0.88"/><path d="M157.8 1475.8L169.2 1476.1 158.5 1484.3 147.2 1484.1Z" fill="#00c5c7"/><path d="M427.6 1429L439.1 1419.9 427.9 1412.7 416.4 1421.8Z" fill="#bdf85b"/><path d="M405 1430.1L416.4 1421.8 405.1 1415.9 393.7 1424.2Z" fill="#b9fb60"/><path d="M382.3 1431.7L393.7 1424.2 382.4 1419.6 371 1427.2Z" fill="#b1fd60"/><path d="M291.9 1443.2L303.2 1438.9 292 1439.5 280.7 1443.9Z" fill="#44ff2e" stroke-width="0.80"/><path d="M269.4 1447.4L280.7 1443.9 269.5 1445.7 258.2 1449.3Z" fill="#20ff2a" stroke-width="0.80"/><path d="M246.9 1452.1L258.2 1449.3 247.1 1452.4 235.8 1455.3Z" fill="#15ff46" stroke-width="0.80"/><path d="M495.5 1428.7L507.1 1417.3 496.1 1406.1 484.4 1417.6Z" fill="#b3ef3e"/><path d="M180 1469.1L191.3 1468.7 180.5 1475.6 169.2 1476.1Z" fill="#00c79c" stroke-width="1.25"/><path d="M506.4 1441.2L518 1429.7 507.1 1417.3 495.5 1428.7Z" fill="#82ec33"/><path d="M461.4 1438.2L472.9 1428.3 461.8 1418.5 450.3 1428.4Z" fill="#9af245"/><path d="M348.4 1439.6L359.7 1433.8 348.4 1430.6 337.1 1436.5Z" fill="#8eff4d"/><path d="M325.8 1441.5L337.1 1436.5 325.8 1434.5 314.5 1439.6Z" fill="#78ff41" stroke-width="1.37"/><path d="M213.2 1458.3L224.5 1457.2 213.5 1461.7 202.2 1462.9Z" fill="#00c743" stroke-width="0.80"/><path d="M168.6 1468.6L180 1469.1 169.2 1476.1 157.8 1475.8Z" fill="#00c78b" stroke-width="1.45"/><path d="M438.8 1437.4L450.3 1428.4 439.1 1419.9 427.6 1429Z" fill="#a2f54e"/><path d="M416.2 1437.2L427.6 1429 416.4 1421.8 405 1430.1Z" fill="#a5f855"/><path d="M393.6 1437.5L405 1430.1 393.7 1424.2 382.3 1431.7Z" fill="#a3fb58"/><path d="M371 1438.3L382.3 1431.7 371 1427.2 359.7 1433.8Z" fill="#9cfd55"/><path d="M303.2 1443.8L314.5 1439.6 303.2 1438.9 291.9 1443.2Z" fill="#5bff32" stroke-width="0.98"/><path d="M280.6 1446.7L291.9 1443.2 280.7 1443.9 269.4 1447.4Z" fill="#38ff24" stroke-width="0.80"/><path d="M258.1 1450L269.4 1447.4 258.2 1449.3 246.9 1452.1Z" fill="#18ff21" stroke-width="0.80"/><path d="M235.6 1453.9L246.9 1452.1 235.8 1455.3 224.5 1457.2Z" fill="#10ff3c" stroke-width="0.80"/><path d="M528.8 1443.5L540.5 1431.1 529.7 1417.4 518 1429.7Z" fill="#71e92a"/><path d="M483.9 1439.4L495.5 1428.7 484.4 1417.6 472.9 1428.3Z" fill="#90ef3c"/><path d="M190.9 1463.2L202.2 1462.9 191.3 1468.7 180 1469.1Z" fill="#00c766" stroke-width="1.08"/><path d="M146.4 1474.6L157.8 1475.8 147.2 1484.1 135.8 1483Z" fill="#00c7b5"/><path d="M494.9 1451.9L506.4 1441.2 495.5 1428.7 483.9 1439.4Z" fill="#5dec30"/><path d="M179.5 1462.6L190.9 1463.2 180 1469.1 168.6 1468.6Z" fill="#00c754" stroke-width="1.29"/><path d="M427.4 1445.6L438.8 1437.4 427.6 1429 416.2 1437.2Z" fill="#88f649"/><path d="M404.9 1444.6L416.2 1437.2 405 1430.1 393.6 1437.5Z" fill="#8ef84d"/><path d="M382.3 1444.1L393.6 1437.5 382.3 1431.7 371 1438.3Z" fill="#8ffb4e"/><path d="M359.7 1444.1L371 1438.3 359.7 1433.8 348.4 1439.6Z" fill="#89fe4a"/><path d="M314.5 1445.6L325.8 1441.5 314.5 1439.6 303.2 1443.8Z" fill="#69ff35" stroke-width="1.20"/><path d="M291.9 1447.2L303.2 1443.8 291.9 1443.2 280.6 1446.7Z" fill="#50ff28" stroke-width="0.80"/><path d="M269.3 1449.2L280.6 1446.7 269.4 1447.4 258.1 1450Z" fill="#32ff1c" stroke-width="0.80"/><path d="M246.8 1451.8L258.1 1450 246.9 1452.1 235.6 1453.9Z" fill="#12ff14" stroke-width="0.80"/><path d="M517.3 1455L528.8 1443.5 518 1429.7 506.4 1441.2Z" fill="#47e929"/><path d="M472.4 1449.3L483.9 1439.4 472.9 1428.3 461.4 1438.2Z" fill="#6fef39"/><path d="M449.9 1447.2L461.4 1438.2 450.3 1428.4 438.8 1437.4Z" fill="#7ef241"/><path d="M337.1 1444.6L348.4 1439.6 337.1 1436.5 325.8 1441.5Z" fill="#7cff41"/><path d="M224.3 1454.9L235.6 1453.9 224.5 1457.2 213.2 1458.3Z" fill="#00c71a" stroke-width="0.80"/><path d="M201.9 1458.5L213.2 1458.3 202.2 1462.9 190.9 1463.2Z" fill="#00c735" stroke-width="0.90"/><path d="M157.2 1467.2L168.6 1468.6 157.8 1475.8 146.4 1474.6Z" fill="#00c776"/><path d="M539.6 1458.6L551.2 1446.2 540.5 1431.1 528.8 1443.5Z" fill="#2fe622"/><path d="M135 1472.4L146.4 1474.6 135.8 1483 124.3 1481Z" fill="#00c79b"/><path d="M483.4 1461.7L494.9 1451.9 483.9 1439.4 472.4 1449.3Z" fill="#3bec2d"/><path d="M190.5 1457.7L201.9 1458.5 190.9 1463.2 179.5 1462.6Z" fill="#00c723" stroke-width="1.11"/><path d="M416.1 1453L427.4 1445.6 416.2 1437.2 404.9 1444.6Z" fill="#71f642"/><path d="M393.5 1451.1L404.9 1444.6 393.6 1437.5 382.3 1444.1Z" fill="#79f845"/><path d="M370.9 1449.8L382.3 1444.1 371 1438.3 359.7 1444.1Z" fill="#7cfb44"/><path d="M303.1 1448.9L314.5 1445.6 303.2 1443.8 291.9 1447.2Z" fill="#5fff2a" stroke-width="1.02"/><path d="M280.6 1449.6L291.9 1447.2 280.6 1446.7 269.3 1449.2Z" fill="#4bff1e" stroke-width="0.80"/><path d="M258 1450.8L269.3 1449.2 258.1 1450 246.8 1451.8Z" fill="#33ff14" stroke-width="0.80"/><path d="M550.1 1475.1L561.8 1462.7 551.2 1446.2 539.6 1458.6Z" fill="#1be350"/><path d="M505.7 1465.6L517.3 1455 506.4 1441.2 494.9 1451.9Z" fill="#26e92b"/><path d="M438.6 1455.4L449.9 1447.2 438.8 1437.4 427.4 1445.6Z" fill="#63f23c"/><path d="M235.4 1452.6L246.8 1451.8 235.6 1453.9 224.3 1454.9Z" fill="#18ff0d" stroke-width="0.80"/><path d="M168 1461L179.5 1462.6 168.6 1468.6 157.2 1467.2Z" fill="#00c73e"/><path d="M123.4 1469.2L135 1472.4 124.3 1481 112.8 1478Z" fill="#00c77d"/><path d="M348.4 1449L359.7 1444.1 348.4 1439.6 337.1 1444.6Z" fill="#78fe3e"/><path d="M325.8 1448.6L337.1 1444.6 325.8 1441.5 314.5 1445.6Z" fill="#6eff35" stroke-width="1.41"/><path d="M528 1470.1L539.6 1458.6 528.8 1443.5 517.3 1455Z" fill="#20e63c"/><path d="M461 1458.3L472.4 1449.3 461.4 1438.2 449.9 1447.2Z" fill="#51ef35"/><path d="M212.9 1454.9L224.3 1454.9 213.2 1458.3 201.9 1458.5Z" fill="#00c70c" stroke-width="0.80"/><path d="M145.7 1464.9L157.2 1467.2 146.4 1474.6 135 1472.4Z" fill="#00c75c"/><path d="M404.7 1459.4L416.1 1453 404.9 1444.6 393.5 1451.1Z" fill="#5bf53a"/><path d="M382.2 1456.8L393.5 1451.1 382.3 1444.1 370.9 1449.8Z" fill="#66f83b"/><path d="M291.8 1451.2L303.1 1448.9 291.9 1447.2 280.6 1449.6Z" fill="#5bff20" stroke-width="0.82"/><path d="M269.2 1451.1L280.6 1449.6 269.3 1449.2 258 1450.8Z" fill="#4dff16" stroke-width="0.80"/><path d="M538.6 1486.6L550.1 1475.1 539.6 1458.6 528 1470.1Z" fill="#19e378"/><path d="M494.3 1475.5L505.7 1465.6 494.9 1451.9 483.4 1461.7Z" fill="#24e949"/><path d="M472 1470.7L483.4 1461.7 472.4 1449.3 461 1458.3Z" fill="#2aec38"/><path d="M427.2 1462.7L438.6 1455.4 427.4 1445.6 416.1 1453Z" fill="#4bf236"/><path d="M246.6 1451.6L258 1450.8 246.8 1451.8 235.4 1452.6Z" fill="#3cff0f" stroke-width="0.80"/><path d="M201.5 1454L212.9 1454.9 201.9 1458.5 190.5 1457.7Z" fill="#07c700" stroke-width="0.91"/><path d="M179 1456L190.5 1457.7 179.5 1462.6 168 1461Z" fill="#00c70d" stroke-width="1.31"/><path d="M134.1 1461.6L145.7 1464.9 135 1472.4 123.4 1469.2Z" fill="#00c73d"/><path d="M359.6 1454.6L370.9 1449.8 359.7 1444.1 348.4 1449Z" fill="#6cfb39"/><path d="M314.4 1451.8L325.8 1448.6 314.5 1445.6 303.1 1448.9Z" fill="#65ff2a" stroke-width="1.24"/><path d="M516.5 1480.8L528 1470.1 517.3 1455 505.7 1465.6Z" fill="#1ee65e"/><path d="M449.6 1466.4L461 1458.3 449.9 1447.2 438.6 1455.4Z" fill="#35ef30"/><path d="M337 1452.9L348.4 1449 337.1 1444.6 325.8 1448.6Z" fill="#6bfe33"/><path d="M224 1452.5L235.4 1452.6 224.3 1454.9 212.9 1454.9Z" fill="#17c700" stroke-width="0.80"/><path d="M156.5 1458.5L168 1461 157.2 1467.2 145.7 1464.9Z" fill="#00c723"/><path d="M393.4 1465L404.7 1459.4 393.5 1451.1 382.2 1456.8Z" fill="#49f532"/><path d="M280.5 1452.6L291.8 1451.2 280.6 1449.6 269.2 1451.1Z" fill="#5eff17" stroke-width="0.80"/><path d="M527.1 1497.3L538.6 1486.6 528 1470.1 516.5 1480.8Z" fill="#17e39c"/><path d="M460.6 1478.8L472 1470.7 461 1458.3 449.6 1466.4Z" fill="#26ec4c"/><path d="M415.9 1469.1L427.2 1462.7 416.1 1453 404.7 1459.4Z" fill="#35f230"/><path d="M257.9 1451.7L269.2 1451.1 258 1450.8 246.6 1451.6Z" fill="#57ff10" stroke-width="0.80"/><path d="M212.6 1451.5L224 1452.5 212.9 1454.9 201.5 1454Z" fill="#2bc700" stroke-width="0.80"/><path d="M145 1455.1L156.5 1458.5 145.7 1464.9 134.1 1461.6Z" fill="#00c704"/><path d="M370.9 1461.5L382.2 1456.8 370.9 1449.8 359.6 1454.6Z" fill="#57f832"/><path d="M303.1 1454.1L314.4 1451.8 303.1 1448.9 291.8 1451.2Z" fill="#63ff20" stroke-width="1.05"/><path d="M505.1 1490.6L516.5 1480.8 505.7 1465.6 494.3 1475.5Z" fill="#1ce57d"/><path d="M482.9 1484.4L494.3 1475.5 483.4 1461.7 472 1470.7Z" fill="#21e962"/><path d="M438.3 1473.7L449.6 1466.4 438.6 1455.4 427.2 1462.7Z" fill="#2bef3a"/><path d="M348.3 1458.5L359.6 1454.6 348.4 1449 337 1452.9Z" fill="#5ffb2e"/><path d="M325.7 1456L337 1452.9 325.8 1448.6 314.4 1451.8Z" fill="#63fe28" stroke-width="1.45"/><path d="M235.2 1451.3L246.6 1451.6 235.4 1452.6 224 1452.5Z" fill="#4cff0a" stroke-width="0.80"/><path d="M190 1452.2L201.5 1454 190.5 1457.7 179 1456Z" fill="#1fc700" stroke-width="1.12"/><path d="M167.5 1453.3L179 1456 168 1461 156.5 1458.5Z" fill="#0fc700"/><path d="M515.7 1507.1L527.1 1497.3 516.5 1480.8 505.1 1490.6Z" fill="#16e3bb"/><path d="M449.3 1486L460.6 1478.8 449.6 1466.4 438.3 1473.7Z" fill="#22ec5c"/><path d="M404.6 1474.6L415.9 1469.1 404.7 1459.4 393.4 1465Z" fill="#29f22e"/><path d="M269.1 1453.1L280.5 1452.6 269.2 1451.1 257.9 1451.7Z" fill="#68ff11" stroke-width="0.80"/><path d="M223.8 1450.2L235.2 1451.3 224 1452.5 212.6 1451.5Z" fill="#48c700" stroke-width="0.80"/><path d="M155.9 1449.7L167.5 1453.3 156.5 1458.5 145 1455.1Z" fill="#2fc700"/><path d="M382.1 1469.7L393.4 1465 382.2 1456.8 370.9 1461.5Z" fill="#3af52a"/><path d="M291.8 1455.4L303.1 1454.1 291.8 1451.2 280.5 1452.6Z" fill="#66ff17" stroke-width="0.85"/><path d="M471.5 1492.5L482.9 1484.4 472 1470.7 460.6 1478.8Z" fill="#1ee878"/><path d="M427 1480.1L438.3 1473.7 427.2 1462.7 415.9 1469.1Z" fill="#26ef44"/><path d="M359.6 1465.3L370.9 1461.5 359.6 1454.6 348.3 1458.5Z" fill="#4cf829"/><path d="M337 1461.5L348.3 1458.5 337 1452.9 325.7 1456Z" fill="#59fb25"/><path d="M314.4 1458.2L325.7 1456 314.4 1451.8 303.1 1454.1Z" fill="#61fd1e" stroke-width="1.27"/><path d="M246.5 1451.4L257.9 1451.7 246.6 1451.6 235.2 1451.3Z" fill="#67ff0b" stroke-width="0.80"/><path d="M201.2 1449.5L212.6 1451.5 201.5 1454 190 1452.2Z" fill="#43c700" stroke-width="0.92"/><path d="M493.7 1499.6L505.1 1490.6 494.3 1475.5 482.9 1484.4Z" fill="#19e597"/><path d="M178.5 1449.3L190 1452.2 179 1456 167.5 1453.3Z" fill="#3bc700" stroke-width="1.33"/><path d="M438 1492.4L449.3 1486 438.3 1473.7 427 1480.1Z" fill="#1eeb68"/><path d="M235 1450.1L246.5 1451.4 235.2 1451.3 223.8 1450.2Z" fill="#7fff07" stroke-width="0.80"/><path d="M504.4 1516.1L515.7 1507.1 505.1 1490.6 493.7 1499.6Z" fill="#13e2d6"/><path d="M460.2 1499.8L471.5 1492.5 460.6 1478.8 449.3 1486Z" fill="#1ae889"/><path d="M415.7 1485.6L427 1480.1 415.9 1469.1 404.6 1474.6Z" fill="#20ef4a"/><path d="M393.3 1479.3L404.6 1474.6 393.4 1465 382.1 1469.7Z" fill="#22f22f"/><path d="M370.8 1473.5L382.1 1469.7 370.9 1461.5 359.6 1465.3Z" fill="#30f522"/><path d="M348.3 1468.3L359.6 1465.3 348.3 1458.5 337 1461.5Z" fill="#46f820"/><path d="M325.7 1463.6L337 1461.5 325.7 1456 314.4 1458.2Z" fill="#58fb1c"/><path d="M303.1 1459.4L314.4 1458.2 303.1 1454.1 291.8 1455.4Z" fill="#66fd16" stroke-width="1.07"/><path d="M280.4 1455.8L291.8 1455.4 280.5 1452.6 269.1 1453.1Z" fill="#72ff11" stroke-width="0.80"/><path d="M257.8 1452.7L269.1 1453.1 257.9 1451.7 246.5 1451.4Z" fill="#7aff0b" stroke-width="0.80"/><path d="M212.3 1448L223.8 1450.2 212.6 1451.5 201.2 1449.5Z" fill="#61c700" stroke-width="0.80"/><path d="M166.9 1445.6L178.5 1449.3 167.5 1453.3 155.9 1449.7Z" fill="#5cc700"/><path d="M482.4 1507.7L493.7 1499.6 482.9 1484.4 471.5 1492.5Z" fill="#17e5ad"/><path d="M189.6 1446.5L201.2 1449.5 190 1452.2 178.5 1449.3Z" fill="#60c700" stroke-width="1.13"/><path d="M426.8 1497.9L438 1492.4 427 1480.1 415.7 1485.6Z" fill="#19eb70"/><path d="M246.3 1451.3L257.8 1452.7 246.5 1451.4 235 1450.1Z" fill="#93ff08" stroke-width="0.80"/><path d="M493.1 1524.2L504.4 1516.1 493.7 1499.6 482.4 1507.7Z" fill="#11d8e2"/><path d="M449 1506.1L460.2 1499.8 449.3 1486 438 1492.4Z" fill="#17e896"/><path d="M359.6 1476.4L370.8 1473.5 359.6 1465.3 348.3 1468.3Z" fill="#2bf51b"/><path d="M337 1470.3L348.3 1468.3 337 1461.5 325.7 1463.6Z" fill="#46f718"/><path d="M314.4 1464.7L325.7 1463.6 314.4 1458.2 303.1 1459.4Z" fill="#5efa14" stroke-width="1.28"/><path d="M223.6 1447.8L235 1450.1 223.8 1450.2 212.3 1448Z" fill="#79c700" stroke-width="0.80"/><path d="M178 1442.6L189.6 1446.5 178.5 1449.3 166.9 1445.6Z" fill="#82c700" stroke-width="1.33"/><path d="M382.1 1483L393.3 1479.3 382.1 1469.7 370.8 1473.5Z" fill="#1cf12b"/><path d="M291.8 1459.7L303.1 1459.4 291.8 1455.4 280.4 1455.8Z" fill="#72fd10" stroke-width="0.87"/><path d="M471.1 1514.9L482.4 1507.7 471.5 1492.5 460.2 1499.8Z" fill="#14e5bf"/><path d="M404.5 1490.2L415.7 1485.6 404.6 1474.6 393.3 1479.3Z" fill="#1bee4c"/><path d="M269.1 1455.2L280.4 1455.8 269.1 1453.1 257.8 1452.7Z" fill="#84ff0b" stroke-width="0.80"/><path d="M200.8 1445L212.3 1448 201.2 1449.5 189.6 1446.5Z" fill="#7fc700" stroke-width="0.92"/><path d="M481.8 1531.4L493.1 1524.2 482.4 1507.7 471.1 1514.9Z" fill="#0fc6e2"/><path d="M437.7 1511.5L449 1506.1 438 1492.4 426.8 1497.9Z" fill="#13e89e"/><path d="M415.5 1502.4L426.8 1497.9 415.7 1485.6 404.5 1490.2Z" fill="#15eb72"/><path d="M370.8 1485.8L382.1 1483 370.8 1473.5 359.6 1476.4Z" fill="#16f122"/><path d="M348.3 1478.3L359.6 1476.4 348.3 1468.3 337 1470.3Z" fill="#2df414"/><path d="M325.7 1471.3L337 1470.3 325.7 1463.6 314.4 1464.7Z" fill="#4df712"/><path d="M303.1 1464.9L314.4 1464.7 303.1 1459.4 291.8 1459.7Z" fill="#6bfa0f" stroke-width="1.09"/><path d="M257.6 1453.7L269.1 1455.2 257.8 1452.7 246.3 1451.3Z" fill="#9efe08" stroke-width="0.80"/><path d="M234.9 1448.9L246.3 1451.3 235 1450.1 223.6 1447.8Z" fill="#b3ff05" stroke-width="0.80"/><path d="M189.2 1440.9L200.8 1445 189.6 1446.5 178 1442.6Z" fill="#a1c700" stroke-width="1.12"/><path d="M459.9 1521.2L471.1 1514.9 460.2 1499.8 449 1506.1Z" fill="#11e5cc"/><path d="M212.1 1444.6L223.6 1447.8 212.3 1448 200.8 1445Z" fill="#97c700" stroke-width="0.80"/><path d="M393.2 1493.8L404.5 1490.2 393.3 1479.3 382.1 1483Z" fill="#16ee49"/><path d="M280.4 1459L291.8 1459.7 280.4 1455.8 269.1 1455.2Z" fill="#86fc0b" stroke-width="0.80"/><path d="M470.6 1537.7L481.8 1531.4 471.1 1514.9 459.9 1521.2Z" fill="#0db8e2"/><path d="M337 1479.3L348.3 1478.3 337 1470.3 325.7 1471.3Z" fill="#35f40f"/><path d="M200.5 1440.4L212.1 1444.6 200.8 1445 189.2 1440.9Z" fill="#bac700" stroke-width="0.91"/><path d="M448.7 1526.6L459.9 1521.2 449 1506.1 437.7 1511.5Z" fill="#0ee5d5"/><path d="M426.5 1516L437.7 1511.5 426.8 1497.9 415.5 1502.4Z" fill="#10e8a1"/><path d="M404.3 1506L415.5 1502.4 404.5 1490.2 393.2 1493.8Z" fill="#11eb71"/><path d="M382 1496.6L393.2 1493.8 382.1 1483 370.8 1485.8Z" fill="#11ee42"/><path d="M359.5 1487.6L370.8 1485.8 359.6 1476.4 348.3 1478.3Z" fill="#11f115"/><path d="M314.4 1471.4L325.7 1471.3 314.4 1464.7 303.1 1464.9Z" fill="#5bf70d" stroke-width="1.29"/><path d="M291.7 1464.1L303.1 1464.9 291.8 1459.7 280.4 1459Z" fill="#7ff90a" stroke-width="0.88"/><path d="M269 1457.4L280.4 1459 269.1 1455.2 257.6 1453.7Z" fill="#a0fc07" stroke-width="0.80"/><path d="M246.2 1451.2L257.6 1453.7 246.3 1451.3 234.9 1448.9Z" fill="#befd05" stroke-width="0.80"/><path d="M223.4 1445.5L234.9 1448.9 223.6 1447.8 212.1 1444.6Z" fill="#a9c700" stroke-width="0.80"/><path d="M459.5 1543L470.6 1537.7 459.9 1521.2 448.7 1526.6Z" fill="#0bafe2"/><path d="M393.1 1508.7L404.3 1506 393.2 1493.8 382 1496.6Z" fill="#0dea6a"/><path d="M348.3 1488.5L359.5 1487.6 348.3 1478.3 337 1479.3Z" fill="#16f00c"/><path d="M325.7 1479.3L337 1479.3 325.7 1471.3 314.4 1471.4Z" fill="#44f30b"/><path d="M280.3 1462.4L291.7 1464.1 280.4 1459 269 1457.4Z" fill="#9af907" stroke-width="0.80"/><path d="M211.8 1441.2L223.4 1445.5 212.1 1444.6 200.5 1440.4Z" fill="#c7c100" stroke-width="0.80"/><path d="M437.5 1531.1L448.7 1526.6 437.7 1511.5 426.5 1516Z" fill="#0ce4d9"/><path d="M415.4 1519.6L426.5 1516 415.5 1502.4 404.3 1506Z" fill="#0de7a0"/><path d="M370.8 1498.4L382 1496.6 370.8 1485.8 359.5 1487.6Z" fill="#0ded36"/><path d="M303.1 1470.6L314.4 1471.4 303.1 1464.9 291.7 1464.1Z" fill="#70f609" stroke-width="1.09"/><path d="M257.5 1454.8L269 1457.4 257.6 1453.7 246.2 1451.2Z" fill="#c1fb05" stroke-width="0.80"/><path d="M234.7 1447.7L246.2 1451.2 234.9 1448.9 223.4 1445.5Z" fill="#e5fd03" stroke-width="0.80"/><path d="M448.3 1547.5L459.5 1543 448.7 1526.6 437.5 1531.1Z" fill="#09ace1"/><path d="M404.2 1522.2L415.4 1519.6 404.3 1506 393.1 1508.7Z" fill="#0ae79a"/><path d="M381.9 1510.4L393.1 1508.7 382 1496.6 370.8 1498.4Z" fill="#0aea5e"/><path d="M359.5 1499.2L370.8 1498.4 359.5 1487.6 348.3 1488.5Z" fill="#0aed24"/><path d="M337 1488.5L348.3 1488.5 337 1479.3 325.7 1479.3Z" fill="#26f009"/><path d="M314.4 1478.3L325.7 1479.3 314.4 1471.4 303.1 1470.6Z" fill="#5af307" stroke-width="1.29"/><path d="M291.7 1468.7L303.1 1470.6 291.7 1464.1 280.3 1462.4Z" fill="#8cf606" stroke-width="0.88"/><path d="M268.9 1459.7L280.3 1462.4 269 1457.4 257.5 1454.8Z" fill="#bcf804" stroke-width="0.80"/><path d="M223.1 1443.2L234.7 1447.7 223.4 1445.5 211.8 1441.2Z" fill="#c7b500" stroke-width="0.80"/><path d="M426.3 1534.6L437.5 1531.1 426.5 1516 415.4 1519.6Z" fill="#0ae4d7"/><path d="M246.1 1451.2L257.5 1454.8 246.2 1451.2 234.7 1447.7Z" fill="#e8fa03" stroke-width="0.80"/><path d="M370.7 1511.2L381.9 1510.4 370.8 1498.4 359.5 1499.2Z" fill="#07ea4d"/><path d="M303.1 1476.4L314.4 1478.3 303.1 1470.6 291.7 1468.7Z" fill="#76f205" stroke-width="1.09"/><path d="M437.2 1551L448.3 1547.5 437.5 1531.1 426.3 1534.6Z" fill="#07ade1"/><path d="M415.2 1537.2L426.3 1534.6 415.4 1519.6 404.2 1522.2Z" fill="#07e4d1"/><path d="M393 1523.9L404.2 1522.2 393.1 1508.7 381.9 1510.4Z" fill="#08e78e"/><path d="M348.3 1499.1L359.5 1499.2 348.3 1488.5 337 1488.5Z" fill="#07ed0d"/><path d="M325.7 1487.5L337 1488.5 325.7 1479.3 314.4 1478.3Z" fill="#3cf006"/><path d="M280.3 1465.9L291.7 1468.7 280.3 1462.4 268.9 1459.7Z" fill="#aef504" stroke-width="0.80"/><path d="M257.4 1456L268.9 1459.7 257.5 1454.8 246.1 1451.2Z" fill="#e4f703" stroke-width="0.80"/><path d="M234.5 1446.6L246.1 1451.2 234.7 1447.7 223.1 1443.2Z" fill="#f9dd02" stroke-width="0.80"/><path d="M426.1 1553.5L437.2 1551 426.3 1534.6 415.2 1537.2Z" fill="#06b3e1"/><path d="M381.8 1524.6L393 1523.9 381.9 1510.4 370.7 1511.2Z" fill="#06e77d"/><path d="M359.5 1511L370.7 1511.2 359.5 1499.2 348.3 1499.1Z" fill="#05e936"/><path d="M314.4 1485.4L325.7 1487.5 314.4 1478.3 303.1 1476.4Z" fill="#5aef04" stroke-width="1.28"/><path d="M291.7 1473.5L303.1 1476.4 291.7 1468.7 280.3 1465.9Z" fill="#99f203" stroke-width="0.88"/><path d="M245.9 1451.2L257.4 1456 246.1 1451.2 234.5 1446.6Z" fill="#f6dc02" stroke-width="0.80"/><path d="M404 1538.8L415.2 1537.2 404.2 1522.2 393 1523.9Z" fill="#06e4c5"/><path d="M337 1497.9L348.3 1499.1 337 1488.5 325.7 1487.5Z" fill="#18ec05"/><path d="M268.8 1462.1L280.3 1465.9 268.9 1459.7 257.4 1456Z" fill="#d7f402" stroke-width="0.80"/><path d="M415 1555.1L426.1 1553.5 415.2 1537.2 404 1538.8Z" fill="#04bfe1"/><path d="M392.9 1539.5L404 1538.8 393 1523.9 381.8 1524.6Z" fill="#04e4b4"/><path d="M370.7 1524.3L381.8 1524.6 370.7 1511.2 359.5 1511Z" fill="#04e667"/><path d="M348.3 1509.8L359.5 1511 348.3 1499.1 337 1497.9Z" fill="#04e91b"/><path d="M325.7 1495.8L337 1497.9 325.7 1487.5 314.4 1485.4Z" fill="#36ec03"/><path d="M303 1482.4L314.4 1485.4 303.1 1476.4 291.7 1473.5Z" fill="#7def03" stroke-width="1.08"/><path d="M280.3 1469.5L291.7 1473.5 280.3 1465.9 268.8 1462.1Z" fill="#c2f102" stroke-width="0.80"/><path d="M257.3 1457.2L268.8 1462.1 257.4 1456 245.9 1451.2Z" fill="#f4e201" stroke-width="0.80"/><path d="M403.9 1555.7L415 1555.1 404 1538.8 392.9 1539.5Z" fill="#03d0e1"/><path d="M337 1507.6L348.3 1509.8 337 1497.9 325.7 1495.8Z" fill="#0be902"/><path d="M268.8 1464.6L280.3 1469.5 268.8 1462.1 257.3 1457.2Z" fill="#f1f001" stroke-width="0.80"/><path d="M381.8 1539.1L392.9 1539.5 381.8 1524.6 370.7 1524.3Z" fill="#03e39d"/><path d="M359.5 1523.1L370.7 1524.3 359.5 1511 348.3 1509.8Z" fill="#03e64b"/><path d="M314.4 1492.7L325.7 1495.8 314.4 1485.4 303 1482.4Z" fill="#5aec02" stroke-width="1.26"/><path d="M291.7 1478.3L303 1482.4 291.7 1473.5 280.3 1469.5Z" fill="#a6ee02" stroke-width="0.87"/><path d="M392.8 1555.3L403.9 1555.7 392.9 1539.5 381.8 1539.1Z" fill="#02e1db"/><path d="M348.2 1520.8L359.5 1523.1 348.3 1509.8 337 1507.6Z" fill="#02e62a"/><path d="M325.7 1504.4L337 1507.6 325.7 1495.8 314.4 1492.7Z" fill="#30e802" stroke-width="1.43"/><path d="M280.2 1473.3L291.7 1478.3 280.3 1469.5 268.8 1464.6Z" fill="#d5ee01" stroke-width="0.80"/><path d="M370.6 1537.8L381.8 1539.1 370.7 1524.3 359.5 1523.1Z" fill="#02e381"/><path d="M303 1488.5L314.4 1492.7 303 1482.4 291.7 1478.3Z" fill="#83eb01" stroke-width="1.06"/><path d="M381.7 1553.9L392.8 1555.3 381.8 1539.1 370.6 1537.8Z" fill="#02e1be"/><path d="M359.4 1535.4L370.6 1537.8 359.5 1523.1 348.2 1520.8Z" fill="#01e360"/><path d="M337 1517.5L348.2 1520.8 337 1507.6 325.7 1504.4Z" fill="#01e603"/><path d="M314.4 1500.2L325.7 1504.4 314.4 1492.7 303 1488.5Z" fill="#5ae801" stroke-width="1.24"/><path d="M291.6 1483.4L303 1488.5 291.7 1478.3 280.2 1473.3Z" fill="#b3eb01" stroke-width="0.86"/><path d="M370.6 1551.5L381.7 1553.9 370.6 1537.8 359.4 1535.4Z" fill="#01e09d"/><path d="M303 1494.9L314.4 1500.2 303 1488.5 291.6 1483.4Z" fill="#8ae801" stroke-width="1.04"/><path d="M348.2 1532.1L359.4 1535.4 348.2 1520.8 337 1517.5Z" fill="#01e33a"/><path d="M325.7 1513.2L337 1517.5 325.7 1504.4 314.4 1500.2Z" fill="#2ae501" stroke-width="1.40"/><path d="M359.4 1548.1L370.6 1551.5 359.4 1535.4 348.2 1532.1Z" fill="#01e076"/><path d="M314.4 1507.8L325.7 1513.2 314.4 1500.2 303 1494.9Z" fill="#5ae500" stroke-width="1.21"/><path d="M337 1527.6L348.2 1532.1 337 1517.5 325.7 1513.2Z" fill="#01e30e"/><path d="M348.2 1543.6L359.4 1548.1 348.2 1532.1 337 1527.6Z" fill="#00e04a"/><path d="M325.7 1522.2L337 1527.6 325.7 1513.2 314.4 1507.8Z" fill="#24e200" stroke-width="1.36"/><path d="M337 1538L348.2 1543.6 337 1527.6 325.7 1522.2Z" fill="#00e019"/></g>
<text x="96" y="645.1" font-size="14.29" fill="#444" textLength="18.3" lengthAdjust="spacingAndGlyphs">50</text>
<text x="84.8" y="612.2" font-size="14.29" fill="#444" textLength="27.9" lengthAdjust="spacingAndGlyphs">100</text>
<text x="83.2" y="579.2" font-size="14.29" fill="#444" textLength="27.9" lengthAdjust="spacingAndGlyphs">150</text>
<text x="81.9" y="546.2" font-size="14.29" fill="#444" textLength="27.4" lengthAdjust="spacingAndGlyphs">200</text>
<text x="80.3" y="513.3" font-size="14.29" fill="#444" textLength="27.4" lengthAdjust="spacingAndGlyphs">250</text>
<text x="78.8" y="480.3" font-size="14.29" fill="#444" textLength="27.3" lengthAdjust="spacingAndGlyphs">300</text>
<text x="77.2" y="447.3" font-size="14.29" fill="#444" textLength="27.3" lengthAdjust="spacingAndGlyphs">350</text>
<text x="72.8" y="1092.5" font-size="15.86" fill="#444" textLength="19.3" lengthAdjust="spacingAndGlyphs">50</text>
<text x="60.5" y="1049.6" font-size="15.86" fill="#444" textLength="29.4" lengthAdjust="spacingAndGlyphs">100</text>
<text x="58.2" y="1006.7" font-size="15.86" fill="#444" textLength="29.4" lengthAdjust="spacingAndGlyphs">150</text>
<text x="56.5" y="963.8" font-size="15.86" fill="#444" textLength="28.9" lengthAdjust="spacingAndGlyphs">200</text>
<text x="54.2" y="920.9" font-size="15.86" fill="#444" textLength="28.9" lengthAdjust="spacingAndGlyphs">250</text>
<text x="52.2" y="878" font-size="15.86" fill="#444" textLength="28.7" lengthAdjust="spacingAndGlyphs">300</text>
<text x="88" y="1562.3" font-size="16.43" fill="#444" textLength="19.7" lengthAdjust="spacingAndGlyphs">50</text>
<text x="75.5" y="1519" font-size="16.43" fill="#444" textLength="30" lengthAdjust="spacingAndGlyphs">100</text>
<text x="73.4" y="1475.8" font-size="16.43" fill="#444" textLength="30" lengthAdjust="spacingAndGlyphs">150</text>
<text x="71.7" y="1432.6" font-size="16.43" fill="#444" textLength="29.6" lengthAdjust="spacingAndGlyphs">200</text>
<text x="69.6" y="1389.3" font-size="16.43" fill="#444" textLength="29.6" lengthAdjust="spacingAndGlyphs">250</text>
<text x="67.6" y="1346.1" font-size="16.43" fill="#444" textLength="29.4" lengthAdjust="spacingAndGlyphs">300</text>
<text x="49.4" y="670.1" font-size="21.59" fill="#333" textLength="138.4" lengthAdjust="spacingAndGlyphs" transform="rotate(-90 49.4 670.1)">Diameter (nm)</text>
<text x="43.6" y="1081.5" font-size="22.32" fill="#333" textLength="144.6" lengthAdjust="spacingAndGlyphs" transform="rotate(-90 43.6 1081.5)">Diameter (nm)</text>
<text x="45.4" y="1545.5" font-size="23.48" fill="#333" textLength="145.3" lengthAdjust="spacingAndGlyphs" transform="rotate(-90 45.4 1545.5)">Diameter (nm)</text>
<text x="77.9" y="728" font-size="14.86" fill="#444" textLength="39.1" lengthAdjust="spacingAndGlyphs">26.00</text>
<text x="127.9" y="750.2" font-size="14.86" fill="#444" textLength="39.1" lengthAdjust="spacingAndGlyphs">24.00</text>
<text x="176.2" y="773.7" font-size="14.86" fill="#444" textLength="39.5" lengthAdjust="spacingAndGlyphs">22.00</text>
<text x="227.2" y="795.6" font-size="14.86" fill="#444" textLength="39.1" lengthAdjust="spacingAndGlyphs">20.00</text>
<text x="277.7" y="818.5" font-size="14.86" fill="#444" textLength="38.7" lengthAdjust="spacingAndGlyphs">18.00</text>
<text x="335.4" y="818.8" font-size="14.86" fill="#444" textLength="29.2" lengthAdjust="spacingAndGlyphs">1.50</text>
<text x="374.9" y="799.5" font-size="14.86" fill="#444" textLength="29.8" lengthAdjust="spacingAndGlyphs">1.70</text>
<text x="414.4" y="782.3" font-size="14.86" fill="#444" textLength="29.2" lengthAdjust="spacingAndGlyphs">1.90</text>
<text x="453.2" y="765.1" font-size="14.86" fill="#444" textLength="30.4" lengthAdjust="spacingAndGlyphs">2.10</text>
<text x="492.2" y="745.8" font-size="14.86" fill="#444" textLength="30.4" lengthAdjust="spacingAndGlyphs">2.30</text>
<text x="532.2" y="727.6" font-size="14.86" fill="#444" textLength="31" lengthAdjust="spacingAndGlyphs">2.50</text>
<text x="95.7" y="798.2" font-size="15.22" fill="#444" textLength="104.3" lengthAdjust="spacingAndGlyphs">B: Voltage (Kv)</text>
<text x="436.7" y="798.5" font-size="15.22" fill="#444" textLength="131.9" lengthAdjust="spacingAndGlyphs">A: Flow rate (ml/h)</text>
<text x="52.5" y="1181.4" font-size="17.43" fill="#444" textLength="42.9" lengthAdjust="spacingAndGlyphs">12.00</text>
<text x="107.6" y="1205.7" font-size="17.43" fill="#444" textLength="42.7" lengthAdjust="spacingAndGlyphs">11.00</text>
<text x="161.3" y="1231.1" font-size="17.43" fill="#444" textLength="41.8" lengthAdjust="spacingAndGlyphs">10.00</text>
<text x="224.7" y="1255.4" font-size="17.43" fill="#444" textLength="33.9" lengthAdjust="spacingAndGlyphs">9.00</text>
<text x="280.5" y="1280.7" font-size="17.43" fill="#444" textLength="31.8" lengthAdjust="spacingAndGlyphs">8.00</text>
<text x="333.2" y="1280.7" font-size="17.43" fill="#444" textLength="32.4" lengthAdjust="spacingAndGlyphs">1.50</text>
<text x="376.8" y="1259.4" font-size="17.43" fill="#444" textLength="31.9" lengthAdjust="spacingAndGlyphs">1.70</text>
<text x="419.4" y="1241.1" font-size="17.43" fill="#444" textLength="32.3" lengthAdjust="spacingAndGlyphs">1.90</text>
<text x="461.4" y="1220.9" font-size="17.43" fill="#444" textLength="32.9" lengthAdjust="spacingAndGlyphs">2.10</text>
<text x="505" y="1200.6" font-size="17.43" fill="#444" textLength="33.1" lengthAdjust="spacingAndGlyphs">2.30</text>
<text x="548.5" y="1181.4" font-size="17.43" fill="#444" textLength="33.1" lengthAdjust="spacingAndGlyphs">2.50</text>
<text x="63.4" y="1258.4" font-size="17.68" fill="#444" textLength="131.6" lengthAdjust="spacingAndGlyphs">C: Distance  (cm)</text>
<text x="443.9" y="1258.4" font-size="17.68" fill="#444" textLength="144" lengthAdjust="spacingAndGlyphs">A: Flow rate (ml/h)</text>
<text x="68.9" y="1651.5" font-size="17.43" fill="#444" textLength="41.6" lengthAdjust="spacingAndGlyphs">12.00</text>
<text x="123.2" y="1675.8" font-size="17.43" fill="#444" textLength="41.9" lengthAdjust="spacingAndGlyphs">11.00</text>
<text x="176.4" y="1701.2" font-size="17.43" fill="#444" textLength="41.4" lengthAdjust="spacingAndGlyphs">10.00</text>
<text x="240.7" y="1725.5" font-size="17.43" fill="#444" textLength="32.4" lengthAdjust="spacingAndGlyphs">9.00</text>
<text x="294.4" y="1750.8" font-size="17.43" fill="#444" textLength="32.9" lengthAdjust="spacingAndGlyphs">8.00</text>
<text x="347.3" y="1750.8" font-size="17.43" fill="#444" textLength="41.4" lengthAdjust="spacingAndGlyphs">18.00</text>
<text x="400.4" y="1725.5" font-size="17.43" fill="#444" textLength="41.1" lengthAdjust="spacingAndGlyphs">20.00</text>
<text x="454.8" y="1701.2" font-size="17.43" fill="#444" textLength="40.8" lengthAdjust="spacingAndGlyphs">22.00</text>
<text x="507.9" y="1675.8" font-size="17.43" fill="#444" textLength="41" lengthAdjust="spacingAndGlyphs">24.00</text>
<text x="561.6" y="1651.9" font-size="17.43" fill="#444" textLength="42.1" lengthAdjust="spacingAndGlyphs">26.00</text>
<text x="79.4" y="1728.6" font-size="17.68" fill="#444" textLength="131.6" lengthAdjust="spacingAndGlyphs">C: Distance  (cm)</text>
<text x="471.8" y="1728.6" font-size="17.68" fill="#444" textLength="113" lengthAdjust="spacingAndGlyphs">B: Voltage (Kv)</text>
<line x1="226.5" y1="478.2" x2="226.5" y2="486.2" stroke="#300" stroke-width="1.3"/>
<circle cx="226.5" cy="478.2" r="4.3" fill="#b00000" stroke="#500" stroke-width="0.8"/>
<circle cx="213.7" cy="546.7" r="4.3" fill="#b00000" stroke="#500" stroke-width="0.8"/>
<line x1="422.6" y1="538.1" x2="422.6" y2="545.1" stroke="#300" stroke-width="1.3"/>
<circle cx="422.6" cy="538.1" r="4.3" fill="#b00000" stroke="#500" stroke-width="0.8"/>
<circle cx="436.3" cy="563.1" r="4.3" fill="#f6c8c8" stroke="#500" stroke-width="0.8"/>
<circle cx="198.6" cy="952.6" r="4.3" fill="#b00000" stroke="#500" stroke-width="0.8"/>
<circle cx="428.5" cy="957.8" r="4.3" fill="#b00000" stroke="#500" stroke-width="0.8"/>
<circle cx="441" cy="1077.4" r="4.3" fill="#b00000" stroke="#500" stroke-width="0.8"/>
<circle cx="214.9" cy="1443" r="4.3" fill="#f6c8c8" stroke="#500" stroke-width="0.8"/>
<line x1="444.1" y1="1347.5" x2="444.1" y2="1355.5" stroke="#300" stroke-width="1.3"/>
<circle cx="444.1" cy="1347.5" r="4.3" fill="#b00000" stroke="#500" stroke-width="0.8"/>
<circle cx="455.4" cy="1546.9" r="4.3" fill="#b00000" stroke="#500" stroke-width="0.8"/>
<text x="353.5" y="41.4" font-size="44.06" font-weight="bold" fill="#000" textLength="31.5" lengthAdjust="spacingAndGlyphs">A</text>
<text x="7.2" y="420.5" font-size="43.04" font-weight="bold" fill="#000" textLength="29.6" lengthAdjust="spacingAndGlyphs">B</text>
<text x="11.4" y="870" font-size="43.34" font-weight="bold" fill="#000" textLength="28.9" lengthAdjust="spacingAndGlyphs">C</text>
<text x="5.5" y="1323.6" font-size="39.42" font-weight="bold" fill="#000" textLength="31.9" lengthAdjust="spacingAndGlyphs">D</text>
<text x="610.2" y="420.8" font-size="43.19" font-weight="bold" fill="#000" textLength="27.2" lengthAdjust="spacingAndGlyphs">E</text>
<text x="612.3" y="869.2" font-size="40.87" font-weight="bold" fill="#000" textLength="24.9" lengthAdjust="spacingAndGlyphs">F</text>
<text x="607.7" y="1322.5" font-size="39.82" font-weight="bold" fill="#000" textLength="35.4" lengthAdjust="spacingAndGlyphs">G</text>
</svg></div></body></html>
